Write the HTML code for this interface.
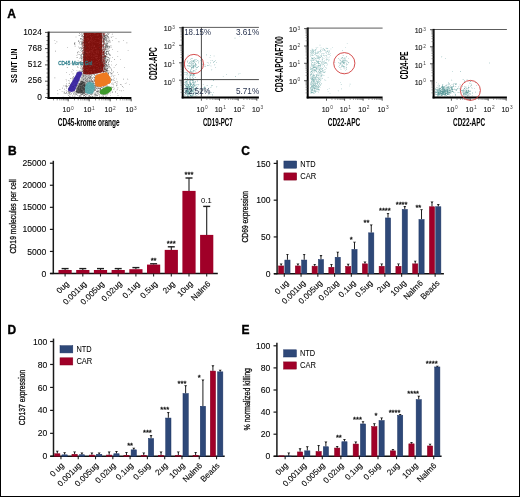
<!DOCTYPE html>
<html><head><meta charset="utf-8"><style>
html,body{margin:0;padding:0;background:#fff;}
#f{position:relative;width:520px;height:497px;box-sizing:border-box;border:1px solid #000;overflow:hidden;}
svg{position:absolute;left:-1px;top:-1px;filter:blur(0.33px);}
text{font-family:"Liberation Sans",sans-serif;}
</style></head><body><div id="f">
<svg width="520" height="497" viewBox="0 0 520 497">
<rect x="0" y="0" width="520" height="497" fill="#fff"/>
<text x="7.3" y="17.8" font-size="12.0" stroke="#000" stroke-width="0.35" font-weight="bold" fill="#000">A</text>
<text x="7.9" y="155.2" font-size="12.0" stroke="#000" stroke-width="0.35" font-weight="bold" fill="#000">B</text>
<text x="241.2" y="155.3" font-size="12.0" stroke="#000" stroke-width="0.35" font-weight="bold" fill="#000">C</text>
<text x="7.6" y="333.8" font-size="12.0" stroke="#000" stroke-width="0.35" font-weight="bold" fill="#000">D</text>
<text x="241.5" y="333.8" font-size="12.0" stroke="#000" stroke-width="0.35" font-weight="bold" fill="#000">E</text>
<path fill="#1e1e1e" fill-opacity="0.75" d="M75.7 36.7h0.6v0.6h-0.6zM82.1 67.5h0.6v0.6h-0.6zM83.2 37.0h0.6v0.6h-0.6zM83.2 53.6h0.6v0.6h-0.6zM73.3 64.6h0.6v0.6h-0.6zM82.8 49.8h0.6v0.6h-0.6zM81.8 51.5h0.6v0.6h-0.6zM82.6 64.7h0.6v0.6h-0.6zM83.1 45.2h0.6v0.6h-0.6zM83.3 62.9h0.6v0.6h-0.6zM79.0 33.1h0.6v0.6h-0.6zM82.3 45.8h0.6v0.6h-0.6zM82.2 71.3h0.6v0.6h-0.6zM83.0 53.3h0.6v0.6h-0.6zM80.7 34.3h0.6v0.6h-0.6zM80.9 49.1h0.6v0.6h-0.6zM81.1 61.4h0.6v0.6h-0.6zM83.6 41.9h0.6v0.6h-0.6zM74.8 45.8h0.6v0.6h-0.6zM80.8 64.1h0.6v0.6h-0.6zM83.0 68.7h0.6v0.6h-0.6zM82.5 62.4h0.6v0.6h-0.6zM83.8 51.4h0.6v0.6h-0.6zM79.4 70.8h0.6v0.6h-0.6zM83.3 69.5h0.6v0.6h-0.6zM83.2 53.6h0.6v0.6h-0.6zM82.0 63.0h0.6v0.6h-0.6zM83.2 70.5h0.6v0.6h-0.6zM83.2 57.2h0.6v0.6h-0.6zM81.7 59.4h0.6v0.6h-0.6zM78.7 40.8h0.6v0.6h-0.6zM80.8 65.3h0.6v0.6h-0.6zM77.4 72.6h0.6v0.6h-0.6zM81.6 69.6h0.6v0.6h-0.6zM77.0 74.5h0.6v0.6h-0.6zM82.9 66.8h0.6v0.6h-0.6zM78.8 35.3h0.6v0.6h-0.6zM82.8 36.7h0.6v0.6h-0.6zM79.4 42.2h0.6v0.6h-0.6zM82.7 38.5h0.6v0.6h-0.6zM78.5 54.2h0.6v0.6h-0.6zM81.5 74.5h0.6v0.6h-0.6zM82.8 42.2h0.6v0.6h-0.6zM81.3 63.4h0.6v0.6h-0.6zM79.5 62.2h0.6v0.6h-0.6zM82.0 58.4h0.6v0.6h-0.6zM83.2 61.8h0.6v0.6h-0.6zM79.9 56.9h0.6v0.6h-0.6zM83.9 54.3h0.6v0.6h-0.6zM81.5 53.7h0.6v0.6h-0.6zM82.9 66.3h0.6v0.6h-0.6zM83.1 33.8h0.6v0.6h-0.6zM81.4 41.8h0.6v0.6h-0.6zM83.5 49.7h0.6v0.6h-0.6zM83.2 72.1h0.6v0.6h-0.6zM79.1 48.0h0.6v0.6h-0.6zM77.4 53.7h0.6v0.6h-0.6zM82.0 56.5h0.6v0.6h-0.6zM76.6 57.2h0.6v0.6h-0.6zM80.5 73.7h0.6v0.6h-0.6zM80.8 65.0h0.6v0.6h-0.6zM83.8 68.3h0.6v0.6h-0.6zM77.3 53.7h0.6v0.6h-0.6zM81.4 44.3h0.6v0.6h-0.6zM78.3 46.7h0.6v0.6h-0.6zM79.5 58.0h0.6v0.6h-0.6zM83.3 52.0h0.6v0.6h-0.6zM79.1 63.4h0.6v0.6h-0.6zM82.9 40.3h0.6v0.6h-0.6zM82.3 50.4h0.6v0.6h-0.6zM80.9 47.3h0.6v0.6h-0.6zM76.0 73.1h0.6v0.6h-0.6zM82.1 39.3h0.6v0.6h-0.6zM79.6 47.6h0.6v0.6h-0.6zM81.2 56.1h0.6v0.6h-0.6zM82.8 38.4h0.6v0.6h-0.6zM83.5 61.7h0.6v0.6h-0.6zM83.0 76.0h0.6v0.6h-0.6zM83.5 56.1h0.6v0.6h-0.6zM82.4 35.3h0.6v0.6h-0.6zM82.8 40.5h0.6v0.6h-0.6zM82.6 73.3h0.6v0.6h-0.6zM81.3 33.4h0.6v0.6h-0.6zM78.5 50.9h0.6v0.6h-0.6zM81.2 43.2h0.6v0.6h-0.6zM83.5 50.4h0.6v0.6h-0.6zM80.4 63.3h0.6v0.6h-0.6zM83.4 49.0h0.6v0.6h-0.6zM83.0 54.3h0.6v0.6h-0.6zM81.3 55.2h0.6v0.6h-0.6zM77.0 52.1h0.6v0.6h-0.6zM76.9 57.3h0.6v0.6h-0.6zM82.7 33.0h0.6v0.6h-0.6zM81.5 66.1h0.6v0.6h-0.6zM82.7 57.1h0.6v0.6h-0.6zM78.7 70.7h0.6v0.6h-0.6zM80.6 56.5h0.6v0.6h-0.6zM80.8 61.7h0.6v0.6h-0.6zM80.1 61.8h0.6v0.6h-0.6zM80.6 66.8h0.6v0.6h-0.6zM81.9 34.2h0.6v0.6h-0.6zM83.0 69.9h0.6v0.6h-0.6zM83.0 60.7h0.6v0.6h-0.6zM81.5 48.3h0.6v0.6h-0.6zM81.8 36.3h0.6v0.6h-0.6zM80.3 70.7h0.6v0.6h-0.6zM81.3 38.8h0.6v0.6h-0.6zM82.1 71.4h0.6v0.6h-0.6zM83.8 44.6h0.6v0.6h-0.6zM83.3 61.4h0.6v0.6h-0.6zM83.3 53.9h0.6v0.6h-0.6zM83.4 64.0h0.6v0.6h-0.6zM80.3 67.9h0.6v0.6h-0.6zM77.7 51.7h0.6v0.6h-0.6zM83.5 45.0h0.6v0.6h-0.6zM82.2 42.1h0.6v0.6h-0.6zM78.2 40.2h0.6v0.6h-0.6zM83.4 71.8h0.6v0.6h-0.6zM80.0 38.8h0.6v0.6h-0.6zM81.5 50.8h0.6v0.6h-0.6zM81.8 64.7h0.6v0.6h-0.6zM82.1 60.5h0.6v0.6h-0.6zM83.2 48.2h0.6v0.6h-0.6zM81.4 57.8h0.6v0.6h-0.6zM76.6 55.0h0.6v0.6h-0.6zM83.5 51.7h0.6v0.6h-0.6zM83.8 41.1h0.6v0.6h-0.6zM82.2 69.6h0.6v0.6h-0.6zM83.4 43.2h0.6v0.6h-0.6zM80.1 41.5h0.6v0.6h-0.6zM83.5 53.9h0.6v0.6h-0.6zM80.9 70.8h0.6v0.6h-0.6zM82.1 67.7h0.6v0.6h-0.6zM81.5 72.2h0.6v0.6h-0.6zM81.6 57.1h0.6v0.6h-0.6zM81.2 54.6h0.6v0.6h-0.6zM83.6 72.1h0.6v0.6h-0.6zM79.8 61.5h0.6v0.6h-0.6zM82.8 38.8h0.6v0.6h-0.6zM77.8 67.2h0.6v0.6h-0.6zM83.6 55.4h0.6v0.6h-0.6zM80.0 54.9h0.6v0.6h-0.6zM82.7 65.1h0.6v0.6h-0.6zM81.3 42.1h0.6v0.6h-0.6zM82.2 54.2h0.6v0.6h-0.6zM83.2 66.4h0.6v0.6h-0.6zM82.1 64.6h0.6v0.6h-0.6zM81.0 42.9h0.6v0.6h-0.6zM83.6 75.7h0.6v0.6h-0.6zM83.8 62.7h0.6v0.6h-0.6zM82.1 43.0h0.6v0.6h-0.6zM80.2 50.2h0.6v0.6h-0.6zM82.7 52.8h0.6v0.6h-0.6zM78.5 73.5h0.6v0.6h-0.6zM81.1 73.6h0.6v0.6h-0.6zM80.9 73.3h0.6v0.6h-0.6zM83.8 64.3h0.6v0.6h-0.6zM79.7 52.2h0.6v0.6h-0.6zM81.1 60.0h0.6v0.6h-0.6zM82.1 39.6h0.6v0.6h-0.6zM82.9 59.4h0.6v0.6h-0.6zM82.9 68.9h0.6v0.6h-0.6zM78.9 43.6h0.6v0.6h-0.6zM80.4 61.0h0.6v0.6h-0.6zM81.8 43.5h0.6v0.6h-0.6zM74.6 44.1h0.6v0.6h-0.6zM81.9 58.5h0.6v0.6h-0.6zM82.8 63.1h0.6v0.6h-0.6zM80.4 46.9h0.6v0.6h-0.6zM74.1 43.4h0.6v0.6h-0.6zM81.9 64.4h0.6v0.6h-0.6zM81.8 47.8h0.6v0.6h-0.6zM78.9 74.2h0.6v0.6h-0.6zM83.2 36.1h0.6v0.6h-0.6zM83.5 54.3h0.6v0.6h-0.6zM83.6 60.2h0.6v0.6h-0.6zM81.3 36.0h0.6v0.6h-0.6zM82.1 74.2h0.6v0.6h-0.6zM82.8 53.2h0.6v0.6h-0.6zM81.5 58.3h0.6v0.6h-0.6zM83.0 56.0h0.6v0.6h-0.6zM80.2 54.8h0.6v0.6h-0.6zM83.6 40.7h0.6v0.6h-0.6zM81.1 38.3h0.6v0.6h-0.6zM81.7 64.0h0.6v0.6h-0.6zM80.0 38.1h0.6v0.6h-0.6zM83.3 67.1h0.6v0.6h-0.6zM81.8 35.4h0.6v0.6h-0.6zM81.5 66.6h0.6v0.6h-0.6zM78.3 41.3h0.6v0.6h-0.6zM83.5 66.9h0.6v0.6h-0.6zM83.1 55.8h0.6v0.6h-0.6zM83.0 75.1h0.6v0.6h-0.6zM82.0 36.6h0.6v0.6h-0.6zM81.3 58.6h0.6v0.6h-0.6zM77.8 60.0h0.6v0.6h-0.6zM81.4 45.7h0.6v0.6h-0.6zM82.1 44.4h0.6v0.6h-0.6zM82.7 68.9h0.6v0.6h-0.6zM79.5 41.9h0.6v0.6h-0.6zM82.3 50.1h0.6v0.6h-0.6zM83.4 74.9h0.6v0.6h-0.6zM82.4 42.4h0.6v0.6h-0.6zM79.3 54.2h0.6v0.6h-0.6zM80.8 47.9h0.6v0.6h-0.6zM80.2 62.2h0.6v0.6h-0.6zM83.4 43.4h0.6v0.6h-0.6zM81.4 35.5h0.6v0.6h-0.6zM79.1 35.4h0.6v0.6h-0.6zM77.4 66.6h0.6v0.6h-0.6zM81.6 54.2h0.6v0.6h-0.6zM82.8 41.9h0.6v0.6h-0.6zM81.5 40.8h0.6v0.6h-0.6zM82.2 47.6h0.6v0.6h-0.6zM80.6 44.4h0.6v0.6h-0.6zM83.6 63.2h0.6v0.6h-0.6zM83.3 54.8h0.6v0.6h-0.6zM80.5 57.7h0.6v0.6h-0.6zM83.5 57.8h0.6v0.6h-0.6zM82.0 73.9h0.6v0.6h-0.6zM104.3 49.3h0.6v0.6h-0.6zM104.9 49.1h0.6v0.6h-0.6zM105.6 62.2h0.6v0.6h-0.6zM104.6 36.7h0.6v0.6h-0.6zM107.5 59.3h0.6v0.6h-0.6zM104.0 66.8h0.6v0.6h-0.6zM104.2 41.1h0.6v0.6h-0.6zM102.6 35.0h0.6v0.6h-0.6zM106.6 54.6h0.6v0.6h-0.6zM104.3 58.3h0.6v0.6h-0.6zM107.1 44.8h0.6v0.6h-0.6zM107.5 48.0h0.6v0.6h-0.6zM103.0 33.1h0.6v0.6h-0.6zM104.0 73.0h0.6v0.6h-0.6zM105.3 56.8h0.6v0.6h-0.6zM102.7 63.1h0.6v0.6h-0.6zM109.3 60.9h0.6v0.6h-0.6zM102.8 54.5h0.6v0.6h-0.6zM111.5 70.7h0.6v0.6h-0.6zM102.4 65.8h0.6v0.6h-0.6zM105.5 67.3h0.6v0.6h-0.6zM103.3 48.9h0.6v0.6h-0.6zM107.4 40.0h0.6v0.6h-0.6zM106.6 64.0h0.6v0.6h-0.6zM108.0 58.9h0.6v0.6h-0.6zM102.5 61.8h0.6v0.6h-0.6zM103.6 73.5h0.6v0.6h-0.6zM103.0 49.7h0.6v0.6h-0.6zM103.9 63.3h0.6v0.6h-0.6zM107.9 38.0h0.6v0.6h-0.6zM106.7 35.4h0.6v0.6h-0.6zM105.2 64.6h0.6v0.6h-0.6zM105.8 75.2h0.6v0.6h-0.6zM108.9 50.3h0.6v0.6h-0.6zM104.5 54.7h0.6v0.6h-0.6zM109.1 66.6h0.6v0.6h-0.6zM103.5 39.3h0.6v0.6h-0.6zM104.2 39.3h0.6v0.6h-0.6zM102.4 55.8h0.6v0.6h-0.6zM110.1 67.6h0.6v0.6h-0.6zM102.5 40.8h0.6v0.6h-0.6zM105.1 44.3h0.6v0.6h-0.6zM105.2 76.0h0.6v0.6h-0.6zM104.6 38.6h0.6v0.6h-0.6zM104.4 33.2h0.6v0.6h-0.6zM104.4 36.2h0.6v0.6h-0.6zM103.7 74.5h0.6v0.6h-0.6zM104.2 72.9h0.6v0.6h-0.6zM103.6 64.6h0.6v0.6h-0.6zM103.6 60.7h0.6v0.6h-0.6zM107.3 33.5h0.6v0.6h-0.6zM109.2 46.2h0.6v0.6h-0.6zM104.0 55.8h0.6v0.6h-0.6zM105.5 60.5h0.6v0.6h-0.6zM108.9 53.4h0.6v0.6h-0.6zM107.5 68.3h0.6v0.6h-0.6zM104.0 54.8h0.6v0.6h-0.6zM106.0 60.8h0.6v0.6h-0.6zM103.9 51.9h0.6v0.6h-0.6zM109.3 46.2h0.6v0.6h-0.6zM104.7 37.6h0.6v0.6h-0.6zM107.1 70.7h0.6v0.6h-0.6zM107.7 63.4h0.6v0.6h-0.6zM102.7 35.5h0.6v0.6h-0.6zM106.3 53.4h0.6v0.6h-0.6zM115.7 38.2h0.6v0.6h-0.6zM106.6 74.2h0.6v0.6h-0.6zM103.3 55.8h0.6v0.6h-0.6zM105.9 42.9h0.6v0.6h-0.6zM105.6 45.0h0.6v0.6h-0.6zM104.0 40.1h0.6v0.6h-0.6zM104.5 35.7h0.6v0.6h-0.6zM107.6 47.3h0.6v0.6h-0.6zM105.4 64.3h0.6v0.6h-0.6zM104.1 41.6h0.6v0.6h-0.6zM106.6 61.1h0.6v0.6h-0.6zM105.5 52.9h0.6v0.6h-0.6zM107.5 67.9h0.6v0.6h-0.6zM106.8 47.3h0.6v0.6h-0.6zM105.5 39.9h0.6v0.6h-0.6zM105.5 34.8h0.6v0.6h-0.6zM106.4 40.0h0.6v0.6h-0.6zM102.5 40.8h0.6v0.6h-0.6zM107.3 51.1h0.6v0.6h-0.6zM105.2 56.3h0.6v0.6h-0.6zM103.6 36.5h0.6v0.6h-0.6zM105.7 61.7h0.6v0.6h-0.6zM103.6 63.7h0.6v0.6h-0.6zM107.7 33.6h0.6v0.6h-0.6zM105.2 45.2h0.6v0.6h-0.6zM107.2 53.9h0.6v0.6h-0.6zM103.8 36.2h0.6v0.6h-0.6zM112.1 39.9h0.6v0.6h-0.6zM106.0 62.4h0.6v0.6h-0.6zM103.0 70.7h0.6v0.6h-0.6zM111.9 33.8h0.6v0.6h-0.6zM104.9 61.7h0.6v0.6h-0.6zM102.9 54.9h0.6v0.6h-0.6zM103.6 58.7h0.6v0.6h-0.6zM104.5 68.2h0.6v0.6h-0.6zM103.7 37.4h0.6v0.6h-0.6zM103.4 68.6h0.6v0.6h-0.6zM108.5 40.9h0.6v0.6h-0.6zM106.5 70.0h0.6v0.6h-0.6zM104.2 35.2h0.6v0.6h-0.6zM105.8 51.8h0.6v0.6h-0.6zM103.2 40.8h0.6v0.6h-0.6zM104.2 70.7h0.6v0.6h-0.6zM108.0 72.7h0.6v0.6h-0.6zM103.0 64.7h0.6v0.6h-0.6zM105.2 73.7h0.6v0.6h-0.6zM103.0 44.0h0.6v0.6h-0.6zM109.1 54.8h0.6v0.6h-0.6zM107.3 46.1h0.6v0.6h-0.6zM104.4 54.6h0.6v0.6h-0.6zM103.8 70.3h0.6v0.6h-0.6zM104.7 75.1h0.6v0.6h-0.6zM108.9 46.7h0.6v0.6h-0.6zM105.8 68.9h0.6v0.6h-0.6zM105.6 60.9h0.6v0.6h-0.6zM102.8 53.5h0.6v0.6h-0.6zM112.7 36.2h0.6v0.6h-0.6zM111.7 72.8h0.6v0.6h-0.6zM103.7 38.9h0.6v0.6h-0.6zM109.3 54.3h0.6v0.6h-0.6zM102.7 55.9h0.6v0.6h-0.6zM103.2 62.3h0.6v0.6h-0.6zM102.7 58.9h0.6v0.6h-0.6zM108.0 36.2h0.6v0.6h-0.6zM105.6 60.7h0.6v0.6h-0.6zM103.4 50.9h0.6v0.6h-0.6zM109.4 58.8h0.6v0.6h-0.6zM103.0 44.5h0.6v0.6h-0.6zM111.1 61.5h0.6v0.6h-0.6zM102.9 38.7h0.6v0.6h-0.6zM107.8 39.4h0.6v0.6h-0.6zM109.7 45.7h0.6v0.6h-0.6zM103.2 44.4h0.6v0.6h-0.6zM107.5 60.3h0.6v0.6h-0.6zM104.6 64.1h0.6v0.6h-0.6zM102.5 58.1h0.6v0.6h-0.6zM109.5 47.0h0.6v0.6h-0.6zM103.9 47.7h0.6v0.6h-0.6zM103.0 38.1h0.6v0.6h-0.6zM107.1 49.6h0.6v0.6h-0.6zM107.6 36.1h0.6v0.6h-0.6zM102.9 66.0h0.6v0.6h-0.6zM105.9 52.9h0.6v0.6h-0.6zM105.1 37.2h0.6v0.6h-0.6zM104.0 70.7h0.6v0.6h-0.6zM106.1 46.3h0.6v0.6h-0.6zM104.6 67.1h0.6v0.6h-0.6zM103.9 35.4h0.6v0.6h-0.6zM103.3 74.1h0.6v0.6h-0.6zM102.8 66.5h0.6v0.6h-0.6zM105.9 70.5h0.6v0.6h-0.6zM102.4 73.2h0.6v0.6h-0.6zM106.8 43.3h0.6v0.6h-0.6zM108.7 33.3h0.6v0.6h-0.6zM108.4 50.8h0.6v0.6h-0.6zM104.6 67.2h0.6v0.6h-0.6zM108.7 70.9h0.6v0.6h-0.6zM105.0 39.7h0.6v0.6h-0.6zM103.4 43.9h0.6v0.6h-0.6zM109.6 41.2h0.6v0.6h-0.6zM108.9 65.8h0.6v0.6h-0.6zM104.5 50.2h0.6v0.6h-0.6zM104.1 57.8h0.6v0.6h-0.6zM107.3 72.7h0.6v0.6h-0.6zM103.4 51.9h0.6v0.6h-0.6zM103.2 64.2h0.6v0.6h-0.6zM104.8 36.1h0.6v0.6h-0.6zM109.2 40.2h0.6v0.6h-0.6zM105.2 49.4h0.6v0.6h-0.6zM104.8 55.8h0.6v0.6h-0.6zM109.2 47.7h0.6v0.6h-0.6zM106.8 37.4h0.6v0.6h-0.6zM103.2 63.4h0.6v0.6h-0.6zM104.6 65.3h0.6v0.6h-0.6zM104.4 55.0h0.6v0.6h-0.6zM103.0 60.9h0.6v0.6h-0.6zM109.8 54.6h0.6v0.6h-0.6zM105.6 47.9h0.6v0.6h-0.6zM103.4 53.4h0.6v0.6h-0.6zM103.5 35.6h0.6v0.6h-0.6zM102.7 34.6h0.6v0.6h-0.6zM105.3 52.0h0.6v0.6h-0.6zM105.2 57.6h0.6v0.6h-0.6zM108.2 34.1h0.6v0.6h-0.6zM106.2 64.7h0.6v0.6h-0.6zM105.5 68.5h0.6v0.6h-0.6zM104.2 57.5h0.6v0.6h-0.6zM102.6 75.3h0.6v0.6h-0.6zM106.7 38.1h0.6v0.6h-0.6zM103.3 41.9h0.6v0.6h-0.6zM104.6 75.5h0.6v0.6h-0.6zM102.8 53.4h0.6v0.6h-0.6zM108.4 53.4h0.6v0.6h-0.6zM106.5 45.6h0.6v0.6h-0.6zM108.9 46.2h0.6v0.6h-0.6zM106.7 50.8h0.6v0.6h-0.6zM105.1 70.6h0.6v0.6h-0.6zM108.4 57.2h0.6v0.6h-0.6zM110.1 72.1h0.6v0.6h-0.6zM102.6 49.4h0.6v0.6h-0.6zM104.6 72.9h0.6v0.6h-0.6zM108.1 45.9h0.6v0.6h-0.6zM102.5 51.2h0.6v0.6h-0.6zM105.4 61.9h0.6v0.6h-0.6zM106.2 34.8h0.6v0.6h-0.6zM107.4 69.5h0.6v0.6h-0.6zM102.4 75.1h0.6v0.6h-0.6zM108.2 64.1h0.6v0.6h-0.6zM102.9 52.2h0.6v0.6h-0.6zM105.8 56.8h0.6v0.6h-0.6zM103.5 65.8h0.6v0.6h-0.6zM104.6 42.5h0.6v0.6h-0.6zM111.2 37.5h0.6v0.6h-0.6zM107.1 33.7h0.6v0.6h-0.6zM105.9 38.9h0.6v0.6h-0.6zM107.9 45.9h0.6v0.6h-0.6zM102.8 47.6h0.6v0.6h-0.6zM107.9 41.0h0.6v0.6h-0.6zM104.9 49.9h0.6v0.6h-0.6zM104.7 47.4h0.6v0.6h-0.6zM104.7 68.8h0.6v0.6h-0.6zM102.5 64.9h0.6v0.6h-0.6zM106.5 42.4h0.6v0.6h-0.6zM108.3 57.3h0.6v0.6h-0.6zM105.8 69.8h0.6v0.6h-0.6zM107.1 57.4h0.6v0.6h-0.6zM105.5 39.7h0.6v0.6h-0.6zM106.3 70.1h0.6v0.6h-0.6zM109.0 60.0h0.6v0.6h-0.6zM108.6 60.9h0.6v0.6h-0.6zM106.2 35.7h0.6v0.6h-0.6zM108.3 37.5h0.6v0.6h-0.6zM105.6 64.7h0.6v0.6h-0.6zM106.6 72.0h0.6v0.6h-0.6zM102.6 52.3h0.6v0.6h-0.6zM103.3 74.0h0.6v0.6h-0.6zM105.3 75.2h0.6v0.6h-0.6zM110.8 36.7h0.6v0.6h-0.6zM102.6 54.0h0.6v0.6h-0.6zM104.9 34.9h0.6v0.6h-0.6zM114.3 59.3h0.6v0.6h-0.6zM106.5 62.5h0.6v0.6h-0.6zM103.2 47.5h0.6v0.6h-0.6zM106.8 46.2h0.6v0.6h-0.6zM105.5 62.4h0.6v0.6h-0.6zM102.5 50.7h0.6v0.6h-0.6zM103.0 61.4h0.6v0.6h-0.6zM107.9 66.5h0.6v0.6h-0.6zM108.7 53.7h0.6v0.6h-0.6zM103.2 59.8h0.6v0.6h-0.6zM105.1 53.5h0.6v0.6h-0.6zM103.6 46.6h0.6v0.6h-0.6zM106.1 49.6h0.6v0.6h-0.6zM106.1 62.0h0.6v0.6h-0.6zM105.6 65.5h0.6v0.6h-0.6zM103.4 51.6h0.6v0.6h-0.6zM102.7 39.9h0.6v0.6h-0.6zM107.2 46.4h0.6v0.6h-0.6zM103.7 74.9h0.6v0.6h-0.6zM105.1 71.0h0.6v0.6h-0.6zM109.7 42.3h0.6v0.6h-0.6zM104.8 66.0h0.6v0.6h-0.6zM109.8 40.7h0.6v0.6h-0.6zM105.5 64.6h0.6v0.6h-0.6zM104.1 59.1h0.6v0.6h-0.6zM104.1 55.8h0.6v0.6h-0.6zM104.3 68.5h0.6v0.6h-0.6zM102.5 62.6h0.6v0.6h-0.6zM110.8 46.8h0.6v0.6h-0.6zM104.4 50.1h0.6v0.6h-0.6zM105.4 52.7h0.6v0.6h-0.6zM103.7 53.0h0.6v0.6h-0.6zM108.1 73.9h0.6v0.6h-0.6zM104.0 71.3h0.6v0.6h-0.6zM104.6 38.8h0.6v0.6h-0.6zM115.2 64.9h0.6v0.6h-0.6zM104.0 50.9h0.6v0.6h-0.6zM106.1 69.2h0.6v0.6h-0.6zM113.8 66.9h0.6v0.6h-0.6zM105.7 62.8h0.6v0.6h-0.6zM106.4 51.5h0.6v0.6h-0.6zM107.5 43.3h0.6v0.6h-0.6zM105.8 37.1h0.6v0.6h-0.6zM102.6 60.7h0.6v0.6h-0.6zM103.4 74.1h0.6v0.6h-0.6zM104.7 66.4h0.6v0.6h-0.6zM102.6 46.5h0.6v0.6h-0.6zM104.1 35.3h0.6v0.6h-0.6zM107.3 35.9h0.6v0.6h-0.6zM103.8 64.3h0.6v0.6h-0.6zM105.1 49.5h0.6v0.6h-0.6zM105.0 69.4h0.6v0.6h-0.6zM107.3 43.6h0.6v0.6h-0.6zM104.1 54.8h0.6v0.6h-0.6zM111.1 68.8h0.6v0.6h-0.6zM106.0 40.7h0.6v0.6h-0.6zM103.5 35.1h0.6v0.6h-0.6zM102.7 56.0h0.6v0.6h-0.6zM107.0 59.7h0.6v0.6h-0.6zM104.2 67.0h0.6v0.6h-0.6zM102.9 66.0h0.6v0.6h-0.6zM102.8 57.5h0.6v0.6h-0.6zM106.8 33.7h0.6v0.6h-0.6zM109.1 58.4h0.6v0.6h-0.6zM107.8 45.2h0.6v0.6h-0.6zM106.3 62.4h0.6v0.6h-0.6zM105.6 59.7h0.6v0.6h-0.6zM107.8 40.0h0.6v0.6h-0.6zM103.2 52.1h0.6v0.6h-0.6zM103.8 73.8h0.6v0.6h-0.6zM103.7 48.4h0.6v0.6h-0.6zM103.3 73.5h0.6v0.6h-0.6zM105.8 71.9h0.6v0.6h-0.6zM108.5 53.8h0.6v0.6h-0.6zM107.0 35.5h0.6v0.6h-0.6zM106.8 42.3h0.6v0.6h-0.6zM105.1 59.3h0.6v0.6h-0.6zM102.4 62.6h0.6v0.6h-0.6zM102.4 49.1h0.6v0.6h-0.6zM106.2 56.1h0.6v0.6h-0.6zM107.2 60.2h0.6v0.6h-0.6zM106.7 44.8h0.6v0.6h-0.6zM104.1 36.7h0.6v0.6h-0.6zM103.8 71.5h0.6v0.6h-0.6zM104.2 57.1h0.6v0.6h-0.6zM105.3 47.3h0.6v0.6h-0.6zM104.1 52.7h0.6v0.6h-0.6zM102.8 74.0h0.6v0.6h-0.6zM106.1 38.9h0.6v0.6h-0.6zM108.5 62.7h0.6v0.6h-0.6zM107.8 58.7h0.6v0.6h-0.6zM110.7 45.0h0.6v0.6h-0.6zM102.6 75.3h0.6v0.6h-0.6zM104.3 52.3h0.6v0.6h-0.6zM104.4 60.6h0.6v0.6h-0.6zM105.0 58.3h0.6v0.6h-0.6zM105.5 73.5h0.6v0.6h-0.6zM106.4 64.7h0.6v0.6h-0.6zM102.6 34.8h0.6v0.6h-0.6zM105.8 48.4h0.6v0.6h-0.6zM106.4 52.6h0.6v0.6h-0.6zM106.3 41.2h0.6v0.6h-0.6zM104.0 36.3h0.6v0.6h-0.6zM103.3 58.6h0.6v0.6h-0.6zM102.8 73.5h0.6v0.6h-0.6zM104.4 36.7h0.6v0.6h-0.6zM103.1 38.3h0.6v0.6h-0.6zM103.0 42.2h0.6v0.6h-0.6zM103.0 55.9h0.6v0.6h-0.6zM106.7 36.6h0.6v0.6h-0.6zM106.3 53.9h0.6v0.6h-0.6zM108.2 48.6h0.6v0.6h-0.6zM104.7 56.3h0.6v0.6h-0.6zM107.5 65.8h0.6v0.6h-0.6zM104.5 55.7h0.6v0.6h-0.6zM110.1 55.5h0.6v0.6h-0.6zM104.0 36.1h0.6v0.6h-0.6zM104.7 57.6h0.6v0.6h-0.6zM107.7 56.9h0.6v0.6h-0.6zM108.6 46.7h0.6v0.6h-0.6zM104.6 42.1h0.6v0.6h-0.6zM105.9 47.4h0.6v0.6h-0.6zM106.0 34.5h0.6v0.6h-0.6zM103.3 72.7h0.6v0.6h-0.6zM102.5 53.9h0.6v0.6h-0.6zM110.6 73.6h0.6v0.6h-0.6zM107.2 41.2h0.6v0.6h-0.6zM104.3 61.8h0.6v0.6h-0.6zM103.6 38.6h0.6v0.6h-0.6zM104.6 66.0h0.6v0.6h-0.6zM105.7 55.4h0.6v0.6h-0.6zM105.5 35.4h0.6v0.6h-0.6zM104.1 38.7h0.6v0.6h-0.6zM102.4 63.2h0.6v0.6h-0.6zM103.4 66.8h0.6v0.6h-0.6zM108.5 37.1h0.6v0.6h-0.6zM105.5 75.1h0.6v0.6h-0.6zM102.9 40.9h0.6v0.6h-0.6zM104.8 36.6h0.6v0.6h-0.6zM107.7 75.8h0.6v0.6h-0.6zM109.2 38.7h0.6v0.6h-0.6zM104.0 53.8h0.6v0.6h-0.6zM107.0 67.9h0.6v0.6h-0.6zM106.6 51.3h0.6v0.6h-0.6zM105.4 46.1h0.6v0.6h-0.6zM104.1 56.2h0.6v0.6h-0.6zM105.3 66.2h0.6v0.6h-0.6zM103.9 58.9h0.6v0.6h-0.6zM104.9 47.6h0.6v0.6h-0.6zM104.7 33.1h0.6v0.6h-0.6zM105.5 68.0h0.6v0.6h-0.6zM102.8 34.0h0.6v0.6h-0.6zM105.8 73.8h0.6v0.6h-0.6zM108.5 51.5h0.6v0.6h-0.6zM102.4 74.7h0.6v0.6h-0.6zM104.7 64.0h0.6v0.6h-0.6zM104.3 69.6h0.6v0.6h-0.6zM106.5 65.3h0.6v0.6h-0.6zM105.0 46.1h0.6v0.6h-0.6zM105.2 60.4h0.6v0.6h-0.6zM111.7 74.8h0.6v0.6h-0.6zM103.7 38.4h0.6v0.6h-0.6zM103.0 41.6h0.6v0.6h-0.6zM107.0 59.4h0.6v0.6h-0.6zM103.8 57.8h0.6v0.6h-0.6zM103.6 47.3h0.6v0.6h-0.6zM104.8 63.2h0.6v0.6h-0.6zM102.6 36.5h0.6v0.6h-0.6zM106.4 39.2h0.6v0.6h-0.6zM106.0 64.6h0.6v0.6h-0.6zM102.6 47.2h0.6v0.6h-0.6zM104.2 43.9h0.6v0.6h-0.6zM102.9 45.6h0.6v0.6h-0.6zM109.7 57.7h0.6v0.6h-0.6zM106.0 69.4h0.6v0.6h-0.6zM108.2 75.1h0.6v0.6h-0.6zM104.3 75.3h0.6v0.6h-0.6zM102.6 39.4h0.6v0.6h-0.6zM104.8 43.3h0.6v0.6h-0.6zM103.1 60.4h0.6v0.6h-0.6zM105.4 69.1h0.6v0.6h-0.6zM108.6 70.5h0.6v0.6h-0.6zM106.1 75.3h0.6v0.6h-0.6zM108.0 52.3h0.6v0.6h-0.6zM105.1 45.4h0.6v0.6h-0.6zM106.8 45.2h0.6v0.6h-0.6zM105.8 40.4h0.6v0.6h-0.6zM107.4 71.6h0.6v0.6h-0.6zM108.5 42.4h0.6v0.6h-0.6zM102.9 72.3h0.6v0.6h-0.6zM106.1 37.9h0.6v0.6h-0.6zM107.4 35.4h0.6v0.6h-0.6zM104.5 69.1h0.6v0.6h-0.6zM106.2 68.0h0.6v0.6h-0.6zM104.8 49.2h0.6v0.6h-0.6zM105.8 51.2h0.6v0.6h-0.6zM106.7 53.0h0.6v0.6h-0.6zM103.0 74.9h0.6v0.6h-0.6zM105.7 47.1h0.6v0.6h-0.6zM103.5 72.8h0.6v0.6h-0.6zM102.6 52.1h0.6v0.6h-0.6zM112.8 72.2h0.6v0.6h-0.6zM102.7 38.4h0.6v0.6h-0.6zM104.9 74.1h0.6v0.6h-0.6zM102.8 64.3h0.6v0.6h-0.6zM106.0 54.1h0.6v0.6h-0.6zM105.6 38.7h0.6v0.6h-0.6zM105.4 56.1h0.6v0.6h-0.6zM103.9 51.5h0.6v0.6h-0.6zM104.9 36.6h0.6v0.6h-0.6zM103.0 40.6h0.6v0.6h-0.6zM107.5 67.0h0.6v0.6h-0.6zM104.5 71.7h0.6v0.6h-0.6zM102.5 41.5h0.6v0.6h-0.6zM103.0 66.0h0.6v0.6h-0.6zM103.2 51.4h0.6v0.6h-0.6zM103.5 55.9h0.6v0.6h-0.6zM103.7 37.0h0.6v0.6h-0.6zM105.6 74.4h0.6v0.6h-0.6zM103.3 72.6h0.6v0.6h-0.6zM102.8 58.9h0.6v0.6h-0.6zM106.3 51.1h0.6v0.6h-0.6zM105.7 67.9h0.6v0.6h-0.6zM105.5 44.4h0.6v0.6h-0.6zM103.6 50.4h0.6v0.6h-0.6zM105.3 71.7h0.6v0.6h-0.6zM102.5 71.5h0.6v0.6h-0.6zM106.3 44.3h0.6v0.6h-0.6zM103.9 58.6h0.6v0.6h-0.6zM102.6 37.3h0.6v0.6h-0.6zM102.5 37.1h0.6v0.6h-0.6zM104.8 37.4h0.6v0.6h-0.6zM103.9 51.7h0.6v0.6h-0.6zM103.7 67.6h0.6v0.6h-0.6zM112.2 49.5h0.6v0.6h-0.6zM103.4 33.8h0.6v0.6h-0.6zM102.9 38.1h0.6v0.6h-0.6zM103.8 71.1h0.6v0.6h-0.6zM108.0 53.0h0.6v0.6h-0.6zM106.8 74.1h0.6v0.6h-0.6zM102.4 52.6h0.6v0.6h-0.6zM103.2 73.8h0.6v0.6h-0.6zM105.3 37.5h0.6v0.6h-0.6zM105.8 43.6h0.6v0.6h-0.6zM102.8 46.0h0.6v0.6h-0.6zM106.0 71.6h0.6v0.6h-0.6zM105.1 38.6h0.6v0.6h-0.6zM108.9 40.0h0.6v0.6h-0.6zM103.6 43.8h0.6v0.6h-0.6zM103.3 71.3h0.6v0.6h-0.6zM102.5 34.6h0.6v0.6h-0.6zM105.6 61.5h0.6v0.6h-0.6zM104.0 38.1h0.6v0.6h-0.6zM106.0 45.1h0.6v0.6h-0.6zM105.8 49.3h0.6v0.6h-0.6zM98.1 86.2h0.6v0.6h-0.6zM76.8 87.5h0.6v0.6h-0.6zM97.6 93.5h0.6v0.6h-0.6zM80.6 72.9h0.6v0.6h-0.6zM99.7 69.3h0.6v0.6h-0.6zM84.5 74.3h0.6v0.6h-0.6zM81.7 68.6h0.6v0.6h-0.6zM89.5 88.7h0.6v0.6h-0.6zM96.3 85.0h0.6v0.6h-0.6zM88.3 92.0h0.6v0.6h-0.6zM97.1 89.2h0.6v0.6h-0.6zM76.4 84.3h0.6v0.6h-0.6zM80.5 84.4h0.6v0.6h-0.6zM93.9 74.1h0.6v0.6h-0.6zM93.7 90.0h0.6v0.6h-0.6zM96.9 86.1h0.6v0.6h-0.6zM83.4 77.2h0.6v0.6h-0.6zM80.9 82.9h0.6v0.6h-0.6zM103.8 85.0h0.6v0.6h-0.6zM92.0 74.2h0.6v0.6h-0.6zM96.4 80.3h0.6v0.6h-0.6zM73.0 69.9h0.6v0.6h-0.6zM88.6 75.8h0.6v0.6h-0.6zM108.5 82.3h0.6v0.6h-0.6zM81.7 78.6h0.6v0.6h-0.6zM107.9 75.4h0.6v0.6h-0.6zM99.7 85.1h0.6v0.6h-0.6zM106.7 85.7h0.6v0.6h-0.6zM88.0 85.7h0.6v0.6h-0.6zM92.7 88.8h0.6v0.6h-0.6zM91.4 95.8h0.6v0.6h-0.6zM91.1 85.1h0.6v0.6h-0.6zM85.5 82.9h0.6v0.6h-0.6zM92.4 83.3h0.6v0.6h-0.6zM101.1 78.3h0.6v0.6h-0.6zM83.7 89.8h0.6v0.6h-0.6zM89.3 77.4h0.6v0.6h-0.6zM103.6 87.5h0.6v0.6h-0.6zM65.8 79.5h0.6v0.6h-0.6zM100.0 87.9h0.6v0.6h-0.6zM87.1 93.0h0.6v0.6h-0.6zM84.3 80.5h0.6v0.6h-0.6zM93.5 82.1h0.6v0.6h-0.6zM100.2 89.3h0.6v0.6h-0.6zM91.8 91.9h0.6v0.6h-0.6zM85.4 80.7h0.6v0.6h-0.6zM109.3 82.8h0.6v0.6h-0.6zM102.9 79.2h0.6v0.6h-0.6zM89.6 81.5h0.6v0.6h-0.6zM94.0 79.8h0.6v0.6h-0.6zM92.5 86.9h0.6v0.6h-0.6zM104.3 83.0h0.6v0.6h-0.6zM98.8 88.6h0.6v0.6h-0.6zM81.6 71.3h0.6v0.6h-0.6zM108.4 91.4h0.6v0.6h-0.6zM92.9 84.7h0.6v0.6h-0.6zM83.0 72.6h0.6v0.6h-0.6zM95.5 71.9h0.6v0.6h-0.6zM101.4 77.5h0.6v0.6h-0.6zM95.2 95.7h0.6v0.6h-0.6zM111.1 80.3h0.6v0.6h-0.6zM102.9 75.0h0.6v0.6h-0.6zM86.5 84.8h0.6v0.6h-0.6zM106.1 78.2h0.6v0.6h-0.6zM97.7 82.9h0.6v0.6h-0.6zM79.7 81.3h0.6v0.6h-0.6zM107.2 81.6h0.6v0.6h-0.6zM97.3 88.0h0.6v0.6h-0.6zM84.9 90.8h0.6v0.6h-0.6zM107.2 93.3h0.6v0.6h-0.6zM105.3 78.9h0.6v0.6h-0.6zM86.4 76.7h0.6v0.6h-0.6zM83.2 76.6h0.6v0.6h-0.6zM102.1 92.4h0.6v0.6h-0.6zM85.8 87.8h0.6v0.6h-0.6zM79.6 79.9h0.6v0.6h-0.6zM82.3 70.8h0.6v0.6h-0.6zM92.7 82.7h0.6v0.6h-0.6zM88.1 78.5h0.6v0.6h-0.6zM82.3 81.2h0.6v0.6h-0.6zM86.2 83.8h0.6v0.6h-0.6zM80.1 83.7h0.6v0.6h-0.6zM97.2 90.8h0.6v0.6h-0.6zM102.6 83.4h0.6v0.6h-0.6zM85.3 69.3h0.6v0.6h-0.6zM92.0 91.9h0.6v0.6h-0.6zM108.7 64.3h0.6v0.6h-0.6zM84.5 79.6h0.6v0.6h-0.6zM81.7 83.4h0.6v0.6h-0.6zM92.5 78.4h0.6v0.6h-0.6zM91.7 70.9h0.6v0.6h-0.6zM82.4 75.8h0.6v0.6h-0.6zM101.0 70.7h0.6v0.6h-0.6zM89.9 87.5h0.6v0.6h-0.6zM91.5 87.7h0.6v0.6h-0.6zM85.5 85.1h0.6v0.6h-0.6zM99.3 92.0h0.6v0.6h-0.6zM92.2 82.7h0.6v0.6h-0.6zM107.8 86.2h0.6v0.6h-0.6zM106.3 87.0h0.6v0.6h-0.6zM83.8 95.1h0.6v0.6h-0.6zM96.5 85.5h0.6v0.6h-0.6zM91.0 87.2h0.6v0.6h-0.6zM81.1 77.1h0.6v0.6h-0.6zM84.6 84.2h0.6v0.6h-0.6zM101.4 87.3h0.6v0.6h-0.6zM95.9 78.0h0.6v0.6h-0.6zM74.7 85.0h0.6v0.6h-0.6zM93.7 84.7h0.6v0.6h-0.6zM106.6 80.9h0.6v0.6h-0.6zM90.3 66.0h0.6v0.6h-0.6zM97.9 81.9h0.6v0.6h-0.6zM84.9 84.9h0.6v0.6h-0.6zM81.9 78.4h0.6v0.6h-0.6zM111.9 87.5h0.6v0.6h-0.6zM101.5 87.4h0.6v0.6h-0.6zM98.7 83.6h0.6v0.6h-0.6zM115.1 81.7h0.6v0.6h-0.6zM99.6 80.7h0.6v0.6h-0.6zM88.7 65.1h0.6v0.6h-0.6zM73.0 93.0h0.6v0.6h-0.6zM107.1 79.1h0.6v0.6h-0.6zM91.9 86.4h0.6v0.6h-0.6zM82.3 94.5h0.6v0.6h-0.6zM81.8 77.1h0.6v0.6h-0.6zM64.5 92.7h0.6v0.6h-0.6zM92.7 93.5h0.6v0.6h-0.6zM82.1 84.5h0.6v0.6h-0.6zM92.9 83.5h0.6v0.6h-0.6zM105.9 79.3h0.6v0.6h-0.6zM101.1 91.5h0.6v0.6h-0.6zM97.7 86.1h0.6v0.6h-0.6zM96.9 75.8h0.6v0.6h-0.6zM94.6 93.3h0.6v0.6h-0.6zM82.2 82.7h0.6v0.6h-0.6zM100.5 72.5h0.6v0.6h-0.6zM90.7 70.2h0.6v0.6h-0.6zM86.0 72.2h0.6v0.6h-0.6zM83.1 78.6h0.6v0.6h-0.6zM89.3 80.6h0.6v0.6h-0.6zM68.0 93.2h0.6v0.6h-0.6zM89.3 74.3h0.6v0.6h-0.6zM85.7 84.2h0.6v0.6h-0.6zM82.0 79.1h0.6v0.6h-0.6zM87.3 85.8h0.6v0.6h-0.6zM84.5 85.2h0.6v0.6h-0.6zM95.5 81.0h0.6v0.6h-0.6zM104.4 82.1h0.6v0.6h-0.6zM80.2 84.1h0.6v0.6h-0.6zM93.2 81.7h0.6v0.6h-0.6zM94.3 85.2h0.6v0.6h-0.6zM89.5 91.2h0.6v0.6h-0.6zM91.4 76.4h0.6v0.6h-0.6zM79.8 85.7h0.6v0.6h-0.6zM99.4 70.9h0.6v0.6h-0.6zM84.8 86.5h0.6v0.6h-0.6zM102.3 72.8h0.6v0.6h-0.6zM87.9 87.8h0.6v0.6h-0.6zM86.7 78.8h0.6v0.6h-0.6zM86.6 72.8h0.6v0.6h-0.6zM92.5 84.1h0.6v0.6h-0.6zM78.0 82.7h0.6v0.6h-0.6zM103.1 83.4h0.6v0.6h-0.6zM101.5 78.1h0.6v0.6h-0.6zM105.7 76.5h0.6v0.6h-0.6zM110.8 78.8h0.6v0.6h-0.6zM84.8 75.7h0.6v0.6h-0.6zM87.8 78.5h0.6v0.6h-0.6zM85.1 79.7h0.6v0.6h-0.6zM98.6 88.2h0.6v0.6h-0.6zM88.6 90.6h0.6v0.6h-0.6zM82.0 74.8h0.6v0.6h-0.6zM80.7 86.2h0.6v0.6h-0.6zM76.5 72.2h0.6v0.6h-0.6zM104.8 94.0h0.6v0.6h-0.6zM105.4 71.5h0.6v0.6h-0.6zM92.1 87.8h0.6v0.6h-0.6zM92.9 70.6h0.6v0.6h-0.6zM88.5 70.1h0.6v0.6h-0.6zM98.7 71.7h0.6v0.6h-0.6zM76.9 85.1h0.6v0.6h-0.6zM85.8 86.0h0.6v0.6h-0.6zM85.4 80.5h0.6v0.6h-0.6zM94.3 74.7h0.6v0.6h-0.6zM72.7 73.6h0.6v0.6h-0.6zM84.9 80.5h0.6v0.6h-0.6zM91.3 81.4h0.6v0.6h-0.6zM97.0 75.7h0.6v0.6h-0.6zM105.8 95.9h0.6v0.6h-0.6zM95.5 83.2h0.6v0.6h-0.6zM104.3 86.4h0.6v0.6h-0.6zM93.7 80.7h0.6v0.6h-0.6zM84.5 73.7h0.6v0.6h-0.6zM98.5 90.2h0.6v0.6h-0.6zM81.3 81.4h0.6v0.6h-0.6zM94.0 78.9h0.6v0.6h-0.6zM84.2 79.1h0.6v0.6h-0.6zM72.1 81.5h0.6v0.6h-0.6zM88.9 96.7h0.6v0.6h-0.6zM101.2 79.5h0.6v0.6h-0.6zM91.8 93.9h0.6v0.6h-0.6zM107.9 83.2h0.6v0.6h-0.6zM90.5 71.8h0.6v0.6h-0.6zM88.6 80.7h0.6v0.6h-0.6zM84.5 94.0h0.6v0.6h-0.6zM73.1 80.9h0.6v0.6h-0.6zM95.9 84.9h0.6v0.6h-0.6zM108.7 72.1h0.6v0.6h-0.6zM84.3 82.6h0.6v0.6h-0.6zM93.1 79.2h0.6v0.6h-0.6zM84.2 89.4h0.6v0.6h-0.6zM81.3 77.8h0.6v0.6h-0.6zM106.2 94.0h0.6v0.6h-0.6zM100.5 75.9h0.6v0.6h-0.6zM83.3 75.6h0.6v0.6h-0.6zM80.5 79.0h0.6v0.6h-0.6zM104.5 83.4h0.6v0.6h-0.6zM84.3 76.4h0.6v0.6h-0.6zM80.0 90.3h0.6v0.6h-0.6zM71.6 83.8h0.6v0.6h-0.6zM77.4 74.4h0.6v0.6h-0.6zM76.9 88.6h0.6v0.6h-0.6zM81.4 74.1h0.6v0.6h-0.6zM97.6 85.7h0.6v0.6h-0.6zM88.9 67.6h0.6v0.6h-0.6zM106.1 85.7h0.6v0.6h-0.6zM95.6 77.6h0.6v0.6h-0.6zM98.0 77.8h0.6v0.6h-0.6zM92.0 80.4h0.6v0.6h-0.6zM104.2 78.4h0.6v0.6h-0.6zM88.1 89.4h0.6v0.6h-0.6zM93.8 81.5h0.6v0.6h-0.6zM89.1 88.3h0.6v0.6h-0.6zM85.0 84.9h0.6v0.6h-0.6zM111.8 84.4h0.6v0.6h-0.6zM83.6 73.2h0.6v0.6h-0.6zM92.9 73.0h0.6v0.6h-0.6zM75.5 76.3h0.6v0.6h-0.6zM80.5 87.7h0.6v0.6h-0.6zM76.9 92.6h0.6v0.6h-0.6zM83.8 82.4h0.6v0.6h-0.6zM98.1 83.1h0.6v0.6h-0.6zM98.6 74.6h0.6v0.6h-0.6zM68.6 80.1h0.6v0.6h-0.6zM74.5 77.4h0.6v0.6h-0.6zM100.7 80.1h0.6v0.6h-0.6zM85.3 73.6h0.6v0.6h-0.6zM88.3 80.2h0.6v0.6h-0.6zM75.4 83.5h0.6v0.6h-0.6zM80.4 83.0h0.6v0.6h-0.6zM86.7 88.4h0.6v0.6h-0.6zM99.8 81.5h0.6v0.6h-0.6zM90.1 84.5h0.6v0.6h-0.6zM105.1 88.9h0.6v0.6h-0.6zM92.9 83.7h0.6v0.6h-0.6zM107.2 70.1h0.6v0.6h-0.6zM96.8 75.3h0.6v0.6h-0.6zM105.0 78.2h0.6v0.6h-0.6zM90.4 74.1h0.6v0.6h-0.6zM91.8 87.3h0.6v0.6h-0.6zM108.4 72.9h0.6v0.6h-0.6zM101.2 81.8h0.6v0.6h-0.6zM97.1 63.2h0.6v0.6h-0.6zM108.0 83.0h0.6v0.6h-0.6zM77.5 90.1h0.6v0.6h-0.6zM85.6 74.8h0.6v0.6h-0.6zM97.2 84.8h0.6v0.6h-0.6zM87.4 81.5h0.6v0.6h-0.6zM78.5 71.9h0.6v0.6h-0.6zM101.0 91.2h0.6v0.6h-0.6zM96.3 84.6h0.6v0.6h-0.6zM88.0 81.1h0.6v0.6h-0.6zM82.6 94.3h0.6v0.6h-0.6zM86.3 84.9h0.6v0.6h-0.6zM92.0 72.2h0.6v0.6h-0.6zM111.4 79.4h0.6v0.6h-0.6zM84.3 82.8h0.6v0.6h-0.6zM83.0 82.2h0.6v0.6h-0.6zM82.4 86.0h0.6v0.6h-0.6zM92.6 72.4h0.6v0.6h-0.6zM102.4 83.4h0.6v0.6h-0.6zM81.0 84.5h0.6v0.6h-0.6zM96.3 95.1h0.6v0.6h-0.6zM83.4 88.0h0.6v0.6h-0.6zM91.1 86.4h0.6v0.6h-0.6zM89.4 81.6h0.6v0.6h-0.6zM97.1 73.7h0.6v0.6h-0.6zM71.0 82.0h0.6v0.6h-0.6zM87.6 82.7h0.6v0.6h-0.6zM98.6 80.6h0.6v0.6h-0.6zM104.1 81.8h0.6v0.6h-0.6zM93.3 88.0h0.6v0.6h-0.6zM98.1 81.5h0.6v0.6h-0.6zM93.5 76.9h0.6v0.6h-0.6zM86.1 82.9h0.6v0.6h-0.6zM100.5 79.2h0.6v0.6h-0.6zM100.7 95.9h0.6v0.6h-0.6zM113.9 82.4h0.6v0.6h-0.6zM103.0 86.6h0.6v0.6h-0.6zM100.3 88.2h0.6v0.6h-0.6zM97.7 88.1h0.6v0.6h-0.6zM94.4 80.5h0.6v0.6h-0.6zM95.1 85.8h0.6v0.6h-0.6zM104.8 85.0h0.6v0.6h-0.6zM100.0 92.4h0.6v0.6h-0.6zM83.2 80.5h0.6v0.6h-0.6zM98.0 82.6h0.6v0.6h-0.6zM82.4 89.3h0.6v0.6h-0.6zM91.8 75.4h0.6v0.6h-0.6zM111.5 73.4h0.6v0.6h-0.6zM92.4 77.7h0.6v0.6h-0.6zM93.6 86.3h0.6v0.6h-0.6zM84.3 81.6h0.6v0.6h-0.6zM91.2 75.3h0.6v0.6h-0.6zM104.2 83.5h0.6v0.6h-0.6zM89.6 77.7h0.6v0.6h-0.6zM89.1 83.3h0.6v0.6h-0.6zM87.8 91.1h0.6v0.6h-0.6zM66.9 67.3h0.6v0.6h-0.6zM89.9 69.4h0.6v0.6h-0.6zM91.8 77.7h0.6v0.6h-0.6zM98.3 85.2h0.6v0.6h-0.6zM105.6 88.8h0.6v0.6h-0.6zM105.0 86.0h0.6v0.6h-0.6zM103.1 85.8h0.6v0.6h-0.6zM86.5 73.5h0.6v0.6h-0.6zM80.3 85.7h0.6v0.6h-0.6zM68.6 83.5h0.6v0.6h-0.6zM84.9 87.5h0.6v0.6h-0.6zM94.5 77.1h0.6v0.6h-0.6zM92.6 66.4h0.6v0.6h-0.6zM95.2 85.6h0.6v0.6h-0.6zM74.0 88.3h0.6v0.6h-0.6zM91.3 83.5h0.6v0.6h-0.6zM78.2 86.6h0.6v0.6h-0.6zM98.3 82.2h0.6v0.6h-0.6zM82.6 87.7h0.6v0.6h-0.6zM105.0 85.2h0.6v0.6h-0.6zM102.6 78.3h0.6v0.6h-0.6zM94.1 85.1h0.6v0.6h-0.6zM96.9 78.6h0.6v0.6h-0.6zM101.0 74.9h0.6v0.6h-0.6zM96.4 87.9h0.6v0.6h-0.6zM87.9 80.3h0.6v0.6h-0.6zM83.4 83.5h0.6v0.6h-0.6zM86.1 94.8h0.6v0.6h-0.6zM99.4 81.1h0.6v0.6h-0.6zM78.8 96.9h0.6v0.6h-0.6zM106.0 86.0h0.6v0.6h-0.6zM95.0 83.9h0.6v0.6h-0.6zM88.3 95.9h0.6v0.6h-0.6zM95.1 72.6h0.6v0.6h-0.6zM86.5 64.6h0.6v0.6h-0.6zM99.6 88.1h0.6v0.6h-0.6zM85.2 85.9h0.6v0.6h-0.6zM103.0 88.3h0.6v0.6h-0.6zM87.9 88.3h0.6v0.6h-0.6zM98.0 92.2h0.6v0.6h-0.6zM92.7 81.0h0.6v0.6h-0.6zM87.9 80.0h0.6v0.6h-0.6zM85.3 80.3h0.6v0.6h-0.6zM97.9 85.8h0.6v0.6h-0.6zM106.1 90.3h0.6v0.6h-0.6zM99.1 74.5h0.6v0.6h-0.6zM98.5 90.7h0.6v0.6h-0.6zM79.7 74.7h0.6v0.6h-0.6zM83.2 75.2h0.6v0.6h-0.6zM89.8 75.9h0.6v0.6h-0.6zM96.5 74.0h0.6v0.6h-0.6zM91.4 78.9h0.6v0.6h-0.6zM82.9 89.7h0.6v0.6h-0.6zM92.9 86.2h0.6v0.6h-0.6zM89.2 87.3h0.6v0.6h-0.6zM98.7 81.3h0.6v0.6h-0.6zM74.8 88.1h0.6v0.6h-0.6zM99.5 83.7h0.6v0.6h-0.6zM95.0 83.3h0.6v0.6h-0.6zM94.5 75.4h0.6v0.6h-0.6zM92.0 84.6h0.6v0.6h-0.6zM86.5 75.6h0.6v0.6h-0.6zM111.2 86.7h0.6v0.6h-0.6zM89.5 79.0h0.6v0.6h-0.6zM66.1 72.4h0.6v0.6h-0.6zM90.1 91.4h0.6v0.6h-0.6zM72.0 77.5h0.6v0.6h-0.6zM111.7 87.1h0.6v0.6h-0.6zM96.7 90.8h0.6v0.6h-0.6zM91.4 81.2h0.6v0.6h-0.6zM99.7 88.4h0.6v0.6h-0.6zM81.9 93.1h0.6v0.6h-0.6zM75.2 77.6h0.6v0.6h-0.6zM123.4 78.8h0.6v0.6h-0.6zM99.2 75.4h0.6v0.6h-0.6zM89.4 77.4h0.6v0.6h-0.6zM88.6 87.0h0.6v0.6h-0.6zM110.1 88.6h0.6v0.6h-0.6zM108.2 78.9h0.6v0.6h-0.6zM107.3 86.4h0.6v0.6h-0.6zM106.4 79.5h0.6v0.6h-0.6zM90.3 92.0h0.6v0.6h-0.6zM98.7 83.2h0.6v0.6h-0.6zM85.7 81.7h0.6v0.6h-0.6zM97.4 87.4h0.6v0.6h-0.6zM87.0 80.0h0.6v0.6h-0.6zM96.8 74.6h0.6v0.6h-0.6zM101.8 82.2h0.6v0.6h-0.6zM91.0 65.3h0.6v0.6h-0.6zM76.3 74.8h0.6v0.6h-0.6zM86.3 74.4h0.6v0.6h-0.6zM95.8 83.0h0.6v0.6h-0.6zM89.3 67.8h0.6v0.6h-0.6zM106.0 80.0h0.6v0.6h-0.6zM97.9 77.3h0.6v0.6h-0.6zM92.0 86.9h0.6v0.6h-0.6zM94.3 88.7h0.6v0.6h-0.6zM90.2 95.9h0.6v0.6h-0.6zM73.0 78.1h0.6v0.6h-0.6zM101.7 80.2h0.6v0.6h-0.6zM87.5 69.5h0.6v0.6h-0.6zM103.9 68.7h0.6v0.6h-0.6zM97.0 83.3h0.6v0.6h-0.6zM100.6 92.1h0.6v0.6h-0.6zM84.8 76.2h0.6v0.6h-0.6zM88.7 69.9h0.6v0.6h-0.6zM100.0 79.1h0.6v0.6h-0.6zM93.4 73.9h0.6v0.6h-0.6zM91.9 77.5h0.6v0.6h-0.6zM91.0 74.1h0.6v0.6h-0.6zM101.9 77.2h0.6v0.6h-0.6zM66.1 86.3h0.6v0.6h-0.6zM88.6 75.6h0.6v0.6h-0.6zM116.7 81.4h0.6v0.6h-0.6zM78.2 77.4h0.6v0.6h-0.6zM95.4 80.1h0.6v0.6h-0.6zM104.0 89.2h0.6v0.6h-0.6zM83.7 82.0h0.6v0.6h-0.6zM98.0 78.8h0.6v0.6h-0.6zM86.9 87.9h0.6v0.6h-0.6zM96.1 71.9h0.6v0.6h-0.6zM86.1 78.8h0.6v0.6h-0.6zM90.4 76.7h0.6v0.6h-0.6zM105.0 74.9h0.6v0.6h-0.6zM80.7 83.2h0.6v0.6h-0.6zM69.0 74.5h0.6v0.6h-0.6zM97.8 72.4h0.6v0.6h-0.6zM83.1 89.3h0.6v0.6h-0.6zM96.2 82.1h0.6v0.6h-0.6zM94.1 77.0h0.6v0.6h-0.6zM94.7 80.3h0.6v0.6h-0.6zM116.7 85.5h0.6v0.6h-0.6zM88.3 81.4h0.6v0.6h-0.6zM92.2 72.1h0.6v0.6h-0.6zM83.5 92.5h0.6v0.6h-0.6zM77.7 77.8h0.6v0.6h-0.6zM102.0 92.4h0.6v0.6h-0.6zM81.5 92.1h0.6v0.6h-0.6zM88.2 93.5h0.6v0.6h-0.6zM96.8 79.9h0.6v0.6h-0.6zM99.1 85.8h0.6v0.6h-0.6zM84.1 96.9h0.6v0.6h-0.6zM88.4 90.0h0.6v0.6h-0.6zM87.0 69.1h0.6v0.6h-0.6zM80.6 81.2h0.6v0.6h-0.6zM98.7 94.2h0.6v0.6h-0.6zM92.7 79.9h0.6v0.6h-0.6zM79.6 81.6h0.6v0.6h-0.6zM94.9 66.4h0.6v0.6h-0.6zM104.9 89.9h0.6v0.6h-0.6zM114.6 75.5h0.6v0.6h-0.6zM92.2 82.0h0.6v0.6h-0.6zM78.6 75.9h0.6v0.6h-0.6zM82.0 85.5h0.6v0.6h-0.6zM96.1 91.3h0.6v0.6h-0.6zM87.8 72.1h0.6v0.6h-0.6zM96.2 84.5h0.6v0.6h-0.6zM98.5 90.6h0.6v0.6h-0.6zM85.9 87.4h0.6v0.6h-0.6zM81.7 82.9h0.6v0.6h-0.6zM98.7 81.0h0.6v0.6h-0.6zM94.0 72.1h0.6v0.6h-0.6zM85.3 82.9h0.6v0.6h-0.6zM79.7 75.9h0.6v0.6h-0.6zM116.1 83.6h0.6v0.6h-0.6zM83.5 74.6h0.6v0.6h-0.6zM105.5 62.1h0.6v0.6h-0.6zM87.9 85.8h0.6v0.6h-0.6zM85.4 85.0h0.6v0.6h-0.6zM80.5 81.1h0.6v0.6h-0.6zM91.3 81.3h0.6v0.6h-0.6zM92.3 81.4h0.6v0.6h-0.6zM102.0 79.3h0.6v0.6h-0.6zM84.9 79.2h0.6v0.6h-0.6zM87.7 70.4h0.6v0.6h-0.6zM71.6 71.6h0.6v0.6h-0.6zM93.5 76.4h0.6v0.6h-0.6zM101.9 79.6h0.6v0.6h-0.6zM84.3 90.7h0.6v0.6h-0.6zM82.8 89.7h0.6v0.6h-0.6zM96.5 90.8h0.6v0.6h-0.6zM83.4 87.4h0.6v0.6h-0.6zM72.5 79.8h0.6v0.6h-0.6zM101.5 85.9h0.6v0.6h-0.6zM72.3 85.8h0.6v0.6h-0.6zM95.2 80.6h0.6v0.6h-0.6zM83.4 79.1h0.6v0.6h-0.6zM84.9 87.7h0.6v0.6h-0.6zM95.3 88.5h0.6v0.6h-0.6zM97.5 72.0h0.6v0.6h-0.6zM92.0 96.0h0.6v0.6h-0.6zM79.5 83.0h0.6v0.6h-0.6zM82.8 74.8h0.6v0.6h-0.6zM92.7 87.5h0.6v0.6h-0.6zM98.3 84.3h0.6v0.6h-0.6zM100.1 69.6h0.6v0.6h-0.6zM98.8 83.8h0.6v0.6h-0.6zM88.7 80.9h0.6v0.6h-0.6zM82.0 89.2h0.6v0.6h-0.6zM83.0 70.7h0.6v0.6h-0.6zM90.5 76.9h0.6v0.6h-0.6zM89.9 91.6h0.6v0.6h-0.6zM89.2 81.9h0.6v0.6h-0.6zM113.3 71.2h0.6v0.6h-0.6zM94.3 89.2h0.6v0.6h-0.6zM105.8 96.8h0.6v0.6h-0.6zM84.0 85.3h0.6v0.6h-0.6zM89.7 77.9h0.6v0.6h-0.6zM83.4 70.8h0.6v0.6h-0.6zM94.0 86.4h0.6v0.6h-0.6zM80.0 86.4h0.6v0.6h-0.6zM85.1 74.0h0.6v0.6h-0.6zM64.3 88.8h0.6v0.6h-0.6zM97.9 78.9h0.6v0.6h-0.6zM86.8 71.9h0.6v0.6h-0.6zM95.9 80.7h0.6v0.6h-0.6zM96.2 82.4h0.6v0.6h-0.6zM76.6 70.2h0.6v0.6h-0.6zM95.0 69.3h0.6v0.6h-0.6zM93.6 87.6h0.6v0.6h-0.6zM77.9 86.0h0.6v0.6h-0.6zM91.4 85.1h0.6v0.6h-0.6zM84.6 81.2h0.6v0.6h-0.6zM95.4 94.3h0.6v0.6h-0.6zM98.6 85.0h0.6v0.6h-0.6zM78.2 83.8h0.6v0.6h-0.6zM84.4 81.0h0.6v0.6h-0.6zM94.1 88.4h0.6v0.6h-0.6zM97.4 82.9h0.6v0.6h-0.6zM90.9 91.2h0.6v0.6h-0.6zM82.6 81.9h0.6v0.6h-0.6zM105.4 80.3h0.6v0.6h-0.6zM99.9 88.0h0.6v0.6h-0.6zM111.5 89.7h0.6v0.6h-0.6zM74.9 81.7h0.6v0.6h-0.6zM94.5 87.5h0.6v0.6h-0.6zM95.4 94.9h0.6v0.6h-0.6zM102.5 73.3h0.6v0.6h-0.6zM85.0 67.0h0.6v0.6h-0.6zM108.7 80.6h0.6v0.6h-0.6zM89.7 70.2h0.6v0.6h-0.6zM86.6 84.3h0.6v0.6h-0.6zM86.8 78.4h0.6v0.6h-0.6zM84.5 95.1h0.6v0.6h-0.6zM85.0 70.7h0.6v0.6h-0.6zM85.2 78.4h0.6v0.6h-0.6zM89.4 79.1h0.6v0.6h-0.6zM78.9 79.3h0.6v0.6h-0.6zM94.1 70.8h0.6v0.6h-0.6zM110.1 92.7h0.6v0.6h-0.6zM71.7 78.0h0.6v0.6h-0.6zM100.3 90.2h0.6v0.6h-0.6zM108.2 67.5h0.6v0.6h-0.6zM78.8 77.0h0.6v0.6h-0.6zM95.7 73.0h0.6v0.6h-0.6zM94.5 83.9h0.6v0.6h-0.6zM97.5 71.6h0.6v0.6h-0.6zM92.2 81.3h0.6v0.6h-0.6zM86.1 90.1h0.6v0.6h-0.6zM87.4 91.2h0.6v0.6h-0.6zM84.4 93.1h0.6v0.6h-0.6zM107.3 75.2h0.6v0.6h-0.6zM94.1 83.3h0.6v0.6h-0.6zM80.8 86.7h0.6v0.6h-0.6zM96.9 75.0h0.6v0.6h-0.6zM91.9 87.6h0.6v0.6h-0.6zM89.3 76.2h0.6v0.6h-0.6zM107.7 74.4h0.6v0.6h-0.6zM94.6 89.4h0.6v0.6h-0.6zM99.2 68.4h0.6v0.6h-0.6zM87.9 80.6h0.6v0.6h-0.6zM89.2 86.0h0.6v0.6h-0.6zM96.9 82.6h0.6v0.6h-0.6zM94.2 88.9h0.6v0.6h-0.6zM104.2 68.2h0.6v0.6h-0.6zM113.8 77.8h0.6v0.6h-0.6zM99.6 70.2h0.6v0.6h-0.6zM86.5 72.9h0.6v0.6h-0.6zM102.8 88.2h0.6v0.6h-0.6zM91.9 80.7h0.6v0.6h-0.6zM95.7 75.2h0.6v0.6h-0.6zM85.7 76.4h0.6v0.6h-0.6zM100.2 82.1h0.6v0.6h-0.6zM78.9 84.3h0.6v0.6h-0.6zM97.2 91.8h0.6v0.6h-0.6zM86.2 84.8h0.6v0.6h-0.6zM113.0 79.6h0.6v0.6h-0.6zM88.2 85.5h0.6v0.6h-0.6zM86.8 81.9h0.6v0.6h-0.6zM86.7 76.3h0.6v0.6h-0.6zM100.7 79.2h0.6v0.6h-0.6zM81.6 79.8h0.6v0.6h-0.6zM90.4 84.0h0.6v0.6h-0.6zM101.3 94.4h0.6v0.6h-0.6zM79.3 80.1h0.6v0.6h-0.6zM73.3 83.4h0.6v0.6h-0.6zM97.0 77.1h0.6v0.6h-0.6zM82.4 74.7h0.6v0.6h-0.6zM76.4 86.2h0.6v0.6h-0.6zM110.9 73.6h0.6v0.6h-0.6zM108.0 80.8h0.6v0.6h-0.6zM77.3 85.6h0.6v0.6h-0.6zM99.1 84.4h0.6v0.6h-0.6zM88.7 93.4h0.6v0.6h-0.6zM88.4 86.0h0.6v0.6h-0.6zM97.9 75.1h0.6v0.6h-0.6zM72.5 69.2h0.6v0.6h-0.6zM87.2 84.0h0.6v0.6h-0.6zM73.1 76.3h0.6v0.6h-0.6zM106.7 68.7h0.6v0.6h-0.6zM95.8 83.9h0.6v0.6h-0.6zM99.1 70.9h0.6v0.6h-0.6zM94.5 71.5h0.6v0.6h-0.6zM104.6 75.2h0.6v0.6h-0.6zM94.9 75.6h0.6v0.6h-0.6zM92.4 70.4h0.6v0.6h-0.6zM93.9 85.6h0.6v0.6h-0.6zM90.9 92.8h0.6v0.6h-0.6zM94.7 86.9h0.6v0.6h-0.6zM96.1 94.6h0.6v0.6h-0.6zM84.3 79.4h0.6v0.6h-0.6zM88.8 85.7h0.6v0.6h-0.6zM93.7 87.3h0.6v0.6h-0.6zM94.1 77.7h0.6v0.6h-0.6zM90.5 84.5h0.6v0.6h-0.6zM67.9 91.3h0.6v0.6h-0.6zM85.4 78.9h0.6v0.6h-0.6zM93.9 79.7h0.6v0.6h-0.6zM76.5 79.9h0.6v0.6h-0.6zM105.4 89.0h0.6v0.6h-0.6zM103.9 77.6h0.6v0.6h-0.6zM89.2 89.1h0.6v0.6h-0.6zM106.6 81.9h0.6v0.6h-0.6zM81.7 67.9h0.6v0.6h-0.6zM106.0 70.8h0.6v0.6h-0.6zM96.0 88.1h0.6v0.6h-0.6zM124.9 83.2h0.6v0.6h-0.6zM90.6 85.1h0.6v0.6h-0.6zM97.0 91.5h0.6v0.6h-0.6zM98.9 76.4h0.6v0.6h-0.6zM70.2 84.1h0.6v0.6h-0.6zM85.0 92.1h0.6v0.6h-0.6zM78.4 83.4h0.6v0.6h-0.6zM84.4 75.7h0.6v0.6h-0.6zM109.1 83.2h0.6v0.6h-0.6zM90.1 87.3h0.6v0.6h-0.6zM83.9 79.3h0.6v0.6h-0.6zM85.4 96.3h0.6v0.6h-0.6zM95.4 86.5h0.6v0.6h-0.6zM103.5 80.7h0.6v0.6h-0.6zM90.4 70.2h0.6v0.6h-0.6zM96.9 83.9h0.6v0.6h-0.6zM87.7 90.7h0.6v0.6h-0.6zM73.5 85.0h0.6v0.6h-0.6zM77.7 73.7h0.6v0.6h-0.6zM89.8 91.6h0.6v0.6h-0.6zM79.7 74.7h0.6v0.6h-0.6zM79.4 96.6h0.6v0.6h-0.6zM97.4 84.9h0.6v0.6h-0.6zM113.3 83.8h0.6v0.6h-0.6zM70.2 78.3h0.6v0.6h-0.6zM79.6 96.7h0.6v0.6h-0.6zM77.3 84.2h0.6v0.6h-0.6zM86.6 78.8h0.6v0.6h-0.6zM92.2 81.0h0.6v0.6h-0.6zM84.8 73.0h0.6v0.6h-0.6zM85.2 74.4h0.6v0.6h-0.6zM82.5 82.8h0.6v0.6h-0.6zM90.3 85.4h0.6v0.6h-0.6zM89.4 95.9h0.6v0.6h-0.6zM84.3 74.7h0.6v0.6h-0.6zM102.5 76.8h0.6v0.6h-0.6zM90.9 94.0h0.6v0.6h-0.6zM89.1 88.5h0.6v0.6h-0.6zM97.9 91.3h0.6v0.6h-0.6zM85.5 85.0h0.6v0.6h-0.6zM86.7 83.0h0.6v0.6h-0.6zM82.6 85.4h0.6v0.6h-0.6zM92.3 93.1h0.6v0.6h-0.6zM84.4 88.1h0.6v0.6h-0.6zM80.7 84.2h0.6v0.6h-0.6zM86.2 92.3h0.6v0.6h-0.6zM93.7 92.4h0.6v0.6h-0.6zM87.6 78.6h0.6v0.6h-0.6zM97.5 95.4h0.6v0.6h-0.6zM97.4 93.7h0.6v0.6h-0.6zM92.6 96.4h0.6v0.6h-0.6zM96.7 92.8h0.6v0.6h-0.6zM88.9 88.5h0.6v0.6h-0.6zM80.6 92.4h0.6v0.6h-0.6zM87.4 85.0h0.6v0.6h-0.6zM83.7 85.1h0.6v0.6h-0.6zM103.3 89.0h0.6v0.6h-0.6zM90.9 84.9h0.6v0.6h-0.6zM81.4 94.3h0.6v0.6h-0.6zM88.0 90.9h0.6v0.6h-0.6zM95.7 92.0h0.6v0.6h-0.6zM91.9 88.8h0.6v0.6h-0.6zM106.8 84.9h0.6v0.6h-0.6zM89.2 82.0h0.6v0.6h-0.6zM79.5 91.7h0.6v0.6h-0.6zM93.8 91.4h0.6v0.6h-0.6zM87.3 87.1h0.6v0.6h-0.6zM85.5 88.4h0.6v0.6h-0.6zM99.1 96.1h0.6v0.6h-0.6zM93.7 87.8h0.6v0.6h-0.6zM82.2 91.3h0.6v0.6h-0.6zM88.1 82.4h0.6v0.6h-0.6zM101.4 90.0h0.6v0.6h-0.6zM87.3 86.4h0.6v0.6h-0.6zM82.7 93.7h0.6v0.6h-0.6zM82.2 90.4h0.6v0.6h-0.6zM95.0 89.9h0.6v0.6h-0.6zM86.3 93.6h0.6v0.6h-0.6zM98.4 88.2h0.6v0.6h-0.6zM94.9 89.4h0.6v0.6h-0.6zM76.5 85.8h0.6v0.6h-0.6zM96.7 96.0h0.6v0.6h-0.6zM95.6 89.2h0.6v0.6h-0.6zM84.0 92.2h0.6v0.6h-0.6zM92.8 83.3h0.6v0.6h-0.6zM95.4 87.1h0.6v0.6h-0.6zM95.6 92.2h0.6v0.6h-0.6zM96.0 94.5h0.6v0.6h-0.6zM95.9 85.6h0.6v0.6h-0.6zM81.5 94.3h0.6v0.6h-0.6zM94.0 83.5h0.6v0.6h-0.6zM73.3 93.7h0.6v0.6h-0.6zM108.5 93.4h0.6v0.6h-0.6zM88.0 91.1h0.6v0.6h-0.6zM67.4 85.9h0.6v0.6h-0.6zM98.5 93.6h0.6v0.6h-0.6zM72.3 94.9h0.6v0.6h-0.6zM94.5 93.9h0.6v0.6h-0.6zM88.3 90.0h0.6v0.6h-0.6zM81.1 91.3h0.6v0.6h-0.6zM97.5 86.1h0.6v0.6h-0.6zM93.1 87.8h0.6v0.6h-0.6zM98.7 94.1h0.6v0.6h-0.6zM70.4 91.9h0.6v0.6h-0.6zM98.5 87.7h0.6v0.6h-0.6zM88.2 89.4h0.6v0.6h-0.6zM80.5 89.5h0.6v0.6h-0.6zM103.0 92.0h0.6v0.6h-0.6zM102.7 94.1h0.6v0.6h-0.6zM100.0 90.5h0.6v0.6h-0.6zM102.3 91.4h0.6v0.6h-0.6zM84.2 86.2h0.6v0.6h-0.6zM92.0 91.8h0.6v0.6h-0.6zM74.8 90.9h0.6v0.6h-0.6zM92.9 91.3h0.6v0.6h-0.6zM97.3 84.3h0.6v0.6h-0.6zM84.1 93.3h0.6v0.6h-0.6zM94.3 90.5h0.6v0.6h-0.6zM89.7 89.1h0.6v0.6h-0.6zM86.2 85.7h0.6v0.6h-0.6zM94.7 78.4h0.6v0.6h-0.6zM83.8 95.1h0.6v0.6h-0.6zM83.3 84.9h0.6v0.6h-0.6zM105.5 94.2h0.6v0.6h-0.6zM88.5 87.4h0.6v0.6h-0.6zM87.8 88.4h0.6v0.6h-0.6zM87.7 86.8h0.6v0.6h-0.6zM94.2 87.5h0.6v0.6h-0.6zM74.6 84.5h0.6v0.6h-0.6zM89.6 85.6h0.6v0.6h-0.6zM69.1 96.0h0.6v0.6h-0.6zM93.7 87.8h0.6v0.6h-0.6zM85.2 91.9h0.6v0.6h-0.6zM100.9 87.2h0.6v0.6h-0.6zM92.9 87.1h0.6v0.6h-0.6zM92.1 85.0h0.6v0.6h-0.6zM74.3 90.1h0.6v0.6h-0.6zM88.9 92.7h0.6v0.6h-0.6zM83.9 95.4h0.6v0.6h-0.6zM90.2 96.1h0.6v0.6h-0.6zM86.6 96.0h0.6v0.6h-0.6zM88.9 90.3h0.6v0.6h-0.6zM97.4 82.4h0.6v0.6h-0.6zM76.9 87.6h0.6v0.6h-0.6zM93.9 95.8h0.6v0.6h-0.6zM85.2 90.3h0.6v0.6h-0.6zM80.1 88.1h0.6v0.6h-0.6zM97.9 91.1h0.6v0.6h-0.6zM89.2 91.5h0.6v0.6h-0.6zM90.6 90.4h0.6v0.6h-0.6zM86.6 85.7h0.6v0.6h-0.6zM95.1 85.0h0.6v0.6h-0.6zM80.9 90.8h0.6v0.6h-0.6zM82.7 86.7h0.6v0.6h-0.6zM75.4 84.8h0.6v0.6h-0.6zM96.7 92.7h0.6v0.6h-0.6zM99.6 94.5h0.6v0.6h-0.6zM96.2 86.5h0.6v0.6h-0.6zM88.8 92.9h0.6v0.6h-0.6zM100.1 88.4h0.6v0.6h-0.6zM85.7 88.1h0.6v0.6h-0.6zM103.0 92.3h0.6v0.6h-0.6zM87.3 86.8h0.6v0.6h-0.6zM93.5 83.0h0.6v0.6h-0.6zM88.0 87.6h0.6v0.6h-0.6zM85.1 90.8h0.6v0.6h-0.6zM90.8 92.9h0.6v0.6h-0.6zM83.4 83.2h0.6v0.6h-0.6zM81.8 89.7h0.6v0.6h-0.6zM99.2 90.4h0.6v0.6h-0.6zM70.4 94.2h0.6v0.6h-0.6zM88.9 93.0h0.6v0.6h-0.6zM82.2 93.7h0.6v0.6h-0.6zM98.7 87.1h0.6v0.6h-0.6zM94.2 87.4h0.6v0.6h-0.6zM86.0 86.3h0.6v0.6h-0.6zM86.6 87.3h0.6v0.6h-0.6zM99.8 89.1h0.6v0.6h-0.6zM80.9 95.7h0.6v0.6h-0.6zM94.6 94.1h0.6v0.6h-0.6zM89.6 92.9h0.6v0.6h-0.6zM89.4 86.2h0.6v0.6h-0.6zM91.1 90.7h0.6v0.6h-0.6zM91.3 93.6h0.6v0.6h-0.6zM76.0 91.3h0.6v0.6h-0.6zM83.7 89.0h0.6v0.6h-0.6zM93.9 90.4h0.6v0.6h-0.6zM84.8 93.3h0.6v0.6h-0.6zM89.8 94.0h0.6v0.6h-0.6zM100.5 88.7h0.6v0.6h-0.6zM81.4 90.5h0.6v0.6h-0.6zM97.1 91.5h0.6v0.6h-0.6zM80.8 83.3h0.6v0.6h-0.6zM82.7 86.3h0.6v0.6h-0.6zM95.5 90.5h0.6v0.6h-0.6zM97.6 89.9h0.6v0.6h-0.6zM104.2 90.3h0.6v0.6h-0.6zM95.0 88.6h0.6v0.6h-0.6zM94.2 94.7h0.6v0.6h-0.6zM96.9 95.5h0.6v0.6h-0.6zM85.6 92.1h0.6v0.6h-0.6zM104.5 91.3h0.6v0.6h-0.6zM89.2 89.3h0.6v0.6h-0.6zM86.3 90.9h0.6v0.6h-0.6zM101.9 92.1h0.6v0.6h-0.6zM90.4 87.0h0.6v0.6h-0.6zM86.7 90.7h0.6v0.6h-0.6zM86.6 91.0h0.6v0.6h-0.6zM87.0 90.7h0.6v0.6h-0.6zM102.3 87.2h0.6v0.6h-0.6zM94.8 90.0h0.6v0.6h-0.6zM96.3 87.4h0.6v0.6h-0.6zM93.7 86.2h0.6v0.6h-0.6zM75.5 84.8h0.6v0.6h-0.6zM82.6 85.6h0.6v0.6h-0.6zM87.6 94.6h0.6v0.6h-0.6zM80.9 91.9h0.6v0.6h-0.6zM91.3 87.2h0.6v0.6h-0.6zM82.5 91.8h0.6v0.6h-0.6zM93.9 88.6h0.6v0.6h-0.6zM88.8 90.0h0.6v0.6h-0.6zM79.4 90.4h0.6v0.6h-0.6zM79.7 86.5h0.6v0.6h-0.6zM90.7 87.6h0.6v0.6h-0.6zM86.7 90.0h0.6v0.6h-0.6zM87.6 89.9h0.6v0.6h-0.6zM93.6 83.5h0.6v0.6h-0.6zM94.5 80.9h0.6v0.6h-0.6zM103.7 93.7h0.6v0.6h-0.6zM85.1 94.1h0.6v0.6h-0.6zM88.9 91.8h0.6v0.6h-0.6zM96.1 91.4h0.6v0.6h-0.6zM90.1 92.5h0.6v0.6h-0.6zM88.6 88.5h0.6v0.6h-0.6zM82.5 82.8h0.6v0.6h-0.6zM102.8 93.2h0.6v0.6h-0.6zM78.9 91.7h0.6v0.6h-0.6zM91.8 81.2h0.6v0.6h-0.6zM83.4 89.6h0.6v0.6h-0.6zM103.9 94.5h0.6v0.6h-0.6zM100.3 91.4h0.6v0.6h-0.6zM98.2 85.4h0.6v0.6h-0.6zM95.1 93.0h0.6v0.6h-0.6zM80.0 91.1h0.6v0.6h-0.6zM101.6 87.3h0.6v0.6h-0.6zM89.5 88.1h0.6v0.6h-0.6zM100.2 86.8h0.6v0.6h-0.6zM81.9 83.7h0.6v0.6h-0.6zM91.9 91.9h0.6v0.6h-0.6zM85.5 87.1h0.6v0.6h-0.6zM88.8 95.6h0.6v0.6h-0.6zM79.6 90.0h0.6v0.6h-0.6zM92.0 91.7h0.6v0.6h-0.6zM100.4 93.5h0.6v0.6h-0.6zM92.6 96.1h0.6v0.6h-0.6zM99.6 91.4h0.6v0.6h-0.6zM92.3 85.5h0.6v0.6h-0.6zM91.4 87.1h0.6v0.6h-0.6zM81.3 89.1h0.6v0.6h-0.6zM76.6 86.6h0.6v0.6h-0.6zM86.2 91.5h0.6v0.6h-0.6zM87.8 91.7h0.6v0.6h-0.6zM103.0 93.4h0.6v0.6h-0.6zM81.0 83.0h0.6v0.6h-0.6zM82.9 86.5h0.6v0.6h-0.6zM74.3 83.2h0.6v0.6h-0.6zM76.3 87.6h0.6v0.6h-0.6zM101.4 96.8h0.6v0.6h-0.6zM81.7 88.1h0.6v0.6h-0.6zM78.8 83.3h0.6v0.6h-0.6zM89.1 90.0h0.6v0.6h-0.6zM84.5 92.3h0.6v0.6h-0.6zM86.8 94.1h0.6v0.6h-0.6zM107.6 36.4h0.6v0.6h-0.6zM65.9 80.7h0.6v0.6h-0.6zM54.5 40.5h0.6v0.6h-0.6zM105.8 57.8h0.6v0.6h-0.6zM54.9 42.9h0.6v0.6h-0.6zM107.3 56.2h0.6v0.6h-0.6zM100.6 89.8h0.6v0.6h-0.6zM127.5 78.8h0.6v0.6h-0.6zM79.3 74.8h0.6v0.6h-0.6zM122.3 86.3h0.6v0.6h-0.6zM88.9 91.3h0.6v0.6h-0.6zM120.4 59.4h0.6v0.6h-0.6zM92.6 59.5h0.6v0.6h-0.6zM66.7 90.9h0.6v0.6h-0.6zM118.6 41.2h0.6v0.6h-0.6zM66.4 83.6h0.6v0.6h-0.6zM55.2 50.8h0.6v0.6h-0.6zM92.7 73.3h0.6v0.6h-0.6zM117.5 50.9h0.6v0.6h-0.6zM74.1 42.8h0.6v0.6h-0.6zM73.4 77.5h0.6v0.6h-0.6zM80.5 71.8h0.6v0.6h-0.6zM102.7 71.1h0.6v0.6h-0.6zM83.3 64.9h0.6v0.6h-0.6zM117.5 56.0h0.6v0.6h-0.6zM67.0 47.5h0.6v0.6h-0.6zM74.0 43.7h0.6v0.6h-0.6zM126.6 42.6h0.6v0.6h-0.6zM111.5 69.8h0.6v0.6h-0.6zM127.8 50.5h0.6v0.6h-0.6zM118.7 41.7h0.6v0.6h-0.6zM71.5 62.8h0.6v0.6h-0.6zM117.2 72.4h0.6v0.6h-0.6zM111.1 64.7h0.6v0.6h-0.6zM56.6 41.6h0.6v0.6h-0.6zM74.7 42.6h0.6v0.6h-0.6zM124.3 66.9h0.6v0.6h-0.6zM117.7 95.1h0.6v0.6h-0.6zM123.3 40.4h0.6v0.6h-0.6zM54.6 77.6h0.6v0.6h-0.6zM78.1 63.5h0.6v0.6h-0.6zM118.2 73.9h0.6v0.6h-0.6zM112.8 79.8h0.6v0.6h-0.6zM87.6 55.5h0.6v0.6h-0.6zM102.0 90.6h0.6v0.6h-0.6zM83.2 95.6h0.6v0.6h-0.6zM71.8 86.5h0.6v0.6h-0.6zM80.8 78.8h0.6v0.6h-0.6zM63.9 92.4h0.6v0.6h-0.6zM89.3 86.7h0.6v0.6h-0.6zM74.4 85.4h0.6v0.6h-0.6zM73.2 89.5h0.6v0.6h-0.6zM68.4 91.4h0.6v0.6h-0.6zM72.6 91.9h0.6v0.6h-0.6zM72.4 85.1h0.6v0.6h-0.6zM74.8 93.3h0.6v0.6h-0.6zM68.3 95.3h0.6v0.6h-0.6zM77.0 88.5h0.6v0.6h-0.6zM74.1 88.3h0.6v0.6h-0.6zM67.6 93.6h0.6v0.6h-0.6zM80.2 88.1h0.6v0.6h-0.6zM72.6 89.1h0.6v0.6h-0.6zM78.8 95.8h0.6v0.6h-0.6zM69.3 91.2h0.6v0.6h-0.6zM73.8 92.2h0.6v0.6h-0.6zM84.1 86.5h0.6v0.6h-0.6zM59.6 89.3h0.6v0.6h-0.6zM62.8 96.7h0.6v0.6h-0.6zM69.1 88.9h0.6v0.6h-0.6zM75.7 90.9h0.6v0.6h-0.6zM71.1 90.0h0.6v0.6h-0.6zM80.7 88.8h0.6v0.6h-0.6zM87.1 91.5h0.6v0.6h-0.6zM57.6 93.6h0.6v0.6h-0.6zM61.8 91.4h0.6v0.6h-0.6zM90.0 94.4h0.6v0.6h-0.6zM66.2 86.8h0.6v0.6h-0.6zM74.3 95.9h0.6v0.6h-0.6zM69.0 94.5h0.6v0.6h-0.6zM76.3 89.7h0.6v0.6h-0.6zM73.0 96.8h0.6v0.6h-0.6zM63.6 85.6h0.6v0.6h-0.6zM80.5 94.1h0.6v0.6h-0.6zM65.1 86.4h0.6v0.6h-0.6zM66.1 92.3h0.6v0.6h-0.6zM69.6 95.8h0.6v0.6h-0.6zM79.6 91.2h0.6v0.6h-0.6zM75.6 92.3h0.6v0.6h-0.6zM80.1 90.1h0.6v0.6h-0.6zM76.0 93.2h0.6v0.6h-0.6zM73.7 94.1h0.6v0.6h-0.6zM73.2 87.0h0.6v0.6h-0.6zM75.5 96.7h0.6v0.6h-0.6zM84.6 83.7h0.6v0.6h-0.6zM76.3 88.1h0.6v0.6h-0.6zM71.8 88.7h0.6v0.6h-0.6zM72.5 87.9h0.6v0.6h-0.6zM72.1 90.9h0.6v0.6h-0.6zM65.6 85.1h0.6v0.6h-0.6zM66.2 85.5h0.6v0.6h-0.6zM78.2 85.6h0.6v0.6h-0.6zM73.4 90.3h0.6v0.6h-0.6zM79.0 90.1h0.6v0.6h-0.6zM81.4 89.8h0.6v0.6h-0.6zM75.7 93.0h0.6v0.6h-0.6zM63.8 91.6h0.6v0.6h-0.6zM84.6 90.4h0.6v0.6h-0.6zM74.7 94.9h0.6v0.6h-0.6zM57.4 90.4h0.6v0.6h-0.6zM70.5 91.5h0.6v0.6h-0.6zM82.3 89.4h0.6v0.6h-0.6zM72.4 78.7h0.6v0.6h-0.6zM79.5 95.3h0.6v0.6h-0.6zM75.1 88.1h0.6v0.6h-0.6zM76.6 94.1h0.6v0.6h-0.6zM70.1 84.6h0.6v0.6h-0.6zM77.5 95.1h0.6v0.6h-0.6zM70.8 90.0h0.6v0.6h-0.6zM69.5 85.0h0.6v0.6h-0.6zM68.9 81.7h0.6v0.6h-0.6zM75.9 91.8h0.6v0.6h-0.6zM80.2 86.7h0.6v0.6h-0.6zM69.5 83.3h0.6v0.6h-0.6zM63.8 93.5h0.6v0.6h-0.6zM93.7 85.7h0.6v0.6h-0.6zM71.2 93.7h0.6v0.6h-0.6zM69.1 92.3h0.6v0.6h-0.6zM71.8 88.8h0.6v0.6h-0.6zM80.3 89.0h0.6v0.6h-0.6zM65.1 93.3h0.6v0.6h-0.6zM74.1 87.8h0.6v0.6h-0.6zM68.3 92.3h0.6v0.6h-0.6zM68.9 90.5h0.6v0.6h-0.6zM81.0 89.5h0.6v0.6h-0.6zM81.6 84.5h0.6v0.6h-0.6zM78.2 92.1h0.6v0.6h-0.6zM87.1 90.1h0.6v0.6h-0.6zM80.2 89.3h0.6v0.6h-0.6zM66.5 86.5h0.6v0.6h-0.6zM69.0 93.1h0.6v0.6h-0.6zM68.5 90.2h0.6v0.6h-0.6zM80.3 95.0h0.6v0.6h-0.6zM80.6 96.0h0.6v0.6h-0.6zM66.1 88.0h0.6v0.6h-0.6zM76.2 94.5h0.6v0.6h-0.6zM77.5 86.9h0.6v0.6h-0.6zM72.7 83.4h0.6v0.6h-0.6zM79.7 82.9h0.6v0.6h-0.6zM75.5 94.3h0.6v0.6h-0.6zM80.3 83.6h0.6v0.6h-0.6zM75.5 88.6h0.6v0.6h-0.6zM71.9 96.6h0.6v0.6h-0.6zM76.0 84.3h0.6v0.6h-0.6zM66.4 92.8h0.6v0.6h-0.6zM75.6 85.5h0.6v0.6h-0.6zM62.2 87.8h0.6v0.6h-0.6zM70.9 93.2h0.6v0.6h-0.6zM69.7 92.6h0.6v0.6h-0.6zM82.4 83.5h0.6v0.6h-0.6zM69.8 96.2h0.6v0.6h-0.6zM70.8 89.9h0.6v0.6h-0.6zM80.6 86.9h0.6v0.6h-0.6zM70.9 83.3h0.6v0.6h-0.6zM106.6 64.8h0.6v0.6h-0.6zM102.0 43.9h0.6v0.6h-0.6zM108.7 76.6h0.6v0.6h-0.6zM99.8 81.9h0.6v0.6h-0.6zM91.5 68.9h0.6v0.6h-0.6zM95.3 96.8h0.6v0.6h-0.6zM90.7 57.3h0.6v0.6h-0.6zM99.9 77.5h0.6v0.6h-0.6zM107.9 73.3h0.6v0.6h-0.6zM102.4 90.8h0.6v0.6h-0.6zM100.1 72.5h0.6v0.6h-0.6zM112.4 56.9h0.6v0.6h-0.6zM99.6 80.4h0.6v0.6h-0.6zM105.9 56.1h0.6v0.6h-0.6zM103.8 88.6h0.6v0.6h-0.6zM102.3 77.3h0.6v0.6h-0.6zM104.3 62.3h0.6v0.6h-0.6zM111.7 79.0h0.6v0.6h-0.6zM109.6 67.7h0.6v0.6h-0.6zM104.1 71.5h0.6v0.6h-0.6zM105.8 65.7h0.6v0.6h-0.6zM101.1 82.3h0.6v0.6h-0.6zM98.1 64.7h0.6v0.6h-0.6zM101.7 64.0h0.6v0.6h-0.6zM97.5 61.4h0.6v0.6h-0.6zM107.6 65.5h0.6v0.6h-0.6zM99.8 85.9h0.6v0.6h-0.6zM96.9 79.5h0.6v0.6h-0.6zM105.3 55.5h0.6v0.6h-0.6zM101.5 65.2h0.6v0.6h-0.6zM110.0 78.3h0.6v0.6h-0.6zM102.2 57.3h0.6v0.6h-0.6zM95.0 67.4h0.6v0.6h-0.6zM96.5 67.3h0.6v0.6h-0.6zM102.5 72.9h0.6v0.6h-0.6zM108.6 70.2h0.6v0.6h-0.6zM105.9 67.4h0.6v0.6h-0.6zM108.8 77.3h0.6v0.6h-0.6zM111.5 82.9h0.6v0.6h-0.6zM99.9 54.4h0.6v0.6h-0.6zM106.8 80.6h0.6v0.6h-0.6zM100.2 84.2h0.6v0.6h-0.6zM104.0 68.2h0.6v0.6h-0.6zM105.3 55.0h0.6v0.6h-0.6zM95.3 65.5h0.6v0.6h-0.6zM97.6 68.8h0.6v0.6h-0.6zM103.4 43.1h0.6v0.6h-0.6zM99.4 74.1h0.6v0.6h-0.6zM91.7 65.4h0.6v0.6h-0.6zM96.6 49.1h0.6v0.6h-0.6zM109.0 79.5h0.6v0.6h-0.6zM101.2 63.7h0.6v0.6h-0.6zM110.3 80.7h0.6v0.6h-0.6zM103.3 77.4h0.6v0.6h-0.6zM103.9 65.5h0.6v0.6h-0.6zM106.4 64.4h0.6v0.6h-0.6zM106.3 66.2h0.6v0.6h-0.6zM101.0 62.9h0.6v0.6h-0.6zM105.6 78.0h0.6v0.6h-0.6zM105.4 59.9h0.6v0.6h-0.6zM106.4 59.6h0.6v0.6h-0.6zM97.7 66.6h0.6v0.6h-0.6zM107.4 75.5h0.6v0.6h-0.6zM106.1 82.5h0.6v0.6h-0.6zM107.7 65.1h0.6v0.6h-0.6zM107.3 66.1h0.6v0.6h-0.6zM105.4 74.7h0.6v0.6h-0.6zM103.1 54.0h0.6v0.6h-0.6zM102.7 65.9h0.6v0.6h-0.6zM103.0 64.8h0.6v0.6h-0.6zM97.9 53.1h0.6v0.6h-0.6zM106.9 77.0h0.6v0.6h-0.6zM105.4 68.7h0.6v0.6h-0.6zM113.3 75.8h0.6v0.6h-0.6zM103.7 77.5h0.6v0.6h-0.6zM103.3 76.3h0.6v0.6h-0.6zM105.0 74.7h0.6v0.6h-0.6zM104.0 64.9h0.6v0.6h-0.6zM106.2 80.6h0.6v0.6h-0.6zM99.2 64.2h0.6v0.6h-0.6zM98.3 78.2h0.6v0.6h-0.6zM102.6 78.3h0.6v0.6h-0.6zM99.8 77.7h0.6v0.6h-0.6zM100.9 64.9h0.6v0.6h-0.6zM106.4 65.7h0.6v0.6h-0.6zM100.8 78.4h0.6v0.6h-0.6zM103.5 81.9h0.6v0.6h-0.6zM116.3 64.0h0.6v0.6h-0.6zM102.1 54.5h0.6v0.6h-0.6zM97.9 75.5h0.6v0.6h-0.6zM105.3 72.4h0.6v0.6h-0.6zM106.1 61.3h0.6v0.6h-0.6zM95.5 80.4h0.6v0.6h-0.6zM105.0 80.9h0.6v0.6h-0.6zM103.7 77.2h0.6v0.6h-0.6zM101.2 69.6h0.6v0.6h-0.6zM103.0 73.3h0.6v0.6h-0.6zM110.8 76.1h0.6v0.6h-0.6zM89.5 68.6h0.6v0.6h-0.6zM103.9 77.6h0.6v0.6h-0.6zM104.5 62.8h0.6v0.6h-0.6zM100.0 66.4h0.6v0.6h-0.6zM100.3 83.8h0.6v0.6h-0.6zM106.8 70.3h0.6v0.6h-0.6zM108.7 91.0h0.6v0.6h-0.6zM102.8 69.4h0.6v0.6h-0.6zM102.4 57.6h0.6v0.6h-0.6zM100.8 60.5h0.6v0.6h-0.6zM106.3 74.2h0.6v0.6h-0.6zM108.2 62.1h0.6v0.6h-0.6zM108.8 60.1h0.6v0.6h-0.6zM103.0 82.5h0.6v0.6h-0.6zM110.0 80.6h0.6v0.6h-0.6zM114.3 80.2h0.6v0.6h-0.6zM102.7 67.7h0.6v0.6h-0.6zM100.1 72.2h0.6v0.6h-0.6zM100.2 63.8h0.6v0.6h-0.6zM99.1 53.2h0.6v0.6h-0.6zM116.2 78.7h0.6v0.6h-0.6zM93.7 74.3h0.6v0.6h-0.6z"/>
<polygon points="84.0,32.8 101.9,32.8 102.3,55.0 103.4,70.0 102.0,72.2 97.0,73.6 91.0,74.2 86.5,74.8 83.5,74.6 83.6,55.0" fill="#7e100c"/>
<path fill="#b54848" fill-opacity="0.6" d="M99.3 48.4h0.55v0.55h-0.55zM83.9 54.2h0.55v0.55h-0.55zM85.6 61.8h0.55v0.55h-0.55zM95.4 33.1h0.55v0.55h-0.55zM88.3 60.3h0.55v0.55h-0.55zM97.4 59.5h0.55v0.55h-0.55zM85.5 64.1h0.55v0.55h-0.55zM86.8 67.5h0.55v0.55h-0.55zM94.1 33.8h0.55v0.55h-0.55zM86.7 38.8h0.55v0.55h-0.55zM99.2 64.5h0.55v0.55h-0.55zM101.0 39.8h0.55v0.55h-0.55zM93.3 58.2h0.55v0.55h-0.55zM97.9 69.6h0.55v0.55h-0.55zM90.3 33.9h0.55v0.55h-0.55zM92.9 60.5h0.55v0.55h-0.55zM86.0 55.3h0.55v0.55h-0.55zM89.0 66.2h0.55v0.55h-0.55zM95.5 56.8h0.55v0.55h-0.55zM92.8 55.4h0.55v0.55h-0.55zM90.9 41.4h0.55v0.55h-0.55zM85.7 38.3h0.55v0.55h-0.55zM94.9 55.4h0.55v0.55h-0.55zM91.1 61.6h0.55v0.55h-0.55zM98.9 69.3h0.55v0.55h-0.55zM94.8 63.6h0.55v0.55h-0.55zM101.1 53.7h0.55v0.55h-0.55zM98.8 46.0h0.55v0.55h-0.55zM87.6 69.8h0.55v0.55h-0.55zM98.6 53.2h0.55v0.55h-0.55zM98.3 67.2h0.55v0.55h-0.55zM94.7 65.8h0.55v0.55h-0.55zM84.1 72.2h0.55v0.55h-0.55zM100.9 61.2h0.55v0.55h-0.55zM101.0 52.9h0.55v0.55h-0.55zM93.7 33.1h0.55v0.55h-0.55zM83.7 49.1h0.55v0.55h-0.55zM91.0 72.7h0.55v0.55h-0.55zM101.2 43.3h0.55v0.55h-0.55zM92.6 45.9h0.55v0.55h-0.55zM95.8 61.3h0.55v0.55h-0.55zM85.1 43.5h0.55v0.55h-0.55zM87.6 54.0h0.55v0.55h-0.55zM90.7 52.1h0.55v0.55h-0.55zM89.3 40.9h0.55v0.55h-0.55zM89.9 34.4h0.55v0.55h-0.55zM93.8 41.8h0.55v0.55h-0.55zM96.2 66.1h0.55v0.55h-0.55zM85.9 46.8h0.55v0.55h-0.55zM97.2 42.4h0.55v0.55h-0.55zM101.9 44.2h0.55v0.55h-0.55zM96.4 55.4h0.55v0.55h-0.55zM101.7 66.0h0.55v0.55h-0.55zM98.5 34.6h0.55v0.55h-0.55zM87.8 73.7h0.55v0.55h-0.55zM86.1 65.6h0.55v0.55h-0.55zM103.1 67.3h0.55v0.55h-0.55zM84.9 41.8h0.55v0.55h-0.55zM84.1 39.6h0.55v0.55h-0.55zM100.2 69.8h0.55v0.55h-0.55zM96.6 51.6h0.55v0.55h-0.55zM97.0 63.5h0.55v0.55h-0.55zM93.8 35.5h0.55v0.55h-0.55zM88.5 72.1h0.55v0.55h-0.55zM97.3 59.4h0.55v0.55h-0.55zM94.2 65.8h0.55v0.55h-0.55zM101.6 42.9h0.55v0.55h-0.55zM96.3 58.8h0.55v0.55h-0.55zM97.5 34.7h0.55v0.55h-0.55zM91.1 47.7h0.55v0.55h-0.55zM101.7 48.4h0.55v0.55h-0.55zM98.9 38.7h0.55v0.55h-0.55zM92.7 50.9h0.55v0.55h-0.55zM88.2 46.3h0.55v0.55h-0.55zM83.7 58.9h0.55v0.55h-0.55zM89.8 40.1h0.55v0.55h-0.55zM87.6 70.6h0.55v0.55h-0.55zM96.3 52.2h0.55v0.55h-0.55zM99.2 62.6h0.55v0.55h-0.55zM98.5 42.5h0.55v0.55h-0.55zM86.8 69.1h0.55v0.55h-0.55zM86.3 63.7h0.55v0.55h-0.55zM92.2 61.0h0.55v0.55h-0.55zM93.7 72.9h0.55v0.55h-0.55zM99.2 70.3h0.55v0.55h-0.55zM83.7 59.7h0.55v0.55h-0.55zM85.2 44.5h0.55v0.55h-0.55zM102.1 63.4h0.55v0.55h-0.55zM98.6 50.3h0.55v0.55h-0.55zM101.3 59.0h0.55v0.55h-0.55zM98.1 37.9h0.55v0.55h-0.55zM83.8 67.8h0.55v0.55h-0.55zM93.0 63.4h0.55v0.55h-0.55zM94.0 46.0h0.55v0.55h-0.55zM86.7 69.5h0.55v0.55h-0.55zM87.7 32.9h0.55v0.55h-0.55zM91.2 55.6h0.55v0.55h-0.55zM98.8 39.3h0.55v0.55h-0.55zM93.8 45.6h0.55v0.55h-0.55zM85.1 65.4h0.55v0.55h-0.55zM92.2 64.6h0.55v0.55h-0.55zM88.6 41.7h0.55v0.55h-0.55zM99.1 56.9h0.55v0.55h-0.55zM87.5 51.7h0.55v0.55h-0.55zM95.4 57.1h0.55v0.55h-0.55zM83.7 72.6h0.55v0.55h-0.55zM95.8 42.8h0.55v0.55h-0.55zM90.9 69.1h0.55v0.55h-0.55zM97.6 46.8h0.55v0.55h-0.55zM99.5 58.9h0.55v0.55h-0.55zM92.3 41.7h0.55v0.55h-0.55zM88.9 51.9h0.55v0.55h-0.55zM97.3 57.4h0.55v0.55h-0.55zM88.9 74.3h0.55v0.55h-0.55zM87.0 49.8h0.55v0.55h-0.55zM85.0 51.6h0.55v0.55h-0.55zM94.4 56.4h0.55v0.55h-0.55zM95.6 38.1h0.55v0.55h-0.55zM98.2 52.1h0.55v0.55h-0.55zM100.2 71.3h0.55v0.55h-0.55zM101.7 70.3h0.55v0.55h-0.55zM95.1 55.3h0.55v0.55h-0.55zM89.1 52.0h0.55v0.55h-0.55zM89.2 55.4h0.55v0.55h-0.55zM102.3 59.0h0.55v0.55h-0.55zM83.7 50.1h0.55v0.55h-0.55zM99.9 43.5h0.55v0.55h-0.55zM98.4 38.2h0.55v0.55h-0.55zM85.6 44.5h0.55v0.55h-0.55zM90.6 66.2h0.55v0.55h-0.55zM85.9 65.4h0.55v0.55h-0.55zM96.8 34.4h0.55v0.55h-0.55zM88.7 55.8h0.55v0.55h-0.55zM87.3 52.7h0.55v0.55h-0.55zM97.7 61.2h0.55v0.55h-0.55zM91.1 64.1h0.55v0.55h-0.55zM89.9 42.5h0.55v0.55h-0.55zM90.5 35.9h0.55v0.55h-0.55zM101.0 38.7h0.55v0.55h-0.55zM93.1 46.7h0.55v0.55h-0.55zM92.6 34.2h0.55v0.55h-0.55zM100.5 51.6h0.55v0.55h-0.55zM91.2 37.8h0.55v0.55h-0.55zM99.1 37.5h0.55v0.55h-0.55zM96.5 50.0h0.55v0.55h-0.55zM91.2 40.5h0.55v0.55h-0.55zM93.1 48.3h0.55v0.55h-0.55zM84.2 64.3h0.55v0.55h-0.55zM96.6 41.8h0.55v0.55h-0.55zM91.2 58.1h0.55v0.55h-0.55zM93.7 67.8h0.55v0.55h-0.55zM101.1 49.3h0.55v0.55h-0.55zM91.0 48.1h0.55v0.55h-0.55zM89.7 54.4h0.55v0.55h-0.55zM89.2 34.3h0.55v0.55h-0.55zM88.1 53.5h0.55v0.55h-0.55zM90.7 60.2h0.55v0.55h-0.55zM101.4 60.9h0.55v0.55h-0.55zM94.4 54.8h0.55v0.55h-0.55zM95.8 51.5h0.55v0.55h-0.55zM86.3 73.2h0.55v0.55h-0.55zM91.8 62.4h0.55v0.55h-0.55zM89.1 41.0h0.55v0.55h-0.55zM97.1 42.2h0.55v0.55h-0.55zM88.2 38.4h0.55v0.55h-0.55zM95.4 40.0h0.55v0.55h-0.55zM88.3 60.1h0.55v0.55h-0.55zM83.9 49.9h0.55v0.55h-0.55zM83.8 48.6h0.55v0.55h-0.55zM94.7 65.3h0.55v0.55h-0.55zM86.1 72.8h0.55v0.55h-0.55zM89.6 47.3h0.55v0.55h-0.55zM95.6 69.0h0.55v0.55h-0.55zM94.0 62.7h0.55v0.55h-0.55zM100.1 42.4h0.55v0.55h-0.55zM87.3 40.0h0.55v0.55h-0.55zM84.5 39.3h0.55v0.55h-0.55zM90.2 40.3h0.55v0.55h-0.55zM96.3 57.5h0.55v0.55h-0.55zM99.8 56.5h0.55v0.55h-0.55zM86.8 52.1h0.55v0.55h-0.55zM102.6 61.5h0.55v0.55h-0.55zM101.0 68.1h0.55v0.55h-0.55zM89.4 44.8h0.55v0.55h-0.55zM95.6 54.0h0.55v0.55h-0.55zM96.6 68.5h0.55v0.55h-0.55zM90.1 71.0h0.55v0.55h-0.55zM96.7 70.4h0.55v0.55h-0.55zM87.0 60.8h0.55v0.55h-0.55zM97.3 63.2h0.55v0.55h-0.55zM85.4 36.4h0.55v0.55h-0.55zM101.5 34.2h0.55v0.55h-0.55zM90.5 50.6h0.55v0.55h-0.55zM101.3 34.5h0.55v0.55h-0.55zM100.6 68.0h0.55v0.55h-0.55zM91.5 72.1h0.55v0.55h-0.55zM88.0 39.1h0.55v0.55h-0.55zM98.0 34.8h0.55v0.55h-0.55zM96.9 66.1h0.55v0.55h-0.55zM91.0 50.1h0.55v0.55h-0.55zM101.3 62.8h0.55v0.55h-0.55zM89.0 50.7h0.55v0.55h-0.55zM91.1 73.8h0.55v0.55h-0.55zM95.9 57.8h0.55v0.55h-0.55zM89.2 42.2h0.55v0.55h-0.55zM93.5 41.2h0.55v0.55h-0.55zM97.2 50.7h0.55v0.55h-0.55zM93.0 38.7h0.55v0.55h-0.55zM100.2 69.2h0.55v0.55h-0.55zM95.5 62.2h0.55v0.55h-0.55zM87.7 37.9h0.55v0.55h-0.55zM100.3 47.6h0.55v0.55h-0.55zM91.6 51.4h0.55v0.55h-0.55zM102.8 70.9h0.55v0.55h-0.55zM94.8 48.1h0.55v0.55h-0.55zM83.9 55.4h0.55v0.55h-0.55zM100.1 71.3h0.55v0.55h-0.55zM88.0 58.5h0.55v0.55h-0.55zM89.3 51.7h0.55v0.55h-0.55zM84.3 47.8h0.55v0.55h-0.55zM99.5 64.4h0.55v0.55h-0.55zM100.4 66.3h0.55v0.55h-0.55zM92.0 51.6h0.55v0.55h-0.55zM92.9 52.6h0.55v0.55h-0.55zM100.1 42.4h0.55v0.55h-0.55zM86.8 67.2h0.55v0.55h-0.55zM88.2 63.6h0.55v0.55h-0.55zM89.5 62.8h0.55v0.55h-0.55zM101.1 62.7h0.55v0.55h-0.55zM99.1 59.4h0.55v0.55h-0.55zM100.0 63.7h0.55v0.55h-0.55zM87.9 49.0h0.55v0.55h-0.55zM93.4 64.3h0.55v0.55h-0.55zM93.1 69.1h0.55v0.55h-0.55zM91.3 53.2h0.55v0.55h-0.55zM84.7 68.3h0.55v0.55h-0.55zM102.0 57.3h0.55v0.55h-0.55zM88.7 50.8h0.55v0.55h-0.55zM100.8 45.2h0.55v0.55h-0.55zM100.0 55.9h0.55v0.55h-0.55zM100.2 39.6h0.55v0.55h-0.55zM101.1 47.9h0.55v0.55h-0.55zM84.1 50.6h0.55v0.55h-0.55zM90.3 36.1h0.55v0.55h-0.55zM90.1 66.1h0.55v0.55h-0.55zM96.2 54.8h0.55v0.55h-0.55zM88.4 42.6h0.55v0.55h-0.55zM100.7 33.2h0.55v0.55h-0.55zM86.3 59.4h0.55v0.55h-0.55zM85.7 67.4h0.55v0.55h-0.55zM92.6 65.6h0.55v0.55h-0.55zM96.7 52.6h0.55v0.55h-0.55zM102.1 51.1h0.55v0.55h-0.55zM94.8 51.2h0.55v0.55h-0.55zM86.9 60.6h0.55v0.55h-0.55zM90.5 33.0h0.55v0.55h-0.55zM92.5 50.1h0.55v0.55h-0.55zM85.9 52.4h0.55v0.55h-0.55zM83.9 49.7h0.55v0.55h-0.55zM88.0 35.3h0.55v0.55h-0.55zM85.9 51.5h0.55v0.55h-0.55zM98.4 67.6h0.55v0.55h-0.55zM84.3 56.3h0.55v0.55h-0.55zM84.6 39.1h0.55v0.55h-0.55zM100.3 40.1h0.55v0.55h-0.55zM90.4 69.4h0.55v0.55h-0.55zM84.1 57.7h0.55v0.55h-0.55zM86.1 52.1h0.55v0.55h-0.55zM87.5 53.6h0.55v0.55h-0.55zM96.1 48.3h0.55v0.55h-0.55zM98.7 71.9h0.55v0.55h-0.55zM92.6 36.1h0.55v0.55h-0.55zM91.2 39.4h0.55v0.55h-0.55zM84.7 70.0h0.55v0.55h-0.55zM91.7 43.6h0.55v0.55h-0.55zM91.0 37.1h0.55v0.55h-0.55zM86.3 59.7h0.55v0.55h-0.55zM95.7 35.1h0.55v0.55h-0.55zM84.1 64.9h0.55v0.55h-0.55zM92.4 49.0h0.55v0.55h-0.55zM84.7 67.3h0.55v0.55h-0.55zM92.6 44.4h0.55v0.55h-0.55zM89.3 48.3h0.55v0.55h-0.55zM84.1 50.9h0.55v0.55h-0.55zM85.7 57.9h0.55v0.55h-0.55zM92.4 40.5h0.55v0.55h-0.55zM89.9 39.4h0.55v0.55h-0.55zM94.5 33.2h0.55v0.55h-0.55zM86.4 35.2h0.55v0.55h-0.55zM101.8 71.3h0.55v0.55h-0.55zM94.8 42.3h0.55v0.55h-0.55zM94.4 45.6h0.55v0.55h-0.55zM89.3 52.1h0.55v0.55h-0.55zM101.2 54.2h0.55v0.55h-0.55zM102.2 56.1h0.55v0.55h-0.55zM84.2 72.4h0.55v0.55h-0.55zM93.9 68.6h0.55v0.55h-0.55zM96.6 56.9h0.55v0.55h-0.55zM84.0 60.5h0.55v0.55h-0.55zM97.9 43.9h0.55v0.55h-0.55zM91.2 54.7h0.55v0.55h-0.55zM84.7 70.2h0.55v0.55h-0.55zM85.0 46.7h0.55v0.55h-0.55zM95.7 58.5h0.55v0.55h-0.55zM100.7 41.1h0.55v0.55h-0.55zM96.8 38.2h0.55v0.55h-0.55zM97.5 56.7h0.55v0.55h-0.55zM100.9 68.9h0.55v0.55h-0.55zM95.7 47.2h0.55v0.55h-0.55zM84.0 68.2h0.55v0.55h-0.55zM87.5 64.1h0.55v0.55h-0.55zM91.9 73.5h0.55v0.55h-0.55zM90.7 55.9h0.55v0.55h-0.55zM98.4 51.5h0.55v0.55h-0.55zM101.3 48.6h0.55v0.55h-0.55zM91.6 71.1h0.55v0.55h-0.55zM89.8 74.3h0.55v0.55h-0.55zM100.1 34.2h0.55v0.55h-0.55zM102.0 38.8h0.55v0.55h-0.55zM84.2 62.8h0.55v0.55h-0.55zM94.8 73.8h0.55v0.55h-0.55zM96.7 49.8h0.55v0.55h-0.55zM92.0 57.7h0.55v0.55h-0.55zM93.0 53.4h0.55v0.55h-0.55zM102.5 58.9h0.55v0.55h-0.55zM94.1 69.1h0.55v0.55h-0.55zM94.0 52.9h0.55v0.55h-0.55zM84.4 72.6h0.55v0.55h-0.55zM86.2 50.3h0.55v0.55h-0.55zM84.5 55.2h0.55v0.55h-0.55zM86.9 57.6h0.55v0.55h-0.55zM101.4 37.1h0.55v0.55h-0.55zM91.4 71.5h0.55v0.55h-0.55zM84.5 43.9h0.55v0.55h-0.55zM88.7 69.2h0.55v0.55h-0.55zM93.8 70.7h0.55v0.55h-0.55zM101.4 62.8h0.55v0.55h-0.55zM89.0 66.8h0.55v0.55h-0.55zM86.8 55.6h0.55v0.55h-0.55zM101.9 72.2h0.55v0.55h-0.55zM97.8 32.8h0.55v0.55h-0.55zM94.3 72.6h0.55v0.55h-0.55zM100.7 34.1h0.55v0.55h-0.55zM87.0 44.8h0.55v0.55h-0.55zM93.3 67.8h0.55v0.55h-0.55zM98.5 62.3h0.55v0.55h-0.55zM94.9 71.8h0.55v0.55h-0.55zM94.2 46.4h0.55v0.55h-0.55zM94.3 40.6h0.55v0.55h-0.55zM94.2 72.7h0.55v0.55h-0.55zM85.5 34.6h0.55v0.55h-0.55zM88.4 52.5h0.55v0.55h-0.55zM87.7 33.1h0.55v0.55h-0.55zM86.1 56.2h0.55v0.55h-0.55zM89.3 71.3h0.55v0.55h-0.55zM91.7 41.7h0.55v0.55h-0.55zM98.0 60.1h0.55v0.55h-0.55zM97.3 55.1h0.55v0.55h-0.55zM99.3 40.9h0.55v0.55h-0.55zM101.7 52.8h0.55v0.55h-0.55zM99.6 65.3h0.55v0.55h-0.55zM98.2 72.7h0.55v0.55h-0.55zM98.6 60.3h0.55v0.55h-0.55zM95.4 48.0h0.55v0.55h-0.55zM97.6 71.0h0.55v0.55h-0.55zM84.1 55.9h0.55v0.55h-0.55zM92.7 65.1h0.55v0.55h-0.55zM89.6 42.7h0.55v0.55h-0.55zM100.5 67.1h0.55v0.55h-0.55zM88.0 73.7h0.55v0.55h-0.55zM86.6 62.9h0.55v0.55h-0.55zM85.9 35.7h0.55v0.55h-0.55zM86.3 36.4h0.55v0.55h-0.55zM89.2 45.7h0.55v0.55h-0.55zM88.7 46.8h0.55v0.55h-0.55zM101.6 68.9h0.55v0.55h-0.55zM88.7 33.9h0.55v0.55h-0.55zM100.1 38.7h0.55v0.55h-0.55zM102.9 69.3h0.55v0.55h-0.55zM89.6 50.9h0.55v0.55h-0.55zM93.5 69.3h0.55v0.55h-0.55zM84.1 50.3h0.55v0.55h-0.55zM85.7 65.3h0.55v0.55h-0.55zM84.6 63.1h0.55v0.55h-0.55zM99.2 43.1h0.55v0.55h-0.55zM99.8 45.6h0.55v0.55h-0.55zM90.9 46.3h0.55v0.55h-0.55zM98.4 67.8h0.55v0.55h-0.55zM94.9 55.2h0.55v0.55h-0.55zM99.4 42.6h0.55v0.55h-0.55zM92.9 49.1h0.55v0.55h-0.55zM87.0 38.6h0.55v0.55h-0.55zM96.5 63.4h0.55v0.55h-0.55zM83.8 53.1h0.55v0.55h-0.55zM95.7 53.8h0.55v0.55h-0.55zM91.0 37.9h0.55v0.55h-0.55zM87.2 35.0h0.55v0.55h-0.55zM85.9 69.4h0.55v0.55h-0.55zM85.9 42.9h0.55v0.55h-0.55zM90.8 45.7h0.55v0.55h-0.55zM87.2 34.4h0.55v0.55h-0.55zM88.1 54.8h0.55v0.55h-0.55zM83.9 46.2h0.55v0.55h-0.55zM92.9 56.1h0.55v0.55h-0.55zM88.0 42.1h0.55v0.55h-0.55zM85.7 54.7h0.55v0.55h-0.55zM92.9 70.3h0.55v0.55h-0.55zM97.6 68.3h0.55v0.55h-0.55zM85.1 47.8h0.55v0.55h-0.55zM87.1 52.3h0.55v0.55h-0.55zM86.4 61.0h0.55v0.55h-0.55zM102.4 59.0h0.55v0.55h-0.55zM85.0 54.7h0.55v0.55h-0.55zM97.1 35.1h0.55v0.55h-0.55zM88.2 68.2h0.55v0.55h-0.55zM102.1 56.3h0.55v0.55h-0.55zM94.0 70.9h0.55v0.55h-0.55zM96.5 61.3h0.55v0.55h-0.55zM92.0 45.5h0.55v0.55h-0.55zM101.0 34.5h0.55v0.55h-0.55z"/>
<path fill="#7e100c" fill-opacity="0.9" d="M84.0 66.4h0.7v0.7h-0.7zM84.0 44.1h0.7v0.7h-0.7zM83.6 55.0h0.7v0.7h-0.7zM83.2 51.8h0.7v0.7h-0.7zM83.4 33.5h0.7v0.7h-0.7zM83.9 35.3h0.7v0.7h-0.7zM83.7 57.3h0.7v0.7h-0.7zM82.3 43.0h0.7v0.7h-0.7zM83.5 36.1h0.7v0.7h-0.7zM83.5 68.4h0.7v0.7h-0.7zM82.6 68.3h0.7v0.7h-0.7zM82.7 72.9h0.7v0.7h-0.7zM82.5 44.5h0.7v0.7h-0.7zM83.1 59.5h0.7v0.7h-0.7zM83.0 58.7h0.7v0.7h-0.7zM83.5 56.8h0.7v0.7h-0.7zM84.0 65.4h0.7v0.7h-0.7zM83.2 49.7h0.7v0.7h-0.7zM82.9 41.3h0.7v0.7h-0.7zM82.0 53.1h0.7v0.7h-0.7zM82.7 70.4h0.7v0.7h-0.7zM83.0 44.5h0.7v0.7h-0.7zM83.5 56.5h0.7v0.7h-0.7zM83.7 40.2h0.7v0.7h-0.7zM83.9 59.2h0.7v0.7h-0.7zM83.8 71.9h0.7v0.7h-0.7zM83.1 70.0h0.7v0.7h-0.7zM83.9 60.7h0.7v0.7h-0.7zM82.5 46.3h0.7v0.7h-0.7zM83.1 65.7h0.7v0.7h-0.7zM83.6 52.9h0.7v0.7h-0.7zM83.8 52.5h0.7v0.7h-0.7zM83.3 62.4h0.7v0.7h-0.7zM83.4 56.8h0.7v0.7h-0.7zM83.0 57.6h0.7v0.7h-0.7zM83.2 38.8h0.7v0.7h-0.7zM83.6 38.2h0.7v0.7h-0.7zM83.9 63.3h0.7v0.7h-0.7zM82.6 67.5h0.7v0.7h-0.7zM83.7 67.8h0.7v0.7h-0.7zM82.8 41.7h0.7v0.7h-0.7zM83.7 73.6h0.7v0.7h-0.7zM83.8 39.8h0.7v0.7h-0.7zM83.9 54.6h0.7v0.7h-0.7zM83.2 61.7h0.7v0.7h-0.7zM83.8 52.2h0.7v0.7h-0.7zM83.6 53.9h0.7v0.7h-0.7zM84.0 54.9h0.7v0.7h-0.7zM83.4 72.0h0.7v0.7h-0.7zM83.9 58.8h0.7v0.7h-0.7zM83.6 54.9h0.7v0.7h-0.7zM83.6 60.6h0.7v0.7h-0.7zM83.1 60.4h0.7v0.7h-0.7zM82.1 51.7h0.7v0.7h-0.7zM83.8 33.1h0.7v0.7h-0.7zM83.6 62.3h0.7v0.7h-0.7zM83.9 38.3h0.7v0.7h-0.7zM83.4 47.0h0.7v0.7h-0.7zM83.9 50.4h0.7v0.7h-0.7zM83.7 73.2h0.7v0.7h-0.7zM84.0 71.5h0.7v0.7h-0.7zM82.9 70.3h0.7v0.7h-0.7zM83.2 67.6h0.7v0.7h-0.7zM83.5 36.8h0.7v0.7h-0.7zM83.9 56.3h0.7v0.7h-0.7zM83.4 72.1h0.7v0.7h-0.7zM83.4 42.6h0.7v0.7h-0.7zM82.8 71.6h0.7v0.7h-0.7zM83.5 33.4h0.7v0.7h-0.7zM82.5 48.2h0.7v0.7h-0.7zM83.4 40.4h0.7v0.7h-0.7zM83.4 56.1h0.7v0.7h-0.7zM82.9 44.7h0.7v0.7h-0.7zM83.1 66.2h0.7v0.7h-0.7zM83.4 41.9h0.7v0.7h-0.7zM82.4 41.3h0.7v0.7h-0.7zM82.3 51.6h0.7v0.7h-0.7zM81.9 44.8h0.7v0.7h-0.7zM83.2 47.6h0.7v0.7h-0.7zM83.4 65.7h0.7v0.7h-0.7zM83.7 73.0h0.7v0.7h-0.7zM82.7 46.6h0.7v0.7h-0.7zM83.8 36.8h0.7v0.7h-0.7zM82.7 51.7h0.7v0.7h-0.7zM83.7 70.9h0.7v0.7h-0.7zM83.7 33.8h0.7v0.7h-0.7zM83.5 70.9h0.7v0.7h-0.7zM83.5 36.8h0.7v0.7h-0.7zM83.6 43.6h0.7v0.7h-0.7zM83.4 57.9h0.7v0.7h-0.7zM103.5 57.3h0.7v0.7h-0.7zM104.6 71.2h0.7v0.7h-0.7zM103.2 57.5h0.7v0.7h-0.7zM103.8 53.5h0.7v0.7h-0.7zM102.9 34.3h0.7v0.7h-0.7zM104.9 47.7h0.7v0.7h-0.7zM103.2 61.5h0.7v0.7h-0.7zM103.8 59.8h0.7v0.7h-0.7zM102.5 50.6h0.7v0.7h-0.7zM103.6 42.6h0.7v0.7h-0.7zM103.6 44.5h0.7v0.7h-0.7zM103.0 35.8h0.7v0.7h-0.7zM102.5 35.9h0.7v0.7h-0.7zM103.8 61.7h0.7v0.7h-0.7zM103.7 56.9h0.7v0.7h-0.7zM103.1 63.1h0.7v0.7h-0.7zM103.4 61.1h0.7v0.7h-0.7zM103.3 65.0h0.7v0.7h-0.7zM102.9 52.0h0.7v0.7h-0.7zM103.1 41.5h0.7v0.7h-0.7zM102.6 40.1h0.7v0.7h-0.7zM103.1 45.2h0.7v0.7h-0.7zM104.4 63.5h0.7v0.7h-0.7zM104.2 65.6h0.7v0.7h-0.7zM103.0 46.6h0.7v0.7h-0.7zM103.9 55.7h0.7v0.7h-0.7zM102.5 38.3h0.7v0.7h-0.7zM103.4 71.5h0.7v0.7h-0.7zM103.5 33.3h0.7v0.7h-0.7zM103.3 58.0h0.7v0.7h-0.7zM102.6 54.3h0.7v0.7h-0.7zM102.3 44.9h0.7v0.7h-0.7zM103.4 65.5h0.7v0.7h-0.7zM102.4 33.5h0.7v0.7h-0.7zM103.2 53.9h0.7v0.7h-0.7zM102.7 59.1h0.7v0.7h-0.7zM103.2 61.9h0.7v0.7h-0.7zM103.0 56.7h0.7v0.7h-0.7zM103.0 60.4h0.7v0.7h-0.7zM103.6 64.7h0.7v0.7h-0.7zM102.7 56.1h0.7v0.7h-0.7zM102.5 52.7h0.7v0.7h-0.7zM102.4 38.5h0.7v0.7h-0.7zM103.7 48.0h0.7v0.7h-0.7zM103.2 65.0h0.7v0.7h-0.7zM103.0 51.3h0.7v0.7h-0.7zM103.0 48.8h0.7v0.7h-0.7zM102.6 45.1h0.7v0.7h-0.7zM104.2 49.8h0.7v0.7h-0.7zM103.4 58.0h0.7v0.7h-0.7zM104.0 59.2h0.7v0.7h-0.7zM104.3 43.1h0.7v0.7h-0.7zM103.1 64.1h0.7v0.7h-0.7zM104.1 33.5h0.7v0.7h-0.7zM102.3 45.5h0.7v0.7h-0.7zM102.5 37.0h0.7v0.7h-0.7zM103.2 59.2h0.7v0.7h-0.7zM104.3 52.9h0.7v0.7h-0.7zM103.3 66.3h0.7v0.7h-0.7zM103.8 68.0h0.7v0.7h-0.7zM103.9 66.4h0.7v0.7h-0.7zM104.5 60.9h0.7v0.7h-0.7zM103.2 71.2h0.7v0.7h-0.7zM102.7 45.4h0.7v0.7h-0.7zM104.6 56.0h0.7v0.7h-0.7zM102.6 35.8h0.7v0.7h-0.7zM102.9 65.2h0.7v0.7h-0.7zM103.4 41.0h0.7v0.7h-0.7zM104.5 61.6h0.7v0.7h-0.7zM104.3 62.9h0.7v0.7h-0.7zM102.8 54.9h0.7v0.7h-0.7zM102.6 56.4h0.7v0.7h-0.7zM103.1 70.2h0.7v0.7h-0.7zM102.3 52.1h0.7v0.7h-0.7zM102.3 45.2h0.7v0.7h-0.7zM103.6 55.4h0.7v0.7h-0.7zM103.0 64.0h0.7v0.7h-0.7zM104.3 60.3h0.7v0.7h-0.7zM103.4 33.3h0.7v0.7h-0.7zM105.3 55.8h0.7v0.7h-0.7zM103.5 40.2h0.7v0.7h-0.7zM102.7 51.1h0.7v0.7h-0.7zM103.3 70.5h0.7v0.7h-0.7zM103.6 67.6h0.7v0.7h-0.7zM102.5 44.5h0.7v0.7h-0.7zM102.5 44.6h0.7v0.7h-0.7zM104.2 51.0h0.7v0.7h-0.7zM103.6 48.9h0.7v0.7h-0.7zM102.5 53.5h0.7v0.7h-0.7zM103.3 60.0h0.7v0.7h-0.7zM103.4 71.2h0.7v0.7h-0.7zM103.8 46.0h0.7v0.7h-0.7zM102.3 33.3h0.7v0.7h-0.7zM102.5 46.5h0.7v0.7h-0.7zM102.3 50.3h0.7v0.7h-0.7zM103.3 52.8h0.7v0.7h-0.7zM102.8 38.5h0.7v0.7h-0.7zM104.2 34.7h0.7v0.7h-0.7zM103.3 51.7h0.7v0.7h-0.7zM103.5 62.0h0.7v0.7h-0.7zM103.4 63.0h0.7v0.7h-0.7zM103.8 34.0h0.7v0.7h-0.7zM103.6 56.4h0.7v0.7h-0.7zM103.2 52.3h0.7v0.7h-0.7zM102.5 46.4h0.7v0.7h-0.7zM103.2 57.1h0.7v0.7h-0.7zM103.1 39.5h0.7v0.7h-0.7zM105.6 69.8h0.7v0.7h-0.7zM102.7 54.3h0.7v0.7h-0.7zM102.4 36.2h0.7v0.7h-0.7zM102.5 35.8h0.7v0.7h-0.7zM102.6 44.5h0.7v0.7h-0.7zM102.3 41.8h0.7v0.7h-0.7zM102.6 56.8h0.7v0.7h-0.7zM104.3 55.6h0.7v0.7h-0.7zM103.2 54.3h0.7v0.7h-0.7zM105.2 63.6h0.7v0.7h-0.7zM102.4 37.2h0.7v0.7h-0.7zM103.9 69.1h0.7v0.7h-0.7zM102.5 49.7h0.7v0.7h-0.7z"/>
<path fill="#333" fill-opacity="0.6" d="M85.2 72.2h0.55v0.55h-0.55zM84.4 55.1h0.55v0.55h-0.55zM85.3 46.1h0.55v0.55h-0.55zM84.3 61.7h0.55v0.55h-0.55zM84.5 62.9h0.55v0.55h-0.55zM84.1 46.9h0.55v0.55h-0.55zM84.4 49.0h0.55v0.55h-0.55zM84.7 56.2h0.55v0.55h-0.55zM84.1 40.4h0.55v0.55h-0.55zM84.7 36.0h0.55v0.55h-0.55zM84.1 52.8h0.55v0.55h-0.55zM84.7 46.4h0.55v0.55h-0.55zM85.5 72.8h0.55v0.55h-0.55zM84.4 66.8h0.55v0.55h-0.55zM84.0 33.1h0.55v0.55h-0.55zM85.8 60.2h0.55v0.55h-0.55zM85.4 47.9h0.55v0.55h-0.55zM84.3 47.3h0.55v0.55h-0.55zM84.3 47.6h0.55v0.55h-0.55zM84.1 46.3h0.55v0.55h-0.55zM85.8 55.3h0.55v0.55h-0.55zM84.4 64.9h0.55v0.55h-0.55zM85.5 67.2h0.55v0.55h-0.55zM85.1 57.9h0.55v0.55h-0.55zM85.4 36.2h0.55v0.55h-0.55zM84.1 45.7h0.55v0.55h-0.55zM86.9 41.9h0.55v0.55h-0.55zM85.2 36.2h0.55v0.55h-0.55zM85.3 42.9h0.55v0.55h-0.55zM85.7 65.6h0.55v0.55h-0.55zM84.4 62.8h0.55v0.55h-0.55zM84.8 70.7h0.55v0.55h-0.55zM84.7 62.7h0.55v0.55h-0.55zM84.3 53.4h0.55v0.55h-0.55zM84.3 44.6h0.55v0.55h-0.55zM84.6 36.9h0.55v0.55h-0.55zM85.2 59.6h0.55v0.55h-0.55zM84.2 49.9h0.55v0.55h-0.55zM84.0 51.9h0.55v0.55h-0.55zM84.4 53.8h0.55v0.55h-0.55zM85.3 41.6h0.55v0.55h-0.55zM84.0 51.3h0.55v0.55h-0.55zM84.6 44.5h0.55v0.55h-0.55zM84.9 57.2h0.55v0.55h-0.55zM84.5 56.8h0.55v0.55h-0.55zM85.3 38.8h0.55v0.55h-0.55zM86.4 53.5h0.55v0.55h-0.55zM84.2 65.4h0.55v0.55h-0.55zM85.0 51.1h0.55v0.55h-0.55zM85.4 52.7h0.55v0.55h-0.55zM84.8 58.0h0.55v0.55h-0.55zM85.1 42.1h0.55v0.55h-0.55zM84.2 37.2h0.55v0.55h-0.55zM84.4 58.7h0.55v0.55h-0.55zM84.3 53.6h0.55v0.55h-0.55zM84.6 53.0h0.55v0.55h-0.55zM84.4 35.3h0.55v0.55h-0.55zM84.2 70.8h0.55v0.55h-0.55zM84.7 46.5h0.55v0.55h-0.55zM84.1 51.3h0.55v0.55h-0.55zM84.2 66.2h0.55v0.55h-0.55zM84.2 54.8h0.55v0.55h-0.55zM86.0 72.3h0.55v0.55h-0.55zM84.6 56.4h0.55v0.55h-0.55zM84.1 40.4h0.55v0.55h-0.55zM84.3 44.1h0.55v0.55h-0.55zM84.9 51.9h0.55v0.55h-0.55zM85.4 47.2h0.55v0.55h-0.55zM85.3 72.9h0.55v0.55h-0.55zM84.1 41.7h0.55v0.55h-0.55zM84.6 58.4h0.55v0.55h-0.55zM84.3 55.0h0.55v0.55h-0.55zM84.6 71.8h0.55v0.55h-0.55zM84.7 68.4h0.55v0.55h-0.55zM84.3 51.1h0.55v0.55h-0.55zM84.4 54.3h0.55v0.55h-0.55zM84.2 36.0h0.55v0.55h-0.55zM85.1 34.0h0.55v0.55h-0.55zM86.6 72.6h0.55v0.55h-0.55zM86.3 60.0h0.55v0.55h-0.55zM101.8 35.5h0.55v0.55h-0.55zM101.0 45.8h0.55v0.55h-0.55zM101.6 61.1h0.55v0.55h-0.55zM100.7 58.9h0.55v0.55h-0.55zM101.1 49.2h0.55v0.55h-0.55zM100.5 71.0h0.55v0.55h-0.55zM100.4 40.4h0.55v0.55h-0.55zM101.4 34.0h0.55v0.55h-0.55zM100.6 68.2h0.55v0.55h-0.55zM100.1 59.3h0.55v0.55h-0.55zM101.5 57.8h0.55v0.55h-0.55zM101.1 33.4h0.55v0.55h-0.55zM100.0 50.0h0.55v0.55h-0.55zM100.1 55.6h0.55v0.55h-0.55zM100.0 44.2h0.55v0.55h-0.55zM101.5 41.3h0.55v0.55h-0.55zM100.2 56.0h0.55v0.55h-0.55zM101.0 43.8h0.55v0.55h-0.55zM101.5 61.8h0.55v0.55h-0.55zM101.2 57.2h0.55v0.55h-0.55zM100.1 61.7h0.55v0.55h-0.55zM100.4 68.7h0.55v0.55h-0.55zM101.2 70.3h0.55v0.55h-0.55zM99.9 60.3h0.55v0.55h-0.55zM101.0 33.6h0.55v0.55h-0.55zM100.8 35.6h0.55v0.55h-0.55zM101.5 55.0h0.55v0.55h-0.55zM100.9 59.7h0.55v0.55h-0.55zM99.8 44.3h0.55v0.55h-0.55zM99.5 47.1h0.55v0.55h-0.55zM101.0 37.6h0.55v0.55h-0.55zM101.5 61.0h0.55v0.55h-0.55zM101.8 48.2h0.55v0.55h-0.55zM100.3 43.8h0.55v0.55h-0.55zM100.4 56.4h0.55v0.55h-0.55zM101.2 70.5h0.55v0.55h-0.55zM101.5 70.3h0.55v0.55h-0.55zM101.7 64.3h0.55v0.55h-0.55zM101.2 57.6h0.55v0.55h-0.55zM100.1 48.6h0.55v0.55h-0.55zM101.1 71.0h0.55v0.55h-0.55zM100.7 48.0h0.55v0.55h-0.55zM100.8 34.5h0.55v0.55h-0.55zM99.8 50.3h0.55v0.55h-0.55zM100.8 57.1h0.55v0.55h-0.55zM101.4 48.8h0.55v0.55h-0.55zM101.1 42.2h0.55v0.55h-0.55zM101.0 64.9h0.55v0.55h-0.55zM100.7 68.1h0.55v0.55h-0.55zM100.4 66.6h0.55v0.55h-0.55zM99.8 52.7h0.55v0.55h-0.55zM101.6 48.8h0.55v0.55h-0.55zM101.5 64.1h0.55v0.55h-0.55zM101.4 68.1h0.55v0.55h-0.55zM101.5 66.3h0.55v0.55h-0.55zM100.3 35.1h0.55v0.55h-0.55zM101.9 35.3h0.55v0.55h-0.55zM101.6 59.2h0.55v0.55h-0.55zM100.9 38.2h0.55v0.55h-0.55zM101.0 59.7h0.55v0.55h-0.55zM100.6 40.7h0.55v0.55h-0.55zM100.9 33.7h0.55v0.55h-0.55zM100.7 46.4h0.55v0.55h-0.55zM101.0 59.8h0.55v0.55h-0.55zM101.7 41.4h0.55v0.55h-0.55zM101.9 38.8h0.55v0.55h-0.55zM99.6 50.2h0.55v0.55h-0.55zM101.8 55.6h0.55v0.55h-0.55zM101.5 41.4h0.55v0.55h-0.55zM101.3 59.7h0.55v0.55h-0.55zM101.7 71.4h0.55v0.55h-0.55zM100.7 33.5h0.55v0.55h-0.55zM100.3 38.1h0.55v0.55h-0.55zM99.5 68.3h0.55v0.55h-0.55zM101.5 58.3h0.55v0.55h-0.55zM101.7 33.2h0.55v0.55h-0.55zM101.8 45.6h0.55v0.55h-0.55zM101.5 51.8h0.55v0.55h-0.55zM100.7 69.9h0.55v0.55h-0.55zM101.8 61.7h0.55v0.55h-0.55z"/>
<polygon points="81.5,73.8 87.0,74.8 91.0,75.5 91.5,81.0 89.5,83.0 85.0,82.5 81.2,80.5" fill="#c4c4c4"/>
<path fill="#333" fill-opacity="0.8" d="M91.4 80.9h0.6v0.6h-0.6zM83.8 81.5h0.6v0.6h-0.6zM85.4 76.9h0.6v0.6h-0.6zM89.6 82.7h0.6v0.6h-0.6zM89.4 82.1h0.6v0.6h-0.6zM83.7 81.4h0.6v0.6h-0.6zM88.1 76.9h0.6v0.6h-0.6zM88.6 77.2h0.6v0.6h-0.6zM82.9 74.8h0.6v0.6h-0.6zM85.0 82.3h0.6v0.6h-0.6zM90.9 77.4h0.6v0.6h-0.6zM86.0 81.1h0.6v0.6h-0.6zM85.0 78.3h0.6v0.6h-0.6zM85.7 80.3h0.6v0.6h-0.6zM86.1 79.3h0.6v0.6h-0.6zM91.3 80.0h0.6v0.6h-0.6zM90.5 77.2h0.6v0.6h-0.6zM91.0 78.8h0.6v0.6h-0.6zM87.4 81.8h0.6v0.6h-0.6zM89.0 78.0h0.6v0.6h-0.6zM88.6 76.8h0.6v0.6h-0.6zM82.8 80.6h0.6v0.6h-0.6zM89.9 77.0h0.6v0.6h-0.6zM88.6 81.4h0.6v0.6h-0.6zM90.4 78.0h0.6v0.6h-0.6zM89.2 76.7h0.6v0.6h-0.6zM87.3 78.1h0.6v0.6h-0.6zM84.6 75.5h0.6v0.6h-0.6zM82.6 74.2h0.6v0.6h-0.6zM91.0 79.2h0.6v0.6h-0.6zM83.2 79.3h0.6v0.6h-0.6zM89.9 81.6h0.6v0.6h-0.6zM86.5 76.3h0.6v0.6h-0.6zM91.1 80.4h0.6v0.6h-0.6zM89.5 81.3h0.6v0.6h-0.6zM87.0 80.8h0.6v0.6h-0.6zM88.7 75.1h0.6v0.6h-0.6zM82.9 76.3h0.6v0.6h-0.6zM89.2 80.3h0.6v0.6h-0.6zM83.1 76.2h0.6v0.6h-0.6zM82.8 75.6h0.6v0.6h-0.6zM90.3 80.7h0.6v0.6h-0.6zM87.8 80.7h0.6v0.6h-0.6zM87.0 79.6h0.6v0.6h-0.6zM85.9 81.6h0.6v0.6h-0.6zM90.1 76.0h0.6v0.6h-0.6zM90.0 76.6h0.6v0.6h-0.6zM85.1 80.7h0.6v0.6h-0.6zM82.1 77.4h0.6v0.6h-0.6zM89.2 82.4h0.6v0.6h-0.6zM84.9 76.7h0.6v0.6h-0.6zM88.9 81.5h0.6v0.6h-0.6zM88.8 81.6h0.6v0.6h-0.6zM82.8 78.6h0.6v0.6h-0.6zM83.7 79.0h0.6v0.6h-0.6zM85.1 75.2h0.6v0.6h-0.6zM83.2 74.8h0.6v0.6h-0.6zM89.5 78.5h0.6v0.6h-0.6zM84.5 78.4h0.6v0.6h-0.6zM85.1 79.8h0.6v0.6h-0.6z"/>
<polygon points="81.5,80.5 85.5,83.0 86.0,90.0 84.0,93.5 78.0,93.5 75.5,91.2 79.0,84.0" fill="#2a2a2a" fill-opacity="0.8"/>
<path fill="#ccc" fill-opacity="0.6" d="M83.8 83.2h0.5v0.5h-0.5zM85.1 83.1h0.5v0.5h-0.5zM81.5 82.6h0.5v0.5h-0.5zM81.3 88.8h0.5v0.5h-0.5zM82.6 84.7h0.5v0.5h-0.5zM82.3 83.4h0.5v0.5h-0.5zM78.1 93.3h0.5v0.5h-0.5zM77.3 89.8h0.5v0.5h-0.5zM78.1 93.2h0.5v0.5h-0.5zM79.4 92.5h0.5v0.5h-0.5zM80.7 85.6h0.5v0.5h-0.5zM84.8 83.1h0.5v0.5h-0.5zM84.7 91.8h0.5v0.5h-0.5zM83.4 90.7h0.5v0.5h-0.5zM78.4 93.3h0.5v0.5h-0.5zM82.8 89.6h0.5v0.5h-0.5zM81.3 85.1h0.5v0.5h-0.5zM85.1 89.8h0.5v0.5h-0.5zM79.5 93.4h0.5v0.5h-0.5zM83.6 82.9h0.5v0.5h-0.5zM78.3 86.8h0.5v0.5h-0.5zM77.3 87.8h0.5v0.5h-0.5zM82.1 89.6h0.5v0.5h-0.5zM83.3 85.9h0.5v0.5h-0.5zM83.5 86.0h0.5v0.5h-0.5zM78.3 93.2h0.5v0.5h-0.5zM84.9 83.2h0.5v0.5h-0.5zM82.5 84.2h0.5v0.5h-0.5zM80.0 83.0h0.5v0.5h-0.5zM79.6 86.9h0.5v0.5h-0.5zM75.9 90.5h0.5v0.5h-0.5zM85.0 91.0h0.5v0.5h-0.5zM79.6 90.1h0.5v0.5h-0.5zM82.9 90.9h0.5v0.5h-0.5zM83.9 90.3h0.5v0.5h-0.5zM83.1 83.6h0.5v0.5h-0.5zM84.8 83.1h0.5v0.5h-0.5zM80.9 89.3h0.5v0.5h-0.5zM84.3 87.5h0.5v0.5h-0.5zM79.7 85.8h0.5v0.5h-0.5z"/>
<polygon points="77.6,71.8 80.2,71.6 82.3,72.6 81.8,74.6 74.6,91.0 71.5,92.0 68.4,91.0 67.9,89.0" fill="#3f2aa2"/>
<path fill="#6a5ac8" fill-opacity="0.7" d="M74.0 86.3h0.5v0.5h-0.5zM80.3 76.0h0.5v0.5h-0.5zM74.9 87.1h0.5v0.5h-0.5zM74.5 83.0h0.5v0.5h-0.5zM74.7 83.0h0.5v0.5h-0.5zM73.2 83.7h0.5v0.5h-0.5zM81.2 75.3h0.5v0.5h-0.5zM78.9 77.7h0.5v0.5h-0.5zM71.3 90.8h0.5v0.5h-0.5zM75.0 86.3h0.5v0.5h-0.5zM72.0 81.8h0.5v0.5h-0.5zM75.9 81.7h0.5v0.5h-0.5zM72.5 85.4h0.5v0.5h-0.5zM75.0 89.4h0.5v0.5h-0.5zM73.8 88.4h0.5v0.5h-0.5zM75.5 85.7h0.5v0.5h-0.5zM76.7 75.3h0.5v0.5h-0.5zM80.7 76.4h0.5v0.5h-0.5zM71.4 91.8h0.5v0.5h-0.5zM75.2 76.4h0.5v0.5h-0.5zM68.2 90.2h0.5v0.5h-0.5zM74.1 84.6h0.5v0.5h-0.5zM74.5 77.5h0.5v0.5h-0.5zM73.7 79.6h0.5v0.5h-0.5zM72.1 82.7h0.5v0.5h-0.5zM74.9 88.9h0.5v0.5h-0.5zM68.3 89.5h0.5v0.5h-0.5zM75.0 87.7h0.5v0.5h-0.5zM73.0 84.7h0.5v0.5h-0.5zM79.4 78.0h0.5v0.5h-0.5z"/>
<polygon points="87.0,82.5 90.5,81.8 93.8,83.5 94.8,88.5 93.0,93.3 88.5,94.2 85.2,92.5 84.8,87.0" fill="#58a5a8"/>
<path fill="#8cc8c8" fill-opacity="0.8" d="M89.6 91.7h0.5v0.5h-0.5zM92.3 89.3h0.5v0.5h-0.5zM87.0 91.5h0.5v0.5h-0.5zM88.9 84.5h0.5v0.5h-0.5zM90.9 89.6h0.5v0.5h-0.5zM90.3 88.2h0.5v0.5h-0.5zM90.8 90.7h0.5v0.5h-0.5zM88.2 86.9h0.5v0.5h-0.5zM88.4 93.2h0.5v0.5h-0.5zM93.5 88.0h0.5v0.5h-0.5zM91.9 93.1h0.5v0.5h-0.5zM94.4 87.6h0.5v0.5h-0.5zM93.6 84.1h0.5v0.5h-0.5zM87.8 86.8h0.5v0.5h-0.5zM87.0 83.4h0.5v0.5h-0.5zM86.5 86.5h0.5v0.5h-0.5zM89.7 85.9h0.5v0.5h-0.5zM87.2 89.6h0.5v0.5h-0.5zM90.7 84.8h0.5v0.5h-0.5zM89.0 83.7h0.5v0.5h-0.5zM93.4 90.2h0.5v0.5h-0.5zM89.7 91.1h0.5v0.5h-0.5zM89.1 88.4h0.5v0.5h-0.5zM85.1 88.8h0.5v0.5h-0.5zM88.2 85.6h0.5v0.5h-0.5zM88.1 92.9h0.5v0.5h-0.5zM92.0 89.9h0.5v0.5h-0.5zM88.0 89.4h0.5v0.5h-0.5zM85.6 89.5h0.5v0.5h-0.5zM88.5 84.3h0.5v0.5h-0.5z"/>
<polygon points="95.2,75.8 100.0,73.6 106.8,72.2 110.6,77.8 110.9,82.5 106.0,85.6 100.5,86.9 95.6,86.3 94.6,81.0" fill="#ee7a22"/>
<ellipse cx="105.8" cy="90.6" rx="6.6" ry="3.4" transform="rotate(-22 105.8 90.6)" fill="#3e9a2c"/>
<path fill="#222" fill-opacity="0.7" d="M116.7 89.7h0.55v0.55h-0.55zM81.8 82.8h0.55v0.55h-0.55zM82.9 93.1h0.55v0.55h-0.55zM103.1 94.4h0.55v0.55h-0.55zM111.8 91.7h0.55v0.55h-0.55zM89.3 94.9h0.55v0.55h-0.55zM75.7 85.1h0.55v0.55h-0.55zM117.6 87.6h0.55v0.55h-0.55zM80.5 92.9h0.55v0.55h-0.55zM77.6 91.6h0.55v0.55h-0.55zM85.6 94.5h0.55v0.55h-0.55zM116.2 85.2h0.55v0.55h-0.55zM76.5 92.5h0.55v0.55h-0.55zM115.4 91.1h0.55v0.55h-0.55zM83.8 88.6h0.55v0.55h-0.55zM107.5 94.1h0.55v0.55h-0.55zM68.4 85.0h0.55v0.55h-0.55zM65.9 90.1h0.55v0.55h-0.55zM78.5 87.5h0.55v0.55h-0.55zM117.2 92.9h0.55v0.55h-0.55zM106.7 95.4h0.55v0.55h-0.55zM74.2 91.6h0.55v0.55h-0.55zM90.6 96.9h0.55v0.55h-0.55zM117.5 83.8h0.55v0.55h-0.55zM113.3 85.7h0.55v0.55h-0.55zM79.5 92.5h0.55v0.55h-0.55zM85.3 96.2h0.55v0.55h-0.55zM74.4 92.8h0.55v0.55h-0.55zM77.0 81.5h0.55v0.55h-0.55zM81.9 83.3h0.55v0.55h-0.55zM97.3 95.5h0.55v0.55h-0.55zM76.0 91.6h0.55v0.55h-0.55zM123.5 87.0h0.55v0.55h-0.55zM80.7 95.6h0.55v0.55h-0.55zM103.3 95.5h0.55v0.55h-0.55zM129.0 84.4h0.55v0.55h-0.55zM102.1 96.6h0.55v0.55h-0.55zM117.1 81.8h0.55v0.55h-0.55zM82.8 88.2h0.55v0.55h-0.55zM99.3 95.0h0.55v0.55h-0.55zM85.0 94.2h0.55v0.55h-0.55zM77.9 86.4h0.55v0.55h-0.55zM82.6 81.1h0.55v0.55h-0.55zM88.7 95.6h0.55v0.55h-0.55zM115.5 82.2h0.55v0.55h-0.55zM79.8 95.9h0.55v0.55h-0.55zM103.3 96.0h0.55v0.55h-0.55zM83.6 96.2h0.55v0.55h-0.55zM76.7 81.5h0.55v0.55h-0.55zM78.1 89.2h0.55v0.55h-0.55zM112.2 91.6h0.55v0.55h-0.55zM68.6 88.6h0.55v0.55h-0.55zM104.8 95.4h0.55v0.55h-0.55zM73.3 91.0h0.55v0.55h-0.55zM103.0 96.4h0.55v0.55h-0.55zM121.1 90.6h0.55v0.55h-0.55zM123.2 90.0h0.55v0.55h-0.55zM117.3 89.5h0.55v0.55h-0.55zM119.6 90.0h0.55v0.55h-0.55zM113.9 88.6h0.55v0.55h-0.55zM83.8 84.6h0.55v0.55h-0.55zM83.3 94.8h0.55v0.55h-0.55zM89.5 94.9h0.55v0.55h-0.55zM90.3 96.0h0.55v0.55h-0.55zM120.9 84.6h0.55v0.55h-0.55zM80.2 80.0h0.55v0.55h-0.55zM112.5 92.3h0.55v0.55h-0.55zM115.4 92.4h0.55v0.55h-0.55zM73.0 86.0h0.55v0.55h-0.55zM95.7 94.7h0.55v0.55h-0.55zM77.7 93.4h0.55v0.55h-0.55zM126.4 82.8h0.55v0.55h-0.55zM83.7 85.1h0.55v0.55h-0.55zM78.1 88.8h0.55v0.55h-0.55zM113.4 89.4h0.55v0.55h-0.55zM78.8 92.5h0.55v0.55h-0.55zM83.4 93.3h0.55v0.55h-0.55zM94.1 97.0h0.55v0.55h-0.55zM79.4 89.4h0.55v0.55h-0.55zM116.4 85.8h0.55v0.55h-0.55zM81.2 94.1h0.55v0.55h-0.55zM121.2 96.4h0.55v0.55h-0.55zM81.9 87.2h0.55v0.55h-0.55zM81.2 90.5h0.55v0.55h-0.55zM72.7 86.0h0.55v0.55h-0.55zM102.0 95.5h0.55v0.55h-0.55zM91.1 94.3h0.55v0.55h-0.55zM110.3 95.5h0.55v0.55h-0.55zM83.0 82.8h0.55v0.55h-0.55zM78.0 87.8h0.55v0.55h-0.55zM113.6 87.2h0.55v0.55h-0.55zM68.9 91.7h0.55v0.55h-0.55zM81.2 84.7h0.55v0.55h-0.55zM92.8 94.7h0.55v0.55h-0.55zM120.3 84.1h0.55v0.55h-0.55zM112.1 82.8h0.55v0.55h-0.55zM105.5 96.5h0.55v0.55h-0.55z"/>
<text x="58.2" y="65" font-size="6.2" stroke="#2a7d8a" stroke-width="0.3" textLength="34" lengthAdjust="spacingAndGlyphs" fill="#2a7d8a">CD45 Mono Gnl</text>
<path fill="#2f8080" fill-opacity="0.8" d="M193.2 82.1h0.6v0.6h-0.6zM186.0 94.2h0.6v0.6h-0.6zM188.0 91.5h0.6v0.6h-0.6zM187.1 86.3h0.6v0.6h-0.6zM186.9 87.6h0.6v0.6h-0.6zM185.5 84.6h0.6v0.6h-0.6zM190.2 82.6h0.6v0.6h-0.6zM187.8 85.7h0.6v0.6h-0.6zM188.2 94.4h0.6v0.6h-0.6zM192.0 77.0h0.6v0.6h-0.6zM188.4 90.9h0.6v0.6h-0.6zM196.5 89.2h0.6v0.6h-0.6zM189.5 92.9h0.6v0.6h-0.6zM193.2 86.8h0.6v0.6h-0.6zM190.4 88.2h0.6v0.6h-0.6zM186.2 74.7h0.6v0.6h-0.6zM188.9 89.3h0.6v0.6h-0.6zM189.2 88.0h0.6v0.6h-0.6zM192.6 90.4h0.6v0.6h-0.6zM190.2 88.1h0.6v0.6h-0.6zM188.2 89.5h0.6v0.6h-0.6zM186.8 94.5h0.6v0.6h-0.6zM190.5 89.0h0.6v0.6h-0.6zM197.3 92.9h0.6v0.6h-0.6zM185.1 84.9h0.6v0.6h-0.6zM189.2 86.6h0.6v0.6h-0.6zM194.5 92.7h0.6v0.6h-0.6zM193.0 94.2h0.6v0.6h-0.6zM193.0 80.3h0.6v0.6h-0.6zM184.2 84.1h0.6v0.6h-0.6zM191.5 90.1h0.6v0.6h-0.6zM196.6 95.3h0.6v0.6h-0.6zM194.7 85.8h0.6v0.6h-0.6zM189.3 93.9h0.6v0.6h-0.6zM185.3 85.8h0.6v0.6h-0.6zM184.9 79.3h0.6v0.6h-0.6zM186.2 91.6h0.6v0.6h-0.6zM191.9 90.2h0.6v0.6h-0.6zM194.4 84.8h0.6v0.6h-0.6zM188.4 96.2h0.6v0.6h-0.6zM192.3 85.0h0.6v0.6h-0.6zM184.6 89.0h0.6v0.6h-0.6zM190.1 90.4h0.6v0.6h-0.6zM188.7 89.3h0.6v0.6h-0.6zM186.9 88.5h0.6v0.6h-0.6zM186.8 82.6h0.6v0.6h-0.6zM189.8 84.9h0.6v0.6h-0.6zM186.2 91.5h0.6v0.6h-0.6zM195.9 87.0h0.6v0.6h-0.6zM188.3 85.6h0.6v0.6h-0.6zM191.9 86.0h0.6v0.6h-0.6zM196.2 92.2h0.6v0.6h-0.6zM192.3 86.7h0.6v0.6h-0.6zM186.5 81.6h0.6v0.6h-0.6zM191.5 91.7h0.6v0.6h-0.6zM185.7 88.6h0.6v0.6h-0.6zM191.2 89.0h0.6v0.6h-0.6zM187.1 96.1h0.6v0.6h-0.6zM188.3 94.5h0.6v0.6h-0.6zM189.1 87.4h0.6v0.6h-0.6zM194.3 85.8h0.6v0.6h-0.6zM190.8 91.5h0.6v0.6h-0.6zM193.8 88.6h0.6v0.6h-0.6zM188.9 87.2h0.6v0.6h-0.6zM187.4 88.2h0.6v0.6h-0.6zM186.4 88.5h0.6v0.6h-0.6zM188.3 87.6h0.6v0.6h-0.6zM188.2 84.7h0.6v0.6h-0.6zM192.5 82.4h0.6v0.6h-0.6zM197.2 81.0h0.6v0.6h-0.6zM189.1 93.7h0.6v0.6h-0.6zM191.4 92.5h0.6v0.6h-0.6zM189.4 89.4h0.6v0.6h-0.6zM185.3 90.8h0.6v0.6h-0.6zM196.4 84.6h0.6v0.6h-0.6zM190.4 86.4h0.6v0.6h-0.6zM187.2 79.6h0.6v0.6h-0.6zM187.8 90.6h0.6v0.6h-0.6zM188.9 93.5h0.6v0.6h-0.6zM189.1 84.5h0.6v0.6h-0.6zM187.6 93.2h0.6v0.6h-0.6zM192.1 80.5h0.6v0.6h-0.6zM191.5 87.4h0.6v0.6h-0.6zM191.9 89.8h0.6v0.6h-0.6zM184.6 82.3h0.6v0.6h-0.6zM189.1 89.0h0.6v0.6h-0.6zM189.9 83.2h0.6v0.6h-0.6zM194.9 77.3h0.6v0.6h-0.6zM194.6 88.0h0.6v0.6h-0.6zM189.0 89.2h0.6v0.6h-0.6zM187.4 91.6h0.6v0.6h-0.6zM191.6 96.2h0.6v0.6h-0.6zM194.0 89.0h0.6v0.6h-0.6zM187.0 86.9h0.6v0.6h-0.6zM186.6 86.8h0.6v0.6h-0.6zM187.2 90.5h0.6v0.6h-0.6zM190.0 85.4h0.6v0.6h-0.6zM190.5 78.1h0.6v0.6h-0.6zM189.0 77.5h0.6v0.6h-0.6zM187.9 91.9h0.6v0.6h-0.6zM190.1 83.4h0.6v0.6h-0.6zM188.5 88.0h0.6v0.6h-0.6zM187.0 89.4h0.6v0.6h-0.6zM186.7 84.5h0.6v0.6h-0.6zM185.4 90.8h0.6v0.6h-0.6zM185.6 81.3h0.6v0.6h-0.6zM192.3 84.9h0.6v0.6h-0.6zM186.7 85.7h0.6v0.6h-0.6zM185.8 91.6h0.6v0.6h-0.6zM191.7 93.3h0.6v0.6h-0.6zM186.7 83.0h0.6v0.6h-0.6zM187.8 79.8h0.6v0.6h-0.6zM186.1 86.4h0.6v0.6h-0.6zM189.8 95.1h0.6v0.6h-0.6zM190.9 87.4h0.6v0.6h-0.6zM189.5 83.0h0.6v0.6h-0.6zM195.0 89.8h0.6v0.6h-0.6zM191.1 86.2h0.6v0.6h-0.6zM186.2 84.0h0.6v0.6h-0.6zM186.0 86.0h0.6v0.6h-0.6zM192.5 85.3h0.6v0.6h-0.6zM191.6 92.9h0.6v0.6h-0.6zM190.8 93.0h0.6v0.6h-0.6zM187.7 95.4h0.6v0.6h-0.6zM190.8 87.3h0.6v0.6h-0.6zM189.6 90.0h0.6v0.6h-0.6zM196.2 87.1h0.6v0.6h-0.6zM190.6 86.3h0.6v0.6h-0.6zM190.6 90.8h0.6v0.6h-0.6zM190.3 88.3h0.6v0.6h-0.6zM195.4 94.3h0.6v0.6h-0.6zM191.5 86.3h0.6v0.6h-0.6zM191.3 89.9h0.6v0.6h-0.6zM193.2 91.9h0.6v0.6h-0.6zM187.2 92.1h0.6v0.6h-0.6zM196.8 92.0h0.6v0.6h-0.6zM185.6 87.2h0.6v0.6h-0.6zM193.5 95.4h0.6v0.6h-0.6zM184.1 94.6h0.6v0.6h-0.6zM185.0 89.7h0.6v0.6h-0.6zM195.1 93.4h0.6v0.6h-0.6zM188.6 85.0h0.6v0.6h-0.6zM189.8 92.2h0.6v0.6h-0.6zM186.2 88.8h0.6v0.6h-0.6zM194.8 96.0h0.6v0.6h-0.6zM190.7 96.2h0.6v0.6h-0.6zM189.5 86.5h0.6v0.6h-0.6zM187.4 84.4h0.6v0.6h-0.6zM188.1 87.8h0.6v0.6h-0.6zM198.0 94.3h0.6v0.6h-0.6zM198.5 84.6h0.6v0.6h-0.6zM192.6 87.3h0.6v0.6h-0.6zM184.4 92.3h0.6v0.6h-0.6zM187.3 93.1h0.6v0.6h-0.6zM199.8 89.9h0.6v0.6h-0.6zM189.4 86.1h0.6v0.6h-0.6zM184.0 88.2h0.6v0.6h-0.6zM186.6 90.1h0.6v0.6h-0.6zM188.4 90.9h0.6v0.6h-0.6zM191.6 95.1h0.6v0.6h-0.6zM185.4 85.4h0.6v0.6h-0.6zM195.2 93.7h0.6v0.6h-0.6zM188.4 91.5h0.6v0.6h-0.6zM184.5 89.2h0.6v0.6h-0.6zM190.4 94.8h0.6v0.6h-0.6zM187.2 93.8h0.6v0.6h-0.6zM186.8 90.1h0.6v0.6h-0.6zM188.8 88.8h0.6v0.6h-0.6zM186.7 89.8h0.6v0.6h-0.6zM189.1 91.7h0.6v0.6h-0.6zM187.3 89.8h0.6v0.6h-0.6zM193.0 88.8h0.6v0.6h-0.6zM201.1 90.9h0.6v0.6h-0.6zM195.1 88.8h0.6v0.6h-0.6zM186.4 81.8h0.6v0.6h-0.6zM186.8 90.1h0.6v0.6h-0.6zM195.0 87.8h0.6v0.6h-0.6zM188.6 90.4h0.6v0.6h-0.6zM192.6 85.2h0.6v0.6h-0.6zM190.8 86.4h0.6v0.6h-0.6zM191.3 91.6h0.6v0.6h-0.6zM187.7 84.9h0.6v0.6h-0.6zM190.3 89.6h0.6v0.6h-0.6zM189.9 93.4h0.6v0.6h-0.6zM190.4 93.7h0.6v0.6h-0.6zM190.1 89.0h0.6v0.6h-0.6zM186.7 92.8h0.6v0.6h-0.6zM190.1 95.4h0.6v0.6h-0.6zM192.3 86.9h0.6v0.6h-0.6zM190.7 89.0h0.6v0.6h-0.6zM189.3 82.8h0.6v0.6h-0.6zM190.6 89.8h0.6v0.6h-0.6zM185.2 90.7h0.6v0.6h-0.6zM191.2 83.9h0.6v0.6h-0.6zM185.5 90.5h0.6v0.6h-0.6zM192.6 90.7h0.6v0.6h-0.6zM191.7 84.4h0.6v0.6h-0.6zM193.6 94.5h0.6v0.6h-0.6zM186.5 90.3h0.6v0.6h-0.6zM192.3 91.4h0.6v0.6h-0.6zM187.9 88.2h0.6v0.6h-0.6zM192.1 94.7h0.6v0.6h-0.6zM190.6 91.8h0.6v0.6h-0.6zM192.9 88.3h0.6v0.6h-0.6zM186.9 91.0h0.6v0.6h-0.6zM188.1 86.5h0.6v0.6h-0.6zM186.7 82.5h0.6v0.6h-0.6zM190.1 84.7h0.6v0.6h-0.6zM186.6 87.6h0.6v0.6h-0.6zM185.0 91.6h0.6v0.6h-0.6zM192.8 83.8h0.6v0.6h-0.6zM188.2 88.0h0.6v0.6h-0.6zM188.6 89.4h0.6v0.6h-0.6zM190.8 86.0h0.6v0.6h-0.6zM192.3 80.0h0.6v0.6h-0.6zM185.7 93.4h0.6v0.6h-0.6zM188.0 90.7h0.6v0.6h-0.6zM185.4 85.5h0.6v0.6h-0.6zM186.8 85.7h0.6v0.6h-0.6zM190.6 79.9h0.6v0.6h-0.6zM191.1 88.8h0.6v0.6h-0.6zM195.0 81.8h0.6v0.6h-0.6zM191.9 87.2h0.6v0.6h-0.6zM186.9 93.1h0.6v0.6h-0.6zM192.8 82.6h0.6v0.6h-0.6zM192.6 87.7h0.6v0.6h-0.6zM188.0 86.7h0.6v0.6h-0.6zM189.2 86.2h0.6v0.6h-0.6zM189.9 77.5h0.6v0.6h-0.6zM192.9 90.3h0.6v0.6h-0.6zM187.4 90.8h0.6v0.6h-0.6zM188.7 91.8h0.6v0.6h-0.6zM193.4 91.1h0.6v0.6h-0.6zM189.7 92.1h0.6v0.6h-0.6zM186.5 88.2h0.6v0.6h-0.6zM188.6 91.5h0.6v0.6h-0.6zM192.1 90.6h0.6v0.6h-0.6zM190.4 93.0h0.6v0.6h-0.6zM193.6 92.1h0.6v0.6h-0.6zM188.1 92.8h0.6v0.6h-0.6zM187.2 90.0h0.6v0.6h-0.6zM194.8 82.0h0.6v0.6h-0.6zM185.1 78.3h0.6v0.6h-0.6zM196.3 89.4h0.6v0.6h-0.6zM191.0 89.9h0.6v0.6h-0.6zM188.7 84.5h0.6v0.6h-0.6zM190.0 84.1h0.6v0.6h-0.6zM191.5 96.0h0.6v0.6h-0.6zM197.6 84.3h0.6v0.6h-0.6zM187.7 84.3h0.6v0.6h-0.6zM188.5 93.1h0.6v0.6h-0.6zM193.6 84.2h0.6v0.6h-0.6zM191.5 87.5h0.6v0.6h-0.6zM190.0 93.3h0.6v0.6h-0.6zM192.8 93.0h0.6v0.6h-0.6zM190.3 89.9h0.6v0.6h-0.6zM190.2 91.5h0.6v0.6h-0.6zM188.9 90.8h0.6v0.6h-0.6zM189.8 95.1h0.6v0.6h-0.6zM185.7 86.9h0.6v0.6h-0.6zM189.6 88.3h0.6v0.6h-0.6zM194.8 80.9h0.6v0.6h-0.6zM184.3 94.9h0.6v0.6h-0.6zM188.9 86.8h0.6v0.6h-0.6zM190.6 83.6h0.6v0.6h-0.6zM188.5 89.6h0.6v0.6h-0.6zM192.2 95.6h0.6v0.6h-0.6zM191.2 88.4h0.6v0.6h-0.6zM191.0 83.0h0.6v0.6h-0.6zM186.5 85.0h0.6v0.6h-0.6zM185.3 81.9h0.6v0.6h-0.6zM185.5 95.5h0.6v0.6h-0.6zM193.8 89.8h0.6v0.6h-0.6zM191.6 79.9h0.6v0.6h-0.6zM185.8 89.9h0.6v0.6h-0.6zM185.2 81.8h0.6v0.6h-0.6zM186.3 92.1h0.6v0.6h-0.6zM194.5 83.6h0.6v0.6h-0.6zM194.1 82.5h0.6v0.6h-0.6zM189.5 88.2h0.6v0.6h-0.6zM192.0 88.7h0.6v0.6h-0.6zM193.0 85.4h0.6v0.6h-0.6zM190.7 95.3h0.6v0.6h-0.6zM185.2 82.9h0.6v0.6h-0.6zM188.2 87.6h0.6v0.6h-0.6zM187.3 95.3h0.6v0.6h-0.6zM190.6 84.0h0.6v0.6h-0.6zM186.7 90.7h0.6v0.6h-0.6zM184.7 90.4h0.6v0.6h-0.6zM185.4 88.4h0.6v0.6h-0.6zM190.1 81.8h0.6v0.6h-0.6zM187.5 86.8h0.6v0.6h-0.6zM189.6 92.1h0.6v0.6h-0.6zM188.9 82.2h0.6v0.6h-0.6zM187.6 84.3h0.6v0.6h-0.6zM188.4 93.1h0.6v0.6h-0.6zM192.5 94.0h0.6v0.6h-0.6zM186.1 80.7h0.6v0.6h-0.6zM185.6 88.5h0.6v0.6h-0.6zM187.0 83.0h0.6v0.6h-0.6zM188.9 94.4h0.6v0.6h-0.6zM188.0 90.5h0.6v0.6h-0.6zM196.9 86.0h0.6v0.6h-0.6zM192.2 81.8h0.6v0.6h-0.6zM186.1 87.9h0.6v0.6h-0.6zM193.3 89.4h0.6v0.6h-0.6zM187.5 91.8h0.6v0.6h-0.6zM195.0 95.7h0.6v0.6h-0.6zM186.2 91.8h0.6v0.6h-0.6zM187.3 92.2h0.6v0.6h-0.6zM193.5 83.6h0.6v0.6h-0.6zM197.4 79.9h0.6v0.6h-0.6zM190.0 80.6h0.6v0.6h-0.6zM187.5 96.2h0.6v0.6h-0.6zM188.2 84.3h0.6v0.6h-0.6zM193.2 84.4h0.6v0.6h-0.6zM189.5 88.5h0.6v0.6h-0.6zM193.0 86.1h0.6v0.6h-0.6zM191.5 89.3h0.6v0.6h-0.6zM187.3 82.8h0.6v0.6h-0.6zM194.0 91.8h0.6v0.6h-0.6zM186.2 86.3h0.6v0.6h-0.6zM196.3 87.5h0.6v0.6h-0.6zM194.5 88.2h0.6v0.6h-0.6zM188.9 86.7h0.6v0.6h-0.6zM191.7 91.3h0.6v0.6h-0.6zM188.0 86.4h0.6v0.6h-0.6zM193.9 85.4h0.6v0.6h-0.6zM188.8 90.2h0.6v0.6h-0.6zM192.9 81.3h0.6v0.6h-0.6zM185.9 77.5h0.6v0.6h-0.6zM191.5 90.2h0.6v0.6h-0.6zM191.6 90.3h0.6v0.6h-0.6zM187.0 91.6h0.6v0.6h-0.6zM185.4 84.4h0.6v0.6h-0.6zM188.1 93.6h0.6v0.6h-0.6zM186.6 81.3h0.6v0.6h-0.6zM189.9 84.6h0.6v0.6h-0.6zM191.8 92.8h0.6v0.6h-0.6zM185.5 91.1h0.6v0.6h-0.6zM187.2 89.9h0.6v0.6h-0.6zM187.4 88.0h0.6v0.6h-0.6zM190.5 95.5h0.6v0.6h-0.6zM187.7 92.3h0.6v0.6h-0.6zM195.1 84.8h0.6v0.6h-0.6zM193.4 87.2h0.6v0.6h-0.6zM190.6 90.9h0.6v0.6h-0.6zM188.3 95.8h0.6v0.6h-0.6zM194.0 89.4h0.6v0.6h-0.6zM189.1 89.0h0.6v0.6h-0.6zM191.4 91.3h0.6v0.6h-0.6zM184.1 92.0h0.6v0.6h-0.6zM191.2 87.1h0.6v0.6h-0.6zM186.4 80.7h0.6v0.6h-0.6zM190.5 85.5h0.6v0.6h-0.6zM192.0 80.2h0.6v0.6h-0.6zM187.1 88.6h0.6v0.6h-0.6zM185.5 94.0h0.6v0.6h-0.6zM189.2 89.2h0.6v0.6h-0.6zM186.4 83.5h0.6v0.6h-0.6zM188.7 91.0h0.6v0.6h-0.6zM190.8 84.1h0.6v0.6h-0.6zM191.9 85.9h0.6v0.6h-0.6zM191.5 93.7h0.6v0.6h-0.6zM184.7 74.5h0.6v0.6h-0.6zM195.7 93.1h0.6v0.6h-0.6zM192.8 63.4h0.6v0.6h-0.6zM189.4 65.2h0.6v0.6h-0.6zM195.2 59.4h0.6v0.6h-0.6zM194.2 59.0h0.6v0.6h-0.6zM195.2 63.1h0.6v0.6h-0.6zM195.9 65.4h0.6v0.6h-0.6zM187.6 60.4h0.6v0.6h-0.6zM193.2 65.8h0.6v0.6h-0.6zM197.0 60.0h0.6v0.6h-0.6zM192.5 71.7h0.6v0.6h-0.6zM193.3 60.9h0.6v0.6h-0.6zM187.2 65.3h0.6v0.6h-0.6zM196.0 61.4h0.6v0.6h-0.6zM195.8 67.6h0.6v0.6h-0.6zM197.8 66.2h0.6v0.6h-0.6zM192.2 61.6h0.6v0.6h-0.6zM196.1 59.5h0.6v0.6h-0.6zM198.1 66.1h0.6v0.6h-0.6zM192.2 58.0h0.6v0.6h-0.6zM190.3 59.0h0.6v0.6h-0.6zM189.6 65.5h0.6v0.6h-0.6zM200.5 60.5h0.6v0.6h-0.6zM190.3 70.8h0.6v0.6h-0.6zM193.4 65.1h0.6v0.6h-0.6zM190.8 69.2h0.6v0.6h-0.6zM193.4 66.5h0.6v0.6h-0.6zM195.8 69.1h0.6v0.6h-0.6zM194.4 62.1h0.6v0.6h-0.6zM194.9 63.8h0.6v0.6h-0.6zM187.3 62.0h0.6v0.6h-0.6zM188.1 63.4h0.6v0.6h-0.6zM191.5 62.8h0.6v0.6h-0.6zM187.6 65.7h0.6v0.6h-0.6zM193.6 67.4h0.6v0.6h-0.6zM189.1 62.3h0.6v0.6h-0.6zM190.8 65.4h0.6v0.6h-0.6zM190.7 65.7h0.6v0.6h-0.6zM189.4 65.4h0.6v0.6h-0.6zM193.5 63.7h0.6v0.6h-0.6zM192.4 63.6h0.6v0.6h-0.6zM196.1 67.3h0.6v0.6h-0.6zM196.0 64.4h0.6v0.6h-0.6zM191.3 61.9h0.6v0.6h-0.6zM192.2 63.7h0.6v0.6h-0.6zM191.1 59.9h0.6v0.6h-0.6zM189.5 66.4h0.6v0.6h-0.6zM190.7 63.7h0.6v0.6h-0.6zM191.5 64.8h0.6v0.6h-0.6zM192.1 67.5h0.6v0.6h-0.6zM193.6 60.1h0.6v0.6h-0.6zM192.9 60.2h0.6v0.6h-0.6zM191.7 66.7h0.6v0.6h-0.6zM188.4 65.6h0.6v0.6h-0.6zM192.7 67.2h0.6v0.6h-0.6zM192.9 66.9h0.6v0.6h-0.6zM193.3 67.6h0.6v0.6h-0.6zM193.7 61.4h0.6v0.6h-0.6zM193.5 63.9h0.6v0.6h-0.6zM198.6 61.2h0.6v0.6h-0.6zM187.9 67.9h0.6v0.6h-0.6zM190.9 58.3h0.6v0.6h-0.6zM189.9 61.3h0.6v0.6h-0.6zM191.5 71.0h0.6v0.6h-0.6zM192.1 65.8h0.6v0.6h-0.6zM194.5 61.9h0.6v0.6h-0.6zM187.2 69.9h0.6v0.6h-0.6zM191.3 61.0h0.6v0.6h-0.6zM194.7 61.0h0.6v0.6h-0.6zM191.1 66.9h0.6v0.6h-0.6zM191.3 64.4h0.6v0.6h-0.6zM191.6 68.6h0.6v0.6h-0.6zM187.7 54.7h0.6v0.6h-0.6zM193.2 62.7h0.6v0.6h-0.6zM202.1 64.1h0.6v0.6h-0.6zM193.2 66.3h0.6v0.6h-0.6zM193.9 65.8h0.6v0.6h-0.6zM189.9 62.8h0.6v0.6h-0.6zM197.7 59.9h0.6v0.6h-0.6zM191.7 65.0h0.6v0.6h-0.6zM195.4 64.0h0.6v0.6h-0.6zM195.1 66.5h0.6v0.6h-0.6zM193.3 61.5h0.6v0.6h-0.6zM194.5 62.0h0.6v0.6h-0.6zM191.2 68.0h0.6v0.6h-0.6zM194.6 60.3h0.6v0.6h-0.6zM187.3 61.3h0.6v0.6h-0.6zM193.8 65.8h0.6v0.6h-0.6zM192.9 70.5h0.6v0.6h-0.6zM192.6 60.6h0.6v0.6h-0.6zM192.7 66.9h0.6v0.6h-0.6zM194.4 65.0h0.6v0.6h-0.6zM197.3 67.3h0.6v0.6h-0.6zM198.1 62.6h0.6v0.6h-0.6zM194.4 64.9h0.6v0.6h-0.6zM193.7 70.2h0.6v0.6h-0.6zM194.9 65.8h0.6v0.6h-0.6zM189.5 63.3h0.6v0.6h-0.6zM195.1 64.8h0.6v0.6h-0.6zM190.2 66.4h0.6v0.6h-0.6zM193.3 67.8h0.6v0.6h-0.6zM192.3 77.7h0.6v0.6h-0.6zM187.5 72.0h0.6v0.6h-0.6zM193.1 84.5h0.6v0.6h-0.6zM192.6 76.5h0.6v0.6h-0.6zM189.3 81.7h0.6v0.6h-0.6zM191.6 74.6h0.6v0.6h-0.6zM191.9 73.0h0.6v0.6h-0.6zM192.7 75.2h0.6v0.6h-0.6zM190.1 69.8h0.6v0.6h-0.6zM187.1 73.3h0.6v0.6h-0.6zM190.3 74.3h0.6v0.6h-0.6zM197.1 67.4h0.6v0.6h-0.6zM189.6 72.9h0.6v0.6h-0.6zM191.1 73.2h0.6v0.6h-0.6zM187.7 74.8h0.6v0.6h-0.6zM189.3 81.5h0.6v0.6h-0.6zM189.0 75.8h0.6v0.6h-0.6zM193.1 75.7h0.6v0.6h-0.6zM189.6 73.9h0.6v0.6h-0.6zM189.5 71.2h0.6v0.6h-0.6zM190.4 79.8h0.6v0.6h-0.6zM194.8 71.2h0.6v0.6h-0.6zM192.9 74.2h0.6v0.6h-0.6zM189.7 73.3h0.6v0.6h-0.6zM192.9 71.1h0.6v0.6h-0.6zM187.4 78.4h0.6v0.6h-0.6zM184.6 72.4h0.6v0.6h-0.6zM191.5 74.0h0.6v0.6h-0.6zM189.2 80.6h0.6v0.6h-0.6zM194.4 75.4h0.6v0.6h-0.6zM193.4 74.1h0.6v0.6h-0.6zM189.2 78.5h0.6v0.6h-0.6zM194.6 70.2h0.6v0.6h-0.6zM195.1 81.5h0.6v0.6h-0.6zM193.4 70.5h0.6v0.6h-0.6zM192.7 72.2h0.6v0.6h-0.6zM194.3 74.4h0.6v0.6h-0.6zM190.1 71.4h0.6v0.6h-0.6zM190.1 75.0h0.6v0.6h-0.6zM186.0 72.3h0.6v0.6h-0.6zM187.2 77.9h0.6v0.6h-0.6zM190.8 72.6h0.6v0.6h-0.6zM193.6 74.7h0.6v0.6h-0.6zM189.5 72.9h0.6v0.6h-0.6zM193.9 74.7h0.6v0.6h-0.6zM184.8 72.1h0.6v0.6h-0.6zM189.4 66.2h0.6v0.6h-0.6zM193.2 78.7h0.6v0.6h-0.6zM187.3 77.9h0.6v0.6h-0.6zM191.8 75.0h0.6v0.6h-0.6zM187.5 80.6h0.6v0.6h-0.6zM191.3 71.7h0.6v0.6h-0.6zM192.8 74.7h0.6v0.6h-0.6zM187.5 76.7h0.6v0.6h-0.6zM191.4 67.5h0.6v0.6h-0.6zM190.1 75.6h0.6v0.6h-0.6zM193.0 78.2h0.6v0.6h-0.6zM190.7 75.2h0.6v0.6h-0.6zM186.7 73.8h0.6v0.6h-0.6zM207.4 65.1h0.6v0.6h-0.6zM215.0 60.2h0.6v0.6h-0.6zM201.6 63.3h0.6v0.6h-0.6zM214.3 61.3h0.6v0.6h-0.6zM204.6 64.5h0.6v0.6h-0.6zM206.9 62.4h0.6v0.6h-0.6zM209.5 64.7h0.6v0.6h-0.6zM204.8 66.4h0.6v0.6h-0.6zM211.5 69.6h0.6v0.6h-0.6zM206.1 54.6h0.6v0.6h-0.6zM209.7 57.2h0.6v0.6h-0.6zM210.2 55.2h0.6v0.6h-0.6zM213.3 62.4h0.6v0.6h-0.6zM212.9 61.7h0.6v0.6h-0.6zM204.7 65.8h0.6v0.6h-0.6zM215.1 67.4h0.6v0.6h-0.6zM208.1 62.7h0.6v0.6h-0.6zM212.4 60.2h0.6v0.6h-0.6zM210.3 62.6h0.6v0.6h-0.6zM213.8 55.7h0.6v0.6h-0.6zM216.2 62.4h0.6v0.6h-0.6zM210.6 60.4h0.6v0.6h-0.6zM214.5 64.6h0.6v0.6h-0.6zM210.7 65.7h0.6v0.6h-0.6zM208.1 65.2h0.6v0.6h-0.6zM203.2 87.8h0.6v0.6h-0.6zM216.5 86.6h0.6v0.6h-0.6zM203.7 88.6h0.6v0.6h-0.6zM208.5 91.9h0.6v0.6h-0.6zM208.1 89.6h0.6v0.6h-0.6zM199.7 91.1h0.6v0.6h-0.6zM212.0 85.5h0.6v0.6h-0.6zM210.8 92.3h0.6v0.6h-0.6zM213.0 92.0h0.6v0.6h-0.6zM203.9 89.0h0.6v0.6h-0.6zM204.5 86.6h0.6v0.6h-0.6zM213.2 80.1h0.6v0.6h-0.6zM196.6 87.0h0.6v0.6h-0.6zM211.5 85.1h0.6v0.6h-0.6zM211.5 86.7h0.6v0.6h-0.6zM207.2 89.4h0.6v0.6h-0.6zM209.5 92.3h0.6v0.6h-0.6zM206.8 85.3h0.6v0.6h-0.6zM200.6 95.2h0.6v0.6h-0.6zM209.6 94.5h0.6v0.6h-0.6zM204.4 92.5h0.6v0.6h-0.6zM212.4 95.4h0.6v0.6h-0.6zM207.6 95.7h0.6v0.6h-0.6zM201.4 88.7h0.6v0.6h-0.6zM202.9 83.9h0.6v0.6h-0.6zM208.3 94.0h0.6v0.6h-0.6zM204.1 87.4h0.6v0.6h-0.6zM204.9 87.2h0.6v0.6h-0.6zM211.9 94.3h0.6v0.6h-0.6zM200.3 91.9h0.6v0.6h-0.6zM209.9 87.5h0.6v0.6h-0.6zM199.1 88.7h0.6v0.6h-0.6zM201.4 91.4h0.6v0.6h-0.6zM209.6 96.0h0.6v0.6h-0.6zM204.9 90.5h0.6v0.6h-0.6zM206.0 91.6h0.6v0.6h-0.6zM204.6 87.3h0.6v0.6h-0.6zM202.1 89.7h0.6v0.6h-0.6zM200.7 79.5h0.6v0.6h-0.6zM239.7 73.4h0.6v0.6h-0.6zM235.4 76.3h0.6v0.6h-0.6zM226.1 74.0h0.6v0.6h-0.6zM238.1 73.7h0.6v0.6h-0.6zM239.6 36.0h0.6v0.6h-0.6zM234.7 37.8h0.6v0.6h-0.6zM222.9 76.4h0.6v0.6h-0.6z"/>
<path fill="#3a8a8a" fill-opacity="0.65" d="M325.9 60.2h0.6v0.6h-0.6zM319.6 69.5h0.6v0.6h-0.6zM325.3 66.9h0.6v0.6h-0.6zM310.6 68.5h0.6v0.6h-0.6zM315.8 79.1h0.6v0.6h-0.6zM312.6 67.6h0.6v0.6h-0.6zM314.0 88.7h0.6v0.6h-0.6zM313.6 67.5h0.6v0.6h-0.6zM312.5 89.2h0.6v0.6h-0.6zM313.5 87.1h0.6v0.6h-0.6zM318.1 81.7h0.6v0.6h-0.6zM322.1 60.6h0.6v0.6h-0.6zM316.0 81.2h0.6v0.6h-0.6zM312.8 50.8h0.6v0.6h-0.6zM319.7 76.8h0.6v0.6h-0.6zM313.3 81.6h0.6v0.6h-0.6zM313.6 75.5h0.6v0.6h-0.6zM320.6 65.2h0.6v0.6h-0.6zM317.7 75.5h0.6v0.6h-0.6zM312.1 87.7h0.6v0.6h-0.6zM310.3 88.1h0.6v0.6h-0.6zM319.5 63.4h0.6v0.6h-0.6zM324.6 71.9h0.6v0.6h-0.6zM310.5 83.4h0.6v0.6h-0.6zM315.2 70.6h0.6v0.6h-0.6zM313.0 51.6h0.6v0.6h-0.6zM318.7 81.3h0.6v0.6h-0.6zM310.8 91.8h0.6v0.6h-0.6zM327.5 48.0h0.6v0.6h-0.6zM318.2 87.4h0.6v0.6h-0.6zM325.7 67.0h0.6v0.6h-0.6zM325.0 50.2h0.6v0.6h-0.6zM313.0 76.1h0.6v0.6h-0.6zM310.3 56.2h0.6v0.6h-0.6zM312.8 68.1h0.6v0.6h-0.6zM321.5 69.5h0.6v0.6h-0.6zM316.7 56.5h0.6v0.6h-0.6zM316.0 68.3h0.6v0.6h-0.6zM332.2 47.4h0.6v0.6h-0.6zM310.2 52.1h0.6v0.6h-0.6zM313.8 85.1h0.6v0.6h-0.6zM311.8 92.6h0.6v0.6h-0.6zM313.3 79.8h0.6v0.6h-0.6zM310.5 55.5h0.6v0.6h-0.6zM310.9 74.4h0.6v0.6h-0.6zM314.5 79.1h0.6v0.6h-0.6zM320.0 71.8h0.6v0.6h-0.6zM311.7 91.8h0.6v0.6h-0.6zM312.0 75.6h0.6v0.6h-0.6zM326.2 58.7h0.6v0.6h-0.6zM313.2 79.1h0.6v0.6h-0.6zM311.8 81.2h0.6v0.6h-0.6zM315.3 49.3h0.6v0.6h-0.6zM311.6 57.8h0.6v0.6h-0.6zM326.2 62.7h0.6v0.6h-0.6zM311.2 85.9h0.6v0.6h-0.6zM317.6 63.4h0.6v0.6h-0.6zM318.4 67.8h0.6v0.6h-0.6zM320.9 51.5h0.6v0.6h-0.6zM318.3 88.9h0.6v0.6h-0.6zM311.3 90.5h0.6v0.6h-0.6zM324.2 49.3h0.6v0.6h-0.6zM326.1 68.4h0.6v0.6h-0.6zM312.5 67.5h0.6v0.6h-0.6zM312.9 74.5h0.6v0.6h-0.6zM317.5 61.3h0.6v0.6h-0.6zM316.6 68.3h0.6v0.6h-0.6zM317.8 61.0h0.6v0.6h-0.6zM311.2 58.7h0.6v0.6h-0.6zM321.8 58.8h0.6v0.6h-0.6zM322.9 55.3h0.6v0.6h-0.6zM321.3 67.8h0.6v0.6h-0.6zM326.1 51.8h0.6v0.6h-0.6zM326.2 62.8h0.6v0.6h-0.6zM319.3 79.1h0.6v0.6h-0.6zM311.8 77.8h0.6v0.6h-0.6zM317.3 83.3h0.6v0.6h-0.6zM318.4 55.0h0.6v0.6h-0.6zM317.7 88.2h0.6v0.6h-0.6zM318.8 86.5h0.6v0.6h-0.6zM319.9 80.5h0.6v0.6h-0.6zM314.9 85.8h0.6v0.6h-0.6zM312.4 62.3h0.6v0.6h-0.6zM324.9 69.2h0.6v0.6h-0.6zM327.7 57.6h0.6v0.6h-0.6zM319.1 70.2h0.6v0.6h-0.6zM314.0 67.5h0.6v0.6h-0.6zM315.1 88.7h0.6v0.6h-0.6zM320.3 51.8h0.6v0.6h-0.6zM311.3 81.2h0.6v0.6h-0.6zM312.4 49.6h0.6v0.6h-0.6zM312.3 71.7h0.6v0.6h-0.6zM318.6 81.2h0.6v0.6h-0.6zM311.0 81.9h0.6v0.6h-0.6zM313.5 86.1h0.6v0.6h-0.6zM323.3 64.3h0.6v0.6h-0.6zM311.4 88.9h0.6v0.6h-0.6zM318.3 66.6h0.6v0.6h-0.6zM323.3 60.9h0.6v0.6h-0.6zM314.3 92.8h0.6v0.6h-0.6zM321.6 77.7h0.6v0.6h-0.6zM325.7 57.0h0.6v0.6h-0.6zM311.2 61.6h0.6v0.6h-0.6zM323.8 57.9h0.6v0.6h-0.6zM326.8 58.9h0.6v0.6h-0.6zM314.7 69.0h0.6v0.6h-0.6zM315.9 88.3h0.6v0.6h-0.6zM312.3 79.9h0.6v0.6h-0.6zM311.1 51.4h0.6v0.6h-0.6zM310.7 87.2h0.6v0.6h-0.6zM316.4 60.0h0.6v0.6h-0.6zM320.0 66.5h0.6v0.6h-0.6zM322.6 57.8h0.6v0.6h-0.6zM310.6 84.4h0.6v0.6h-0.6zM320.2 73.1h0.6v0.6h-0.6zM313.1 67.0h0.6v0.6h-0.6zM313.5 63.8h0.6v0.6h-0.6zM317.5 81.3h0.6v0.6h-0.6zM315.4 84.6h0.6v0.6h-0.6zM310.7 91.8h0.6v0.6h-0.6zM311.4 76.9h0.6v0.6h-0.6zM313.6 69.1h0.6v0.6h-0.6zM325.5 62.0h0.6v0.6h-0.6zM314.6 85.6h0.6v0.6h-0.6zM311.3 81.0h0.6v0.6h-0.6zM311.2 51.9h0.6v0.6h-0.6zM315.7 59.6h0.6v0.6h-0.6zM311.7 70.3h0.6v0.6h-0.6zM314.2 90.6h0.6v0.6h-0.6zM315.4 90.0h0.6v0.6h-0.6zM310.8 74.0h0.6v0.6h-0.6zM318.5 56.0h0.6v0.6h-0.6zM326.6 65.0h0.6v0.6h-0.6zM329.0 56.7h0.6v0.6h-0.6zM314.3 91.3h0.6v0.6h-0.6zM311.9 77.3h0.6v0.6h-0.6zM323.9 49.9h0.6v0.6h-0.6zM314.7 86.4h0.6v0.6h-0.6zM315.2 49.8h0.6v0.6h-0.6zM310.3 69.5h0.6v0.6h-0.6zM318.4 75.7h0.6v0.6h-0.6zM312.8 84.2h0.6v0.6h-0.6zM323.7 53.1h0.6v0.6h-0.6zM318.2 63.2h0.6v0.6h-0.6zM320.8 76.0h0.6v0.6h-0.6zM316.0 80.1h0.6v0.6h-0.6zM314.4 86.9h0.6v0.6h-0.6zM315.7 91.3h0.6v0.6h-0.6zM313.8 87.8h0.6v0.6h-0.6zM313.3 65.8h0.6v0.6h-0.6zM319.4 72.1h0.6v0.6h-0.6zM321.6 61.9h0.6v0.6h-0.6zM314.9 77.1h0.6v0.6h-0.6zM320.8 76.3h0.6v0.6h-0.6zM318.9 61.1h0.6v0.6h-0.6zM318.3 82.1h0.6v0.6h-0.6zM310.8 83.2h0.6v0.6h-0.6zM318.6 85.9h0.6v0.6h-0.6zM316.6 79.0h0.6v0.6h-0.6zM311.5 69.5h0.6v0.6h-0.6zM313.0 49.7h0.6v0.6h-0.6zM311.9 58.4h0.6v0.6h-0.6zM315.6 87.0h0.6v0.6h-0.6zM311.1 71.1h0.6v0.6h-0.6zM316.9 82.1h0.6v0.6h-0.6zM318.0 51.9h0.6v0.6h-0.6zM310.5 75.1h0.6v0.6h-0.6zM323.4 67.0h0.6v0.6h-0.6zM316.5 76.8h0.6v0.6h-0.6zM326.2 58.5h0.6v0.6h-0.6zM317.1 79.7h0.6v0.6h-0.6zM323.8 61.9h0.6v0.6h-0.6zM319.5 53.7h0.6v0.6h-0.6zM315.7 52.4h0.6v0.6h-0.6zM311.9 77.7h0.6v0.6h-0.6zM318.1 80.1h0.6v0.6h-0.6zM321.2 56.3h0.6v0.6h-0.6zM327.7 54.0h0.6v0.6h-0.6zM311.4 79.1h0.6v0.6h-0.6zM310.9 65.2h0.6v0.6h-0.6zM313.9 67.3h0.6v0.6h-0.6zM312.2 75.8h0.6v0.6h-0.6zM318.0 75.0h0.6v0.6h-0.6zM314.1 57.3h0.6v0.6h-0.6zM313.0 92.7h0.6v0.6h-0.6zM313.0 75.5h0.6v0.6h-0.6zM318.0 74.5h0.6v0.6h-0.6zM314.3 85.1h0.6v0.6h-0.6zM321.4 71.0h0.6v0.6h-0.6zM320.1 50.7h0.6v0.6h-0.6zM320.3 67.7h0.6v0.6h-0.6zM321.7 69.5h0.6v0.6h-0.6zM311.8 88.9h0.6v0.6h-0.6zM312.5 92.1h0.6v0.6h-0.6zM313.0 81.9h0.6v0.6h-0.6zM312.4 87.6h0.6v0.6h-0.6zM310.7 71.8h0.6v0.6h-0.6zM313.7 49.8h0.6v0.6h-0.6zM315.9 85.1h0.6v0.6h-0.6zM324.3 72.1h0.6v0.6h-0.6zM312.4 79.5h0.6v0.6h-0.6zM324.1 65.8h0.6v0.6h-0.6zM316.2 87.0h0.6v0.6h-0.6zM315.8 58.0h0.6v0.6h-0.6zM311.7 74.0h0.6v0.6h-0.6zM312.0 83.4h0.6v0.6h-0.6zM314.0 81.4h0.6v0.6h-0.6zM319.9 64.4h0.6v0.6h-0.6zM310.4 50.6h0.6v0.6h-0.6zM316.5 65.8h0.6v0.6h-0.6zM315.8 67.2h0.6v0.6h-0.6zM318.6 63.4h0.6v0.6h-0.6zM324.8 50.1h0.6v0.6h-0.6zM311.5 71.5h0.6v0.6h-0.6zM312.4 75.9h0.6v0.6h-0.6zM315.3 58.1h0.6v0.6h-0.6zM330.0 54.9h0.6v0.6h-0.6zM318.6 57.6h0.6v0.6h-0.6zM318.3 65.1h0.6v0.6h-0.6zM311.0 86.4h0.6v0.6h-0.6zM316.5 76.6h0.6v0.6h-0.6zM324.1 48.9h0.6v0.6h-0.6zM313.3 84.5h0.6v0.6h-0.6zM328.7 50.2h0.6v0.6h-0.6zM312.4 76.1h0.6v0.6h-0.6zM313.4 92.8h0.6v0.6h-0.6zM315.0 67.5h0.6v0.6h-0.6zM318.6 85.4h0.6v0.6h-0.6zM311.5 67.9h0.6v0.6h-0.6zM314.7 52.3h0.6v0.6h-0.6zM314.0 71.9h0.6v0.6h-0.6zM314.7 86.6h0.6v0.6h-0.6zM320.4 82.4h0.6v0.6h-0.6zM313.5 79.3h0.6v0.6h-0.6zM311.7 58.2h0.6v0.6h-0.6zM313.3 84.2h0.6v0.6h-0.6zM313.0 91.4h0.6v0.6h-0.6zM315.1 78.5h0.6v0.6h-0.6zM319.3 83.4h0.6v0.6h-0.6zM318.9 84.1h0.6v0.6h-0.6zM310.8 66.4h0.6v0.6h-0.6zM311.1 63.3h0.6v0.6h-0.6zM311.5 72.9h0.6v0.6h-0.6zM312.6 58.2h0.6v0.6h-0.6zM311.7 65.4h0.6v0.6h-0.6zM314.6 77.1h0.6v0.6h-0.6zM321.2 83.3h0.6v0.6h-0.6zM321.8 64.1h0.6v0.6h-0.6zM316.9 74.2h0.6v0.6h-0.6zM310.5 90.8h0.6v0.6h-0.6zM322.4 71.7h0.6v0.6h-0.6zM312.7 50.7h0.6v0.6h-0.6zM319.5 69.3h0.6v0.6h-0.6zM321.7 62.6h0.6v0.6h-0.6zM321.3 75.5h0.6v0.6h-0.6zM314.2 89.9h0.6v0.6h-0.6zM313.1 85.2h0.6v0.6h-0.6zM317.8 70.7h0.6v0.6h-0.6zM317.8 60.0h0.6v0.6h-0.6zM320.7 60.9h0.6v0.6h-0.6zM313.7 59.3h0.6v0.6h-0.6zM316.3 71.5h0.6v0.6h-0.6zM319.0 73.0h0.6v0.6h-0.6zM314.8 85.2h0.6v0.6h-0.6zM320.9 75.8h0.6v0.6h-0.6zM315.7 76.3h0.6v0.6h-0.6zM312.3 85.3h0.6v0.6h-0.6zM316.4 81.5h0.6v0.6h-0.6zM322.2 60.9h0.6v0.6h-0.6zM322.2 49.9h0.6v0.6h-0.6zM320.5 71.8h0.6v0.6h-0.6zM320.9 68.9h0.6v0.6h-0.6zM315.8 47.2h0.6v0.6h-0.6zM326.5 55.8h0.6v0.6h-0.6zM320.5 74.7h0.6v0.6h-0.6zM315.3 69.9h0.6v0.6h-0.6zM310.9 87.4h0.6v0.6h-0.6zM312.1 55.1h0.6v0.6h-0.6zM313.2 92.6h0.6v0.6h-0.6zM316.9 77.4h0.6v0.6h-0.6zM317.7 51.7h0.6v0.6h-0.6zM315.8 86.0h0.6v0.6h-0.6zM311.8 48.8h0.6v0.6h-0.6zM317.0 55.2h0.6v0.6h-0.6zM311.5 89.7h0.6v0.6h-0.6zM315.1 53.1h0.6v0.6h-0.6zM313.8 62.1h0.6v0.6h-0.6zM314.1 70.4h0.6v0.6h-0.6zM316.6 61.4h0.6v0.6h-0.6zM310.5 92.8h0.6v0.6h-0.6zM325.8 58.9h0.6v0.6h-0.6zM324.3 55.6h0.6v0.6h-0.6zM312.2 79.3h0.6v0.6h-0.6zM318.4 56.1h0.6v0.6h-0.6zM314.8 65.7h0.6v0.6h-0.6zM320.4 71.0h0.6v0.6h-0.6zM316.5 83.0h0.6v0.6h-0.6zM316.7 57.6h0.6v0.6h-0.6zM310.9 60.1h0.6v0.6h-0.6zM318.9 56.6h0.6v0.6h-0.6zM318.2 91.8h0.6v0.6h-0.6zM313.9 81.0h0.6v0.6h-0.6zM328.1 60.7h0.6v0.6h-0.6zM316.1 76.5h0.6v0.6h-0.6zM314.1 83.3h0.6v0.6h-0.6zM328.0 51.9h0.6v0.6h-0.6zM321.4 56.0h0.6v0.6h-0.6zM314.0 85.0h0.6v0.6h-0.6zM328.8 51.0h0.6v0.6h-0.6zM310.9 92.2h0.6v0.6h-0.6zM313.0 80.2h0.6v0.6h-0.6zM325.8 47.8h0.6v0.6h-0.6zM312.7 81.5h0.6v0.6h-0.6zM313.3 86.7h0.6v0.6h-0.6zM313.9 88.3h0.6v0.6h-0.6zM317.7 53.5h0.6v0.6h-0.6zM324.0 72.0h0.6v0.6h-0.6zM310.2 75.2h0.6v0.6h-0.6zM312.8 55.3h0.6v0.6h-0.6zM310.9 76.4h0.6v0.6h-0.6zM311.7 53.9h0.6v0.6h-0.6zM319.0 82.8h0.6v0.6h-0.6zM319.2 70.7h0.6v0.6h-0.6zM312.7 50.0h0.6v0.6h-0.6zM314.6 91.2h0.6v0.6h-0.6zM315.5 88.4h0.6v0.6h-0.6zM316.2 85.8h0.6v0.6h-0.6zM320.3 61.1h0.6v0.6h-0.6zM318.0 58.1h0.6v0.6h-0.6zM312.9 77.6h0.6v0.6h-0.6zM310.9 74.0h0.6v0.6h-0.6zM313.2 85.4h0.6v0.6h-0.6zM315.1 80.7h0.6v0.6h-0.6zM318.1 72.5h0.6v0.6h-0.6zM310.9 85.5h0.6v0.6h-0.6zM325.5 51.9h0.6v0.6h-0.6zM316.6 82.8h0.6v0.6h-0.6zM315.4 59.9h0.6v0.6h-0.6zM324.4 69.5h0.6v0.6h-0.6zM319.8 66.2h0.6v0.6h-0.6zM328.7 52.0h0.6v0.6h-0.6zM313.9 88.2h0.6v0.6h-0.6zM322.2 59.3h0.6v0.6h-0.6zM320.2 55.5h0.6v0.6h-0.6zM316.0 89.4h0.6v0.6h-0.6zM314.9 84.2h0.6v0.6h-0.6zM315.9 84.9h0.6v0.6h-0.6zM317.5 91.0h0.6v0.6h-0.6zM313.4 87.9h0.6v0.6h-0.6zM312.6 86.4h0.6v0.6h-0.6zM319.3 63.0h0.6v0.6h-0.6zM312.0 88.0h0.6v0.6h-0.6zM327.1 50.6h0.6v0.6h-0.6zM312.1 60.4h0.6v0.6h-0.6zM314.2 70.7h0.6v0.6h-0.6zM312.5 69.2h0.6v0.6h-0.6zM317.1 88.8h0.6v0.6h-0.6zM314.7 64.7h0.6v0.6h-0.6zM318.5 78.0h0.6v0.6h-0.6zM324.0 61.8h0.6v0.6h-0.6zM314.4 78.3h0.6v0.6h-0.6zM322.9 48.1h0.6v0.6h-0.6zM327.4 51.3h0.6v0.6h-0.6zM314.3 67.4h0.6v0.6h-0.6zM310.2 67.4h0.6v0.6h-0.6zM312.2 84.8h0.6v0.6h-0.6zM320.7 47.6h0.6v0.6h-0.6zM322.1 65.7h0.6v0.6h-0.6zM317.7 89.6h0.6v0.6h-0.6zM315.4 91.5h0.6v0.6h-0.6zM315.7 52.9h0.6v0.6h-0.6zM310.8 88.5h0.6v0.6h-0.6zM322.5 73.9h0.6v0.6h-0.6zM316.2 75.3h0.6v0.6h-0.6zM313.0 65.0h0.6v0.6h-0.6zM314.1 66.3h0.6v0.6h-0.6zM322.6 70.2h0.6v0.6h-0.6zM311.5 81.8h0.6v0.6h-0.6zM316.3 63.2h0.6v0.6h-0.6zM312.0 68.3h0.6v0.6h-0.6zM311.3 80.6h0.6v0.6h-0.6zM329.1 54.1h0.6v0.6h-0.6zM316.9 53.0h0.6v0.6h-0.6zM318.6 69.4h0.6v0.6h-0.6zM311.8 62.0h0.6v0.6h-0.6zM314.3 59.7h0.6v0.6h-0.6zM324.3 65.0h0.6v0.6h-0.6zM322.4 61.0h0.6v0.6h-0.6zM323.1 72.3h0.6v0.6h-0.6zM320.5 71.4h0.6v0.6h-0.6zM318.4 56.9h0.6v0.6h-0.6zM319.3 57.4h0.6v0.6h-0.6zM318.0 70.8h0.6v0.6h-0.6zM321.7 74.9h0.6v0.6h-0.6zM315.8 77.8h0.6v0.6h-0.6zM320.9 63.4h0.6v0.6h-0.6zM317.3 84.5h0.6v0.6h-0.6zM319.8 65.9h0.6v0.6h-0.6zM328.6 60.0h0.6v0.6h-0.6zM317.2 57.4h0.6v0.6h-0.6zM314.2 81.7h0.6v0.6h-0.6zM312.2 53.6h0.6v0.6h-0.6zM310.2 74.3h0.6v0.6h-0.6zM317.9 86.8h0.6v0.6h-0.6zM314.0 72.0h0.6v0.6h-0.6zM314.9 54.1h0.6v0.6h-0.6zM311.3 53.3h0.6v0.6h-0.6zM312.4 83.5h0.6v0.6h-0.6zM310.5 53.8h0.6v0.6h-0.6zM314.3 76.2h0.6v0.6h-0.6zM317.6 77.2h0.6v0.6h-0.6zM312.1 65.0h0.6v0.6h-0.6zM313.6 67.4h0.6v0.6h-0.6zM317.4 89.5h0.6v0.6h-0.6zM312.2 78.0h0.6v0.6h-0.6zM326.0 53.2h0.6v0.6h-0.6zM314.7 58.4h0.6v0.6h-0.6zM316.5 88.8h0.6v0.6h-0.6zM318.2 84.8h0.6v0.6h-0.6zM322.1 68.6h0.6v0.6h-0.6zM322.0 78.1h0.6v0.6h-0.6zM317.2 66.6h0.6v0.6h-0.6zM313.8 70.2h0.6v0.6h-0.6zM313.7 87.2h0.6v0.6h-0.6zM317.4 81.2h0.6v0.6h-0.6zM315.0 50.9h0.6v0.6h-0.6zM316.8 73.9h0.6v0.6h-0.6zM314.7 50.3h0.6v0.6h-0.6zM316.2 74.2h0.6v0.6h-0.6zM317.3 86.5h0.6v0.6h-0.6zM312.2 90.1h0.6v0.6h-0.6zM311.5 51.4h0.6v0.6h-0.6zM311.2 78.6h0.6v0.6h-0.6zM318.9 69.3h0.6v0.6h-0.6zM312.3 51.8h0.6v0.6h-0.6zM315.6 83.1h0.6v0.6h-0.6zM314.0 64.3h0.6v0.6h-0.6zM312.0 82.4h0.6v0.6h-0.6zM310.7 59.7h0.6v0.6h-0.6zM314.6 67.5h0.6v0.6h-0.6zM330.6 48.7h0.6v0.6h-0.6zM314.2 88.1h0.6v0.6h-0.6zM315.9 70.0h0.6v0.6h-0.6zM319.4 71.9h0.6v0.6h-0.6zM311.4 64.1h0.6v0.6h-0.6zM320.5 80.0h0.6v0.6h-0.6zM316.4 68.0h0.6v0.6h-0.6zM312.9 58.6h0.6v0.6h-0.6zM318.8 56.9h0.6v0.6h-0.6zM314.7 70.7h0.6v0.6h-0.6zM322.0 57.5h0.6v0.6h-0.6zM315.0 64.4h0.6v0.6h-0.6zM329.2 50.7h0.6v0.6h-0.6zM313.2 80.1h0.6v0.6h-0.6zM316.3 90.7h0.6v0.6h-0.6zM328.5 53.2h0.6v0.6h-0.6zM313.7 77.3h0.6v0.6h-0.6zM320.2 49.7h0.6v0.6h-0.6zM312.4 70.0h0.6v0.6h-0.6zM320.4 50.1h0.6v0.6h-0.6zM318.7 79.4h0.6v0.6h-0.6zM313.3 65.3h0.6v0.6h-0.6zM318.1 89.2h0.6v0.6h-0.6zM313.3 80.8h0.6v0.6h-0.6zM315.7 59.5h0.6v0.6h-0.6zM326.0 55.2h0.6v0.6h-0.6zM315.3 62.5h0.6v0.6h-0.6zM318.9 75.4h0.6v0.6h-0.6zM319.8 68.2h0.6v0.6h-0.6zM322.8 75.2h0.6v0.6h-0.6zM313.9 80.5h0.6v0.6h-0.6zM319.6 69.9h0.6v0.6h-0.6zM312.2 84.9h0.6v0.6h-0.6zM316.1 71.3h0.6v0.6h-0.6zM313.4 74.6h0.6v0.6h-0.6zM316.0 47.9h0.6v0.6h-0.6zM311.9 88.1h0.6v0.6h-0.6zM313.2 78.2h0.6v0.6h-0.6zM314.8 69.9h0.6v0.6h-0.6zM324.1 61.7h0.6v0.6h-0.6zM316.0 71.6h0.6v0.6h-0.6zM313.2 90.0h0.6v0.6h-0.6zM310.6 76.2h0.6v0.6h-0.6zM320.4 83.9h0.6v0.6h-0.6zM323.8 75.4h0.6v0.6h-0.6zM315.4 77.8h0.6v0.6h-0.6zM311.2 81.7h0.6v0.6h-0.6zM322.3 52.9h0.6v0.6h-0.6zM319.7 87.2h0.6v0.6h-0.6zM310.5 69.0h0.6v0.6h-0.6zM315.2 68.7h0.6v0.6h-0.6zM315.0 88.3h0.6v0.6h-0.6zM316.2 85.4h0.6v0.6h-0.6zM311.9 66.0h0.6v0.6h-0.6zM310.9 67.9h0.6v0.6h-0.6zM316.9 68.5h0.6v0.6h-0.6zM317.5 72.9h0.6v0.6h-0.6zM316.8 60.9h0.6v0.6h-0.6zM315.3 86.9h0.6v0.6h-0.6zM321.1 53.4h0.6v0.6h-0.6zM313.8 71.8h0.6v0.6h-0.6zM319.3 89.6h0.6v0.6h-0.6zM317.7 77.5h0.6v0.6h-0.6zM312.1 89.3h0.6v0.6h-0.6zM318.5 62.9h0.6v0.6h-0.6zM322.1 70.1h0.6v0.6h-0.6zM317.1 52.8h0.6v0.6h-0.6zM322.1 68.2h0.6v0.6h-0.6zM318.5 86.7h0.6v0.6h-0.6zM318.3 85.4h0.6v0.6h-0.6zM317.9 77.8h0.6v0.6h-0.6zM310.9 79.2h0.6v0.6h-0.6zM311.6 89.1h0.6v0.6h-0.6zM326.3 62.4h0.6v0.6h-0.6zM317.9 64.8h0.6v0.6h-0.6zM311.2 91.8h0.6v0.6h-0.6zM310.8 87.7h0.6v0.6h-0.6zM313.5 70.6h0.6v0.6h-0.6zM314.6 70.0h0.6v0.6h-0.6zM327.5 58.9h0.6v0.6h-0.6zM318.5 75.7h0.6v0.6h-0.6zM315.7 52.4h0.6v0.6h-0.6zM314.2 87.0h0.6v0.6h-0.6zM311.1 73.6h0.6v0.6h-0.6zM323.1 55.5h0.6v0.6h-0.6zM318.4 61.6h0.6v0.6h-0.6zM318.7 79.0h0.6v0.6h-0.6zM317.3 82.1h0.6v0.6h-0.6zM324.8 63.5h0.6v0.6h-0.6zM316.7 67.3h0.6v0.6h-0.6zM316.9 87.0h0.6v0.6h-0.6zM316.1 75.5h0.6v0.6h-0.6zM312.6 77.5h0.6v0.6h-0.6zM310.5 89.0h0.6v0.6h-0.6zM319.5 74.5h0.6v0.6h-0.6zM320.7 60.8h0.6v0.6h-0.6zM312.5 58.8h0.6v0.6h-0.6zM322.8 62.7h0.6v0.6h-0.6zM310.5 67.6h0.6v0.6h-0.6zM315.0 92.3h0.6v0.6h-0.6zM310.1 78.1h0.6v0.6h-0.6zM311.8 51.6h0.6v0.6h-0.6zM316.8 81.4h0.6v0.6h-0.6zM314.6 82.4h0.6v0.6h-0.6zM322.6 70.9h0.6v0.6h-0.6zM323.4 64.2h0.6v0.6h-0.6zM315.8 48.9h0.6v0.6h-0.6zM315.6 86.3h0.6v0.6h-0.6zM320.5 68.6h0.6v0.6h-0.6zM320.1 70.0h0.6v0.6h-0.6zM317.1 83.7h0.6v0.6h-0.6zM313.6 77.1h0.6v0.6h-0.6zM314.2 88.3h0.6v0.6h-0.6zM313.4 51.5h0.6v0.6h-0.6zM313.0 91.4h0.6v0.6h-0.6zM324.8 71.1h0.6v0.6h-0.6zM316.9 81.5h0.6v0.6h-0.6zM311.6 70.8h0.6v0.6h-0.6zM311.8 50.1h0.6v0.6h-0.6zM312.2 58.0h0.6v0.6h-0.6zM315.2 67.0h0.6v0.6h-0.6zM314.0 54.0h0.6v0.6h-0.6zM317.6 69.4h0.6v0.6h-0.6zM312.5 69.1h0.6v0.6h-0.6zM310.3 77.4h0.6v0.6h-0.6zM319.6 81.3h0.6v0.6h-0.6zM313.5 66.8h0.6v0.6h-0.6zM316.9 83.4h0.6v0.6h-0.6zM315.2 69.7h0.6v0.6h-0.6zM312.7 86.4h0.6v0.6h-0.6zM310.9 60.6h0.6v0.6h-0.6zM314.5 67.1h0.6v0.6h-0.6zM311.4 56.9h0.6v0.6h-0.6zM317.8 65.6h0.6v0.6h-0.6zM317.0 62.3h0.6v0.6h-0.6zM312.4 72.1h0.6v0.6h-0.6zM323.5 69.9h0.6v0.6h-0.6zM312.3 89.3h0.6v0.6h-0.6zM312.0 64.6h0.6v0.6h-0.6zM313.8 89.8h0.6v0.6h-0.6zM314.3 62.5h0.6v0.6h-0.6zM317.3 58.3h0.6v0.6h-0.6zM321.2 53.9h0.6v0.6h-0.6zM313.7 88.2h0.6v0.6h-0.6zM312.7 60.0h0.6v0.6h-0.6zM315.8 62.8h0.6v0.6h-0.6zM313.7 82.0h0.6v0.6h-0.6zM312.7 87.6h0.6v0.6h-0.6zM320.4 57.1h0.6v0.6h-0.6zM313.4 53.3h0.6v0.6h-0.6zM316.2 71.1h0.6v0.6h-0.6zM316.0 60.8h0.6v0.6h-0.6zM315.8 86.2h0.6v0.6h-0.6zM313.4 75.2h0.6v0.6h-0.6zM313.5 66.7h0.6v0.6h-0.6zM319.8 64.8h0.6v0.6h-0.6zM314.1 75.3h0.6v0.6h-0.6zM313.9 74.8h0.6v0.6h-0.6zM318.0 75.0h0.6v0.6h-0.6zM311.8 78.6h0.6v0.6h-0.6zM313.0 83.2h0.6v0.6h-0.6zM316.3 55.2h0.6v0.6h-0.6zM310.5 82.0h0.6v0.6h-0.6zM316.0 69.7h0.6v0.6h-0.6zM313.7 69.7h0.6v0.6h-0.6zM328.8 59.6h0.6v0.6h-0.6zM312.4 92.5h0.6v0.6h-0.6zM311.9 66.2h0.6v0.6h-0.6zM323.1 53.7h0.6v0.6h-0.6zM317.7 65.2h0.6v0.6h-0.6zM315.3 66.4h0.6v0.6h-0.6zM316.2 76.2h0.6v0.6h-0.6zM320.6 78.4h0.6v0.6h-0.6zM310.3 87.0h0.6v0.6h-0.6zM314.1 79.8h0.6v0.6h-0.6zM320.2 64.7h0.6v0.6h-0.6zM316.9 85.8h0.6v0.6h-0.6zM323.9 61.5h0.6v0.6h-0.6zM312.0 85.8h0.6v0.6h-0.6zM315.4 79.3h0.6v0.6h-0.6zM318.4 71.2h0.6v0.6h-0.6zM315.0 52.4h0.6v0.6h-0.6zM319.0 72.5h0.6v0.6h-0.6zM320.1 56.8h0.6v0.6h-0.6zM316.8 83.7h0.6v0.6h-0.6zM311.5 83.8h0.6v0.6h-0.6zM325.6 55.1h0.6v0.6h-0.6zM313.4 60.1h0.6v0.6h-0.6zM310.1 72.6h0.6v0.6h-0.6zM318.1 52.1h0.6v0.6h-0.6zM318.6 73.4h0.6v0.6h-0.6zM310.8 69.0h0.6v0.6h-0.6zM315.8 86.2h0.6v0.6h-0.6zM315.3 84.3h0.6v0.6h-0.6zM311.2 55.5h0.6v0.6h-0.6zM311.5 77.7h0.6v0.6h-0.6zM314.5 85.0h0.6v0.6h-0.6zM310.3 83.8h0.6v0.6h-0.6zM319.1 58.2h0.6v0.6h-0.6zM320.6 79.3h0.6v0.6h-0.6zM317.4 72.5h0.6v0.6h-0.6zM316.8 68.3h0.6v0.6h-0.6zM317.8 87.8h0.6v0.6h-0.6zM327.4 63.8h0.6v0.6h-0.6zM326.5 59.0h0.6v0.6h-0.6zM321.2 71.1h0.6v0.6h-0.6zM326.6 48.3h0.6v0.6h-0.6zM314.2 88.9h0.6v0.6h-0.6zM320.6 84.1h0.6v0.6h-0.6zM315.7 74.5h0.6v0.6h-0.6zM312.1 90.5h0.6v0.6h-0.6zM318.3 60.9h0.6v0.6h-0.6zM320.4 71.2h0.6v0.6h-0.6zM312.7 52.3h0.6v0.6h-0.6zM325.1 62.5h0.6v0.6h-0.6zM317.4 51.9h0.6v0.6h-0.6zM310.5 60.0h0.6v0.6h-0.6zM325.7 62.8h0.6v0.6h-0.6zM319.0 51.0h0.6v0.6h-0.6zM311.5 86.6h0.6v0.6h-0.6zM323.8 50.1h0.6v0.6h-0.6zM311.4 71.1h0.6v0.6h-0.6zM321.1 55.3h0.6v0.6h-0.6zM314.7 64.3h0.6v0.6h-0.6zM320.5 64.5h0.6v0.6h-0.6zM318.3 71.2h0.6v0.6h-0.6zM312.1 87.9h0.6v0.6h-0.6zM313.8 84.1h0.6v0.6h-0.6zM316.5 65.5h0.6v0.6h-0.6zM318.2 62.1h0.6v0.6h-0.6zM312.6 79.1h0.6v0.6h-0.6zM317.7 88.1h0.6v0.6h-0.6zM325.7 50.9h0.6v0.6h-0.6zM318.6 77.8h0.6v0.6h-0.6zM318.7 89.6h0.6v0.6h-0.6zM311.2 92.6h0.6v0.6h-0.6zM324.2 62.9h0.6v0.6h-0.6zM327.9 54.4h0.6v0.6h-0.6zM322.8 48.8h0.6v0.6h-0.6zM313.2 84.6h0.6v0.6h-0.6zM321.1 72.8h0.6v0.6h-0.6zM313.9 85.1h0.6v0.6h-0.6zM311.6 82.7h0.6v0.6h-0.6zM322.0 63.7h0.6v0.6h-0.6zM318.8 82.6h0.6v0.6h-0.6zM317.6 77.5h0.6v0.6h-0.6zM323.5 62.7h0.6v0.6h-0.6zM321.3 61.9h0.6v0.6h-0.6zM313.1 66.8h0.6v0.6h-0.6zM310.7 70.9h0.6v0.6h-0.6zM311.6 64.3h0.6v0.6h-0.6zM325.5 51.9h0.6v0.6h-0.6zM314.5 63.5h0.6v0.6h-0.6zM318.0 62.7h0.6v0.6h-0.6zM317.2 56.0h0.6v0.6h-0.6zM312.4 78.5h0.6v0.6h-0.6zM310.8 89.8h0.6v0.6h-0.6zM315.2 90.8h0.6v0.6h-0.6zM321.6 48.9h0.6v0.6h-0.6zM326.4 59.0h0.6v0.6h-0.6zM314.1 80.1h0.6v0.6h-0.6zM322.7 71.6h0.6v0.6h-0.6zM315.2 77.3h0.6v0.6h-0.6zM310.3 87.2h0.6v0.6h-0.6zM313.2 83.5h0.6v0.6h-0.6zM316.2 53.0h0.6v0.6h-0.6zM313.2 70.7h0.6v0.6h-0.6zM311.3 51.8h0.6v0.6h-0.6zM316.5 67.0h0.6v0.6h-0.6zM330.0 53.0h0.6v0.6h-0.6zM319.2 65.5h0.6v0.6h-0.6zM317.4 87.7h0.6v0.6h-0.6zM324.2 60.5h0.6v0.6h-0.6zM320.7 75.6h0.6v0.6h-0.6zM314.4 65.5h0.6v0.6h-0.6zM312.3 86.1h0.6v0.6h-0.6zM318.9 59.1h0.6v0.6h-0.6zM316.5 69.1h0.6v0.6h-0.6zM312.8 57.6h0.6v0.6h-0.6zM318.2 57.7h0.6v0.6h-0.6zM311.7 87.2h0.6v0.6h-0.6zM318.6 66.5h0.6v0.6h-0.6zM318.8 65.0h0.6v0.6h-0.6zM314.5 79.1h0.6v0.6h-0.6zM317.8 78.7h0.6v0.6h-0.6zM318.8 67.6h0.6v0.6h-0.6zM310.6 50.3h0.6v0.6h-0.6zM317.7 74.9h0.6v0.6h-0.6zM314.5 88.3h0.6v0.6h-0.6zM317.5 62.5h0.6v0.6h-0.6zM311.5 84.2h0.6v0.6h-0.6zM322.5 68.1h0.6v0.6h-0.6zM312.2 80.3h0.6v0.6h-0.6zM319.7 51.0h0.6v0.6h-0.6zM319.6 67.7h0.6v0.6h-0.6zM310.9 84.8h0.6v0.6h-0.6zM311.9 70.4h0.6v0.6h-0.6zM316.6 75.1h0.6v0.6h-0.6zM315.3 81.9h0.6v0.6h-0.6zM314.2 69.4h0.6v0.6h-0.6zM311.7 90.1h0.6v0.6h-0.6zM313.1 67.4h0.6v0.6h-0.6zM313.2 87.2h0.6v0.6h-0.6zM319.6 77.8h0.6v0.6h-0.6zM319.8 65.6h0.6v0.6h-0.6zM327.3 51.3h0.6v0.6h-0.6zM328.7 51.2h0.6v0.6h-0.6zM317.8 51.1h0.6v0.6h-0.6zM317.5 47.2h0.6v0.6h-0.6zM311.6 91.2h0.6v0.6h-0.6zM345.6 60.3h0.6v0.6h-0.6zM343.1 60.7h0.6v0.6h-0.6zM345.8 68.2h0.6v0.6h-0.6zM342.1 60.2h0.6v0.6h-0.6zM345.7 66.7h0.6v0.6h-0.6zM344.3 59.9h0.6v0.6h-0.6zM342.6 60.8h0.6v0.6h-0.6zM346.4 63.9h0.6v0.6h-0.6zM347.4 64.1h0.6v0.6h-0.6zM346.3 69.1h0.6v0.6h-0.6zM343.8 67.1h0.6v0.6h-0.6zM338.3 62.4h0.6v0.6h-0.6zM340.9 58.3h0.6v0.6h-0.6zM340.5 63.9h0.6v0.6h-0.6zM342.7 65.4h0.6v0.6h-0.6zM338.7 62.0h0.6v0.6h-0.6zM342.0 65.9h0.6v0.6h-0.6zM341.2 62.7h0.6v0.6h-0.6zM343.8 58.0h0.6v0.6h-0.6zM343.2 59.9h0.6v0.6h-0.6zM342.6 66.2h0.6v0.6h-0.6zM345.6 62.2h0.6v0.6h-0.6zM343.0 62.1h0.6v0.6h-0.6zM340.4 67.6h0.6v0.6h-0.6zM342.4 61.0h0.6v0.6h-0.6zM344.6 60.4h0.6v0.6h-0.6zM346.2 56.3h0.6v0.6h-0.6zM339.4 59.6h0.6v0.6h-0.6zM342.3 60.8h0.6v0.6h-0.6zM341.9 65.2h0.6v0.6h-0.6zM341.4 66.7h0.6v0.6h-0.6zM343.8 63.0h0.6v0.6h-0.6zM340.3 62.3h0.6v0.6h-0.6zM342.9 61.1h0.6v0.6h-0.6zM341.8 64.3h0.6v0.6h-0.6zM347.2 61.2h0.6v0.6h-0.6zM338.1 66.5h0.6v0.6h-0.6zM339.1 65.3h0.6v0.6h-0.6zM344.1 62.5h0.6v0.6h-0.6zM342.2 56.9h0.6v0.6h-0.6zM346.8 60.7h0.6v0.6h-0.6zM345.8 60.9h0.6v0.6h-0.6zM342.4 57.1h0.6v0.6h-0.6zM342.8 55.1h0.6v0.6h-0.6zM340.7 69.3h0.6v0.6h-0.6zM342.8 58.9h0.6v0.6h-0.6zM344.0 60.9h0.6v0.6h-0.6zM342.6 58.9h0.6v0.6h-0.6zM343.5 60.2h0.6v0.6h-0.6zM344.3 62.8h0.6v0.6h-0.6zM340.2 59.8h0.6v0.6h-0.6zM342.8 58.0h0.6v0.6h-0.6zM343.0 65.8h0.6v0.6h-0.6zM346.4 56.7h0.6v0.6h-0.6zM343.3 66.7h0.6v0.6h-0.6zM348.1 58.4h0.6v0.6h-0.6zM340.5 63.3h0.6v0.6h-0.6zM347.9 62.6h0.6v0.6h-0.6zM342.8 63.4h0.6v0.6h-0.6zM348.6 53.3h0.6v0.6h-0.6zM344.2 58.6h0.6v0.6h-0.6zM342.4 65.2h0.6v0.6h-0.6zM346.0 60.6h0.6v0.6h-0.6zM339.8 64.2h0.6v0.6h-0.6zM341.6 61.1h0.6v0.6h-0.6zM344.5 64.5h0.6v0.6h-0.6zM348.5 62.3h0.6v0.6h-0.6zM340.8 61.0h0.6v0.6h-0.6zM344.5 68.7h0.6v0.6h-0.6zM341.4 57.7h0.6v0.6h-0.6zM344.1 62.0h0.6v0.6h-0.6zM342.7 61.3h0.6v0.6h-0.6zM346.3 64.8h0.6v0.6h-0.6zM345.4 57.8h0.6v0.6h-0.6zM345.2 70.2h0.6v0.6h-0.6zM343.5 62.3h0.6v0.6h-0.6zM341.9 62.3h0.6v0.6h-0.6zM341.5 62.4h0.6v0.6h-0.6zM343.9 57.6h0.6v0.6h-0.6zM343.1 62.6h0.6v0.6h-0.6zM343.8 62.4h0.6v0.6h-0.6zM341.0 65.6h0.6v0.6h-0.6zM341.8 57.6h0.6v0.6h-0.6zM340.0 63.2h0.6v0.6h-0.6zM339.1 67.3h0.6v0.6h-0.6zM345.4 59.6h0.6v0.6h-0.6zM340.0 62.9h0.6v0.6h-0.6zM343.5 66.1h0.6v0.6h-0.6zM346.3 67.3h0.6v0.6h-0.6zM340.5 60.3h0.6v0.6h-0.6zM341.8 62.0h0.6v0.6h-0.6zM338.0 58.1h0.6v0.6h-0.6zM343.2 63.1h0.6v0.6h-0.6zM343.7 68.2h0.6v0.6h-0.6zM345.5 60.6h0.6v0.6h-0.6zM342.3 61.6h0.6v0.6h-0.6zM344.1 59.7h0.6v0.6h-0.6zM342.9 55.1h0.6v0.6h-0.6zM344.4 66.1h0.6v0.6h-0.6zM341.1 66.0h0.6v0.6h-0.6zM340.9 84.3h0.6v0.6h-0.6zM327.8 77.0h0.6v0.6h-0.6zM346.2 63.1h0.6v0.6h-0.6zM319.1 86.3h0.6v0.6h-0.6zM314.9 83.1h0.6v0.6h-0.6zM340.1 82.0h0.6v0.6h-0.6zM312.8 73.5h0.6v0.6h-0.6zM338.9 63.1h0.6v0.6h-0.6zM318.1 89.4h0.6v0.6h-0.6zM312.4 49.4h0.6v0.6h-0.6zM321.4 74.6h0.6v0.6h-0.6zM346.9 43.4h0.6v0.6h-0.6zM338.8 53.6h0.6v0.6h-0.6zM342.3 50.3h0.6v0.6h-0.6zM343.8 72.7h0.6v0.6h-0.6zM315.8 55.3h0.6v0.6h-0.6zM327.2 48.2h0.6v0.6h-0.6zM325.5 80.5h0.6v0.6h-0.6zM312.9 64.7h0.6v0.6h-0.6zM324.3 65.9h0.6v0.6h-0.6zM349.8 83.8h0.6v0.6h-0.6zM341.4 88.6h0.6v0.6h-0.6zM319.7 44.8h0.6v0.6h-0.6zM327.8 91.4h0.6v0.6h-0.6zM324.5 79.6h0.6v0.6h-0.6zM328.9 88.4h0.6v0.6h-0.6zM334.6 62.1h0.6v0.6h-0.6zM329.7 93.0h0.6v0.6h-0.6zM349.5 85.7h0.6v0.6h-0.6zM324.0 63.0h0.6v0.6h-0.6zM337.9 90.6h0.6v0.6h-0.6zM320.3 85.3h0.6v0.6h-0.6zM312.4 89.5h0.6v0.6h-0.6zM345.1 46.9h0.6v0.6h-0.6zM327.0 88.9h0.6v0.6h-0.6z"/>
<path fill="#2f8080" fill-opacity="0.8" d="M441.2 90.9h0.6v0.6h-0.6zM435.5 92.7h0.6v0.6h-0.6zM443.5 93.4h0.6v0.6h-0.6zM439.3 89.4h0.6v0.6h-0.6zM443.0 91.5h0.6v0.6h-0.6zM436.3 89.6h0.6v0.6h-0.6zM447.9 91.5h0.6v0.6h-0.6zM439.5 91.1h0.6v0.6h-0.6zM446.1 88.0h0.6v0.6h-0.6zM440.6 93.7h0.6v0.6h-0.6zM437.2 94.2h0.6v0.6h-0.6zM439.0 91.8h0.6v0.6h-0.6zM439.4 94.7h0.6v0.6h-0.6zM436.6 89.0h0.6v0.6h-0.6zM437.0 91.3h0.6v0.6h-0.6zM438.4 94.6h0.6v0.6h-0.6zM437.4 94.0h0.6v0.6h-0.6zM439.6 93.2h0.6v0.6h-0.6zM439.5 88.1h0.6v0.6h-0.6zM441.5 86.9h0.6v0.6h-0.6zM439.8 94.0h0.6v0.6h-0.6zM449.4 88.8h0.6v0.6h-0.6zM439.3 90.2h0.6v0.6h-0.6zM436.5 94.3h0.6v0.6h-0.6zM445.5 89.6h0.6v0.6h-0.6zM444.4 87.1h0.6v0.6h-0.6zM448.0 92.1h0.6v0.6h-0.6zM447.5 93.9h0.6v0.6h-0.6zM437.1 91.8h0.6v0.6h-0.6zM443.2 93.7h0.6v0.6h-0.6zM437.0 90.4h0.6v0.6h-0.6zM437.5 93.4h0.6v0.6h-0.6zM442.0 87.7h0.6v0.6h-0.6zM446.9 91.3h0.6v0.6h-0.6zM441.9 91.6h0.6v0.6h-0.6zM447.0 91.4h0.6v0.6h-0.6zM438.1 92.9h0.6v0.6h-0.6zM448.0 82.0h0.6v0.6h-0.6zM444.8 89.8h0.6v0.6h-0.6zM450.1 86.9h0.6v0.6h-0.6zM437.7 92.7h0.6v0.6h-0.6zM446.8 92.7h0.6v0.6h-0.6zM447.9 93.8h0.6v0.6h-0.6zM438.2 95.5h0.6v0.6h-0.6zM443.1 94.3h0.6v0.6h-0.6zM438.1 89.3h0.6v0.6h-0.6zM443.7 88.4h0.6v0.6h-0.6zM441.6 87.1h0.6v0.6h-0.6zM446.9 90.4h0.6v0.6h-0.6zM447.3 89.7h0.6v0.6h-0.6zM443.2 92.1h0.6v0.6h-0.6zM444.2 91.5h0.6v0.6h-0.6zM442.7 92.2h0.6v0.6h-0.6zM435.7 92.3h0.6v0.6h-0.6zM440.3 92.5h0.6v0.6h-0.6zM439.3 85.3h0.6v0.6h-0.6zM444.9 92.6h0.6v0.6h-0.6zM444.6 87.9h0.6v0.6h-0.6zM443.3 92.4h0.6v0.6h-0.6zM443.2 89.3h0.6v0.6h-0.6zM447.4 93.8h0.6v0.6h-0.6zM438.2 92.5h0.6v0.6h-0.6zM449.2 88.8h0.6v0.6h-0.6zM441.8 89.0h0.6v0.6h-0.6zM444.0 91.3h0.6v0.6h-0.6zM443.7 93.7h0.6v0.6h-0.6zM437.0 87.6h0.6v0.6h-0.6zM445.5 93.1h0.6v0.6h-0.6zM441.4 91.0h0.6v0.6h-0.6zM450.0 95.7h0.6v0.6h-0.6zM445.5 90.8h0.6v0.6h-0.6zM450.3 89.4h0.6v0.6h-0.6zM442.3 89.1h0.6v0.6h-0.6zM446.6 92.9h0.6v0.6h-0.6zM449.1 90.7h0.6v0.6h-0.6zM444.4 89.5h0.6v0.6h-0.6zM435.1 88.8h0.6v0.6h-0.6zM447.1 88.9h0.6v0.6h-0.6zM436.8 92.5h0.6v0.6h-0.6zM444.8 92.2h0.6v0.6h-0.6zM449.1 90.1h0.6v0.6h-0.6zM444.0 94.2h0.6v0.6h-0.6zM440.4 91.7h0.6v0.6h-0.6zM436.9 89.5h0.6v0.6h-0.6zM442.3 87.4h0.6v0.6h-0.6zM438.2 87.8h0.6v0.6h-0.6zM436.6 92.3h0.6v0.6h-0.6zM442.0 86.3h0.6v0.6h-0.6zM437.3 93.2h0.6v0.6h-0.6zM448.3 87.4h0.6v0.6h-0.6zM442.2 90.9h0.6v0.6h-0.6zM438.7 90.9h0.6v0.6h-0.6zM437.7 92.8h0.6v0.6h-0.6zM435.5 90.7h0.6v0.6h-0.6zM444.1 93.8h0.6v0.6h-0.6zM439.2 92.3h0.6v0.6h-0.6zM437.9 90.0h0.6v0.6h-0.6zM442.3 92.5h0.6v0.6h-0.6zM445.2 90.1h0.6v0.6h-0.6zM450.5 90.6h0.6v0.6h-0.6zM444.4 93.6h0.6v0.6h-0.6zM447.1 92.8h0.6v0.6h-0.6zM445.3 91.5h0.6v0.6h-0.6zM442.2 93.2h0.6v0.6h-0.6zM445.0 93.8h0.6v0.6h-0.6zM436.9 96.1h0.6v0.6h-0.6zM447.3 93.8h0.6v0.6h-0.6zM447.6 91.6h0.6v0.6h-0.6zM448.7 94.5h0.6v0.6h-0.6zM448.7 91.5h0.6v0.6h-0.6zM439.9 88.0h0.6v0.6h-0.6zM447.0 89.3h0.6v0.6h-0.6zM439.3 94.3h0.6v0.6h-0.6zM443.5 91.5h0.6v0.6h-0.6zM439.0 92.4h0.6v0.6h-0.6zM445.8 94.7h0.6v0.6h-0.6zM440.4 91.5h0.6v0.6h-0.6zM442.6 88.0h0.6v0.6h-0.6zM446.5 92.8h0.6v0.6h-0.6zM445.8 93.1h0.6v0.6h-0.6zM440.0 92.6h0.6v0.6h-0.6zM450.4 91.6h0.6v0.6h-0.6zM439.8 87.8h0.6v0.6h-0.6zM450.1 85.5h0.6v0.6h-0.6zM441.3 93.1h0.6v0.6h-0.6zM437.9 95.9h0.6v0.6h-0.6zM446.1 95.4h0.6v0.6h-0.6zM444.3 89.0h0.6v0.6h-0.6zM449.7 91.7h0.6v0.6h-0.6zM439.9 91.0h0.6v0.6h-0.6zM440.2 91.9h0.6v0.6h-0.6zM436.3 92.3h0.6v0.6h-0.6zM440.5 91.6h0.6v0.6h-0.6zM441.5 93.0h0.6v0.6h-0.6zM439.7 95.8h0.6v0.6h-0.6zM448.4 91.6h0.6v0.6h-0.6zM440.4 88.5h0.6v0.6h-0.6zM441.5 95.1h0.6v0.6h-0.6zM437.9 94.1h0.6v0.6h-0.6zM442.8 92.5h0.6v0.6h-0.6zM442.7 90.2h0.6v0.6h-0.6zM441.7 92.3h0.6v0.6h-0.6zM444.7 94.1h0.6v0.6h-0.6zM447.9 90.5h0.6v0.6h-0.6zM445.1 91.3h0.6v0.6h-0.6zM438.0 92.3h0.6v0.6h-0.6zM443.8 88.6h0.6v0.6h-0.6zM447.2 94.5h0.6v0.6h-0.6zM442.6 90.6h0.6v0.6h-0.6zM444.9 90.2h0.6v0.6h-0.6zM441.7 89.4h0.6v0.6h-0.6zM442.0 89.9h0.6v0.6h-0.6zM441.8 94.3h0.6v0.6h-0.6zM445.1 89.7h0.6v0.6h-0.6zM439.8 95.7h0.6v0.6h-0.6zM441.5 91.4h0.6v0.6h-0.6zM443.3 91.1h0.6v0.6h-0.6zM441.1 95.3h0.6v0.6h-0.6zM448.0 88.2h0.6v0.6h-0.6zM446.4 90.6h0.6v0.6h-0.6zM439.3 90.3h0.6v0.6h-0.6zM441.8 94.6h0.6v0.6h-0.6zM447.1 93.3h0.6v0.6h-0.6zM444.0 88.7h0.6v0.6h-0.6zM438.0 95.6h0.6v0.6h-0.6zM439.0 88.3h0.6v0.6h-0.6zM444.6 92.2h0.6v0.6h-0.6zM440.6 94.1h0.6v0.6h-0.6zM449.5 92.3h0.6v0.6h-0.6zM438.7 93.2h0.6v0.6h-0.6zM437.0 95.5h0.6v0.6h-0.6zM441.8 87.6h0.6v0.6h-0.6zM442.3 94.4h0.6v0.6h-0.6zM442.5 91.6h0.6v0.6h-0.6zM439.1 94.3h0.6v0.6h-0.6zM438.5 93.7h0.6v0.6h-0.6zM440.5 93.1h0.6v0.6h-0.6zM445.8 92.9h0.6v0.6h-0.6zM436.4 86.9h0.6v0.6h-0.6zM439.4 89.5h0.6v0.6h-0.6zM445.3 91.5h0.6v0.6h-0.6zM444.4 90.0h0.6v0.6h-0.6zM438.5 91.9h0.6v0.6h-0.6zM446.3 91.5h0.6v0.6h-0.6zM437.9 93.3h0.6v0.6h-0.6zM441.6 88.8h0.6v0.6h-0.6zM443.5 91.0h0.6v0.6h-0.6zM451.6 91.4h0.6v0.6h-0.6zM446.4 89.1h0.6v0.6h-0.6zM445.5 88.6h0.6v0.6h-0.6zM444.2 91.1h0.6v0.6h-0.6zM436.4 90.0h0.6v0.6h-0.6zM440.2 89.8h0.6v0.6h-0.6zM446.6 92.8h0.6v0.6h-0.6zM444.8 89.8h0.6v0.6h-0.6zM447.4 93.8h0.6v0.6h-0.6zM441.6 86.3h0.6v0.6h-0.6zM441.9 91.0h0.6v0.6h-0.6zM437.4 90.2h0.6v0.6h-0.6zM446.1 91.5h0.6v0.6h-0.6zM441.2 90.9h0.6v0.6h-0.6zM446.2 87.0h0.6v0.6h-0.6zM439.4 88.9h0.6v0.6h-0.6zM435.6 94.1h0.6v0.6h-0.6zM452.2 91.2h0.6v0.6h-0.6zM442.4 95.0h0.6v0.6h-0.6zM439.9 91.0h0.6v0.6h-0.6zM438.3 91.3h0.6v0.6h-0.6zM454.6 92.6h0.6v0.6h-0.6zM442.8 91.4h0.6v0.6h-0.6zM440.8 95.3h0.6v0.6h-0.6zM443.2 92.6h0.6v0.6h-0.6zM443.5 93.1h0.6v0.6h-0.6zM443.5 87.6h0.6v0.6h-0.6zM444.5 90.9h0.6v0.6h-0.6zM444.7 90.3h0.6v0.6h-0.6zM437.5 91.7h0.6v0.6h-0.6zM440.5 90.0h0.6v0.6h-0.6zM446.8 92.5h0.6v0.6h-0.6zM437.6 93.3h0.6v0.6h-0.6zM441.5 93.8h0.6v0.6h-0.6zM445.3 94.1h0.6v0.6h-0.6zM440.3 91.0h0.6v0.6h-0.6zM442.5 85.7h0.6v0.6h-0.6zM438.0 83.7h0.6v0.6h-0.6zM443.4 90.2h0.6v0.6h-0.6zM444.6 90.2h0.6v0.6h-0.6zM435.4 94.2h0.6v0.6h-0.6zM436.6 94.3h0.6v0.6h-0.6zM437.0 91.3h0.6v0.6h-0.6zM446.5 93.0h0.6v0.6h-0.6zM440.6 93.1h0.6v0.6h-0.6zM441.1 88.9h0.6v0.6h-0.6zM443.2 90.5h0.6v0.6h-0.6zM443.6 89.5h0.6v0.6h-0.6zM444.6 92.2h0.6v0.6h-0.6zM448.3 88.6h0.6v0.6h-0.6zM438.7 92.3h0.6v0.6h-0.6zM446.3 90.3h0.6v0.6h-0.6zM444.7 91.8h0.6v0.6h-0.6zM443.1 93.0h0.6v0.6h-0.6zM435.0 88.6h0.6v0.6h-0.6zM444.7 93.2h0.6v0.6h-0.6zM452.9 91.6h0.6v0.6h-0.6zM447.4 92.3h0.6v0.6h-0.6zM448.8 92.6h0.6v0.6h-0.6zM437.0 90.2h0.6v0.6h-0.6zM442.9 92.8h0.6v0.6h-0.6zM436.7 94.3h0.6v0.6h-0.6zM444.4 91.7h0.6v0.6h-0.6zM437.4 95.5h0.6v0.6h-0.6zM442.4 93.6h0.6v0.6h-0.6zM447.4 88.7h0.6v0.6h-0.6zM440.4 88.6h0.6v0.6h-0.6zM449.9 90.1h0.6v0.6h-0.6zM438.4 92.5h0.6v0.6h-0.6zM444.4 92.3h0.6v0.6h-0.6zM442.3 92.8h0.6v0.6h-0.6zM445.5 95.1h0.6v0.6h-0.6zM443.8 89.5h0.6v0.6h-0.6zM443.1 88.1h0.6v0.6h-0.6zM444.3 93.4h0.6v0.6h-0.6zM438.4 93.2h0.6v0.6h-0.6zM447.0 93.9h0.6v0.6h-0.6zM443.5 93.0h0.6v0.6h-0.6zM444.8 90.4h0.6v0.6h-0.6zM442.6 93.0h0.6v0.6h-0.6zM447.8 89.1h0.6v0.6h-0.6zM448.1 86.5h0.6v0.6h-0.6zM440.9 93.8h0.6v0.6h-0.6zM449.5 90.4h0.6v0.6h-0.6zM448.9 93.5h0.6v0.6h-0.6zM447.2 88.0h0.6v0.6h-0.6zM438.1 94.0h0.6v0.6h-0.6zM440.4 92.8h0.6v0.6h-0.6zM438.2 94.5h0.6v0.6h-0.6zM442.7 88.8h0.6v0.6h-0.6zM448.7 94.2h0.6v0.6h-0.6zM440.5 90.8h0.6v0.6h-0.6zM442.7 92.1h0.6v0.6h-0.6zM438.7 90.5h0.6v0.6h-0.6zM444.6 90.3h0.6v0.6h-0.6zM444.0 91.3h0.6v0.6h-0.6zM443.1 89.4h0.6v0.6h-0.6zM439.1 94.6h0.6v0.6h-0.6zM443.0 90.3h0.6v0.6h-0.6zM446.6 93.5h0.6v0.6h-0.6zM441.7 92.9h0.6v0.6h-0.6zM443.9 89.1h0.6v0.6h-0.6zM441.4 93.0h0.6v0.6h-0.6zM438.6 89.6h0.6v0.6h-0.6zM440.7 93.2h0.6v0.6h-0.6zM440.1 91.9h0.6v0.6h-0.6zM445.5 93.7h0.6v0.6h-0.6zM438.1 91.9h0.6v0.6h-0.6zM441.6 91.7h0.6v0.6h-0.6zM445.7 95.1h0.6v0.6h-0.6zM443.8 90.0h0.6v0.6h-0.6zM435.4 88.9h0.6v0.6h-0.6zM444.4 91.7h0.6v0.6h-0.6zM442.6 86.7h0.6v0.6h-0.6zM451.4 89.5h0.6v0.6h-0.6zM435.1 92.3h0.6v0.6h-0.6zM441.4 87.5h0.6v0.6h-0.6zM439.9 90.0h0.6v0.6h-0.6zM442.9 87.8h0.6v0.6h-0.6zM441.9 93.1h0.6v0.6h-0.6zM442.3 91.4h0.6v0.6h-0.6zM438.5 92.2h0.6v0.6h-0.6zM438.9 86.7h0.6v0.6h-0.6zM449.7 87.6h0.6v0.6h-0.6zM440.2 91.1h0.6v0.6h-0.6zM436.3 91.5h0.6v0.6h-0.6zM442.2 92.1h0.6v0.6h-0.6zM448.2 86.6h0.6v0.6h-0.6zM445.4 93.1h0.6v0.6h-0.6zM441.4 91.0h0.6v0.6h-0.6zM435.0 92.7h0.6v0.6h-0.6zM440.4 91.2h0.6v0.6h-0.6zM441.3 91.2h0.6v0.6h-0.6zM439.3 93.4h0.6v0.6h-0.6zM443.8 90.7h0.6v0.6h-0.6zM451.9 95.7h0.6v0.6h-0.6zM443.9 88.4h0.6v0.6h-0.6zM441.1 90.5h0.6v0.6h-0.6zM440.1 93.0h0.6v0.6h-0.6zM443.7 92.1h0.6v0.6h-0.6zM441.7 94.0h0.6v0.6h-0.6zM447.2 91.2h0.6v0.6h-0.6zM440.9 91.4h0.6v0.6h-0.6zM452.0 91.3h0.6v0.6h-0.6zM441.9 88.7h0.6v0.6h-0.6zM442.2 89.2h0.6v0.6h-0.6zM440.4 91.7h0.6v0.6h-0.6zM440.2 93.0h0.6v0.6h-0.6zM442.7 86.1h0.6v0.6h-0.6zM441.7 94.7h0.6v0.6h-0.6zM440.4 93.5h0.6v0.6h-0.6zM451.0 89.6h0.6v0.6h-0.6zM438.9 93.7h0.6v0.6h-0.6zM451.2 87.3h0.6v0.6h-0.6zM445.1 90.1h0.6v0.6h-0.6zM442.0 88.0h0.6v0.6h-0.6zM435.1 91.5h0.6v0.6h-0.6zM446.6 92.6h0.6v0.6h-0.6zM443.7 88.4h0.6v0.6h-0.6zM438.5 92.1h0.6v0.6h-0.6zM448.7 92.2h0.6v0.6h-0.6zM438.5 89.9h0.6v0.6h-0.6zM443.4 92.5h0.6v0.6h-0.6zM436.5 89.9h0.6v0.6h-0.6zM440.2 91.9h0.6v0.6h-0.6zM456.4 90.3h0.6v0.6h-0.6zM454.7 89.1h0.6v0.6h-0.6zM447.2 87.7h0.6v0.6h-0.6zM443.3 92.8h0.6v0.6h-0.6zM447.5 91.6h0.6v0.6h-0.6zM449.0 93.7h0.6v0.6h-0.6zM443.8 94.4h0.6v0.6h-0.6zM441.3 87.1h0.6v0.6h-0.6zM438.7 86.0h0.6v0.6h-0.6zM445.2 94.7h0.6v0.6h-0.6zM443.9 86.3h0.6v0.6h-0.6zM447.1 90.6h0.6v0.6h-0.6zM444.4 90.0h0.6v0.6h-0.6zM447.8 84.3h0.6v0.6h-0.6zM446.4 85.6h0.6v0.6h-0.6zM452.1 91.0h0.6v0.6h-0.6zM446.2 93.2h0.6v0.6h-0.6zM448.7 90.2h0.6v0.6h-0.6zM449.1 84.5h0.6v0.6h-0.6zM448.0 93.8h0.6v0.6h-0.6zM440.0 90.4h0.6v0.6h-0.6zM448.6 94.0h0.6v0.6h-0.6zM459.0 87.9h0.6v0.6h-0.6zM442.6 94.4h0.6v0.6h-0.6zM451.1 86.9h0.6v0.6h-0.6zM447.8 84.6h0.6v0.6h-0.6zM458.5 86.4h0.6v0.6h-0.6zM451.7 84.2h0.6v0.6h-0.6zM453.5 89.0h0.6v0.6h-0.6zM441.7 90.7h0.6v0.6h-0.6zM449.2 88.0h0.6v0.6h-0.6zM451.3 88.3h0.6v0.6h-0.6zM446.9 90.8h0.6v0.6h-0.6zM448.3 86.9h0.6v0.6h-0.6zM444.9 87.0h0.6v0.6h-0.6zM459.8 84.6h0.6v0.6h-0.6zM446.7 90.8h0.6v0.6h-0.6zM447.5 90.8h0.6v0.6h-0.6zM457.0 88.4h0.6v0.6h-0.6zM448.6 87.1h0.6v0.6h-0.6zM437.7 85.4h0.6v0.6h-0.6zM449.6 92.0h0.6v0.6h-0.6zM446.6 90.1h0.6v0.6h-0.6zM438.2 91.4h0.6v0.6h-0.6zM453.3 84.6h0.6v0.6h-0.6zM444.6 90.7h0.6v0.6h-0.6zM450.0 91.7h0.6v0.6h-0.6zM441.0 92.8h0.6v0.6h-0.6zM438.9 93.0h0.6v0.6h-0.6zM442.6 91.1h0.6v0.6h-0.6zM437.2 91.3h0.6v0.6h-0.6zM451.9 90.1h0.6v0.6h-0.6zM447.5 90.1h0.6v0.6h-0.6zM461.8 86.3h0.6v0.6h-0.6zM452.6 91.0h0.6v0.6h-0.6zM444.2 90.2h0.6v0.6h-0.6zM448.6 88.7h0.6v0.6h-0.6zM448.9 91.9h0.6v0.6h-0.6zM442.5 88.2h0.6v0.6h-0.6zM443.2 87.4h0.6v0.6h-0.6zM448.7 90.5h0.6v0.6h-0.6zM455.5 86.3h0.6v0.6h-0.6zM440.3 88.1h0.6v0.6h-0.6zM455.9 83.5h0.6v0.6h-0.6zM446.3 84.7h0.6v0.6h-0.6zM458.7 92.1h0.6v0.6h-0.6zM440.8 91.4h0.6v0.6h-0.6zM444.3 90.8h0.6v0.6h-0.6zM442.3 87.7h0.6v0.6h-0.6zM447.4 94.4h0.6v0.6h-0.6zM451.0 86.6h0.6v0.6h-0.6zM441.5 87.2h0.6v0.6h-0.6zM436.4 82.5h0.6v0.6h-0.6zM447.5 96.1h0.6v0.6h-0.6zM449.7 95.8h0.6v0.6h-0.6zM447.6 86.1h0.6v0.6h-0.6zM450.6 92.1h0.6v0.6h-0.6zM455.9 89.2h0.6v0.6h-0.6zM448.9 85.9h0.6v0.6h-0.6zM462.1 92.2h0.6v0.6h-0.6zM452.1 88.4h0.6v0.6h-0.6zM448.2 83.2h0.6v0.6h-0.6zM444.8 86.6h0.6v0.6h-0.6zM445.2 91.3h0.6v0.6h-0.6zM452.0 89.1h0.6v0.6h-0.6zM456.3 83.8h0.6v0.6h-0.6zM455.6 89.8h0.6v0.6h-0.6zM451.2 88.6h0.6v0.6h-0.6zM452.3 86.8h0.6v0.6h-0.6zM452.5 88.8h0.6v0.6h-0.6zM452.8 86.4h0.6v0.6h-0.6zM437.4 89.4h0.6v0.6h-0.6zM460.7 90.3h0.6v0.6h-0.6zM453.5 86.1h0.6v0.6h-0.6zM458.5 87.7h0.6v0.6h-0.6zM450.4 93.4h0.6v0.6h-0.6zM461.2 89.9h0.6v0.6h-0.6zM453.1 84.8h0.6v0.6h-0.6zM455.3 83.6h0.6v0.6h-0.6zM449.3 83.2h0.6v0.6h-0.6zM451.9 89.3h0.6v0.6h-0.6zM438.3 89.6h0.6v0.6h-0.6zM444.3 95.6h0.6v0.6h-0.6zM446.3 90.0h0.6v0.6h-0.6zM457.6 92.4h0.6v0.6h-0.6zM445.0 85.2h0.6v0.6h-0.6zM451.7 87.7h0.6v0.6h-0.6zM450.9 87.6h0.6v0.6h-0.6zM444.9 93.6h0.6v0.6h-0.6zM446.5 87.7h0.6v0.6h-0.6zM450.8 92.7h0.6v0.6h-0.6zM444.6 91.0h0.6v0.6h-0.6zM453.7 83.3h0.6v0.6h-0.6zM447.4 87.3h0.6v0.6h-0.6zM451.8 86.4h0.6v0.6h-0.6zM452.1 86.8h0.6v0.6h-0.6zM443.8 89.1h0.6v0.6h-0.6zM451.2 88.2h0.6v0.6h-0.6zM446.8 87.0h0.6v0.6h-0.6zM448.4 93.1h0.6v0.6h-0.6zM446.6 91.9h0.6v0.6h-0.6zM450.5 86.4h0.6v0.6h-0.6zM455.4 84.3h0.6v0.6h-0.6zM453.1 92.5h0.6v0.6h-0.6zM454.2 88.7h0.6v0.6h-0.6zM455.4 95.2h0.6v0.6h-0.6zM442.1 84.9h0.6v0.6h-0.6zM446.5 89.4h0.6v0.6h-0.6zM452.2 89.3h0.6v0.6h-0.6zM442.5 84.3h0.6v0.6h-0.6zM442.0 86.6h0.6v0.6h-0.6zM446.4 86.9h0.6v0.6h-0.6zM455.1 94.6h0.6v0.6h-0.6zM443.4 86.7h0.6v0.6h-0.6zM451.4 91.3h0.6v0.6h-0.6zM456.5 89.5h0.6v0.6h-0.6zM447.0 91.6h0.6v0.6h-0.6zM451.2 87.8h0.6v0.6h-0.6zM442.3 85.7h0.6v0.6h-0.6zM457.5 88.6h0.6v0.6h-0.6zM464.3 86.5h0.6v0.6h-0.6zM445.4 91.8h0.6v0.6h-0.6zM454.9 94.0h0.6v0.6h-0.6zM444.0 90.8h0.6v0.6h-0.6zM472.0 92.9h0.6v0.6h-0.6zM467.5 92.0h0.6v0.6h-0.6zM467.8 90.1h0.6v0.6h-0.6zM464.7 90.3h0.6v0.6h-0.6zM466.9 95.9h0.6v0.6h-0.6zM466.2 90.8h0.6v0.6h-0.6zM466.4 92.6h0.6v0.6h-0.6zM466.7 88.4h0.6v0.6h-0.6zM465.2 91.7h0.6v0.6h-0.6zM465.3 95.9h0.6v0.6h-0.6zM463.7 89.5h0.6v0.6h-0.6zM467.2 93.3h0.6v0.6h-0.6zM462.3 90.6h0.6v0.6h-0.6zM463.1 95.6h0.6v0.6h-0.6zM466.0 92.6h0.6v0.6h-0.6zM462.6 91.5h0.6v0.6h-0.6zM467.3 95.1h0.6v0.6h-0.6zM467.1 92.4h0.6v0.6h-0.6zM467.7 91.5h0.6v0.6h-0.6zM463.3 91.9h0.6v0.6h-0.6zM468.2 94.8h0.6v0.6h-0.6zM464.6 90.1h0.6v0.6h-0.6zM470.3 93.2h0.6v0.6h-0.6zM461.9 90.3h0.6v0.6h-0.6zM467.6 92.7h0.6v0.6h-0.6zM463.3 91.0h0.6v0.6h-0.6zM468.8 94.4h0.6v0.6h-0.6zM468.4 94.4h0.6v0.6h-0.6zM465.8 92.4h0.6v0.6h-0.6zM462.9 94.2h0.6v0.6h-0.6zM468.3 91.3h0.6v0.6h-0.6zM464.5 94.8h0.6v0.6h-0.6zM466.1 93.7h0.6v0.6h-0.6zM467.9 92.4h0.6v0.6h-0.6zM465.3 93.7h0.6v0.6h-0.6zM470.1 91.0h0.6v0.6h-0.6zM468.5 90.3h0.6v0.6h-0.6zM465.3 89.5h0.6v0.6h-0.6zM466.0 94.2h0.6v0.6h-0.6zM465.7 93.5h0.6v0.6h-0.6zM463.9 93.4h0.6v0.6h-0.6zM467.0 92.1h0.6v0.6h-0.6zM466.0 89.9h0.6v0.6h-0.6zM463.8 91.1h0.6v0.6h-0.6zM468.5 92.4h0.6v0.6h-0.6zM465.8 93.7h0.6v0.6h-0.6zM471.9 95.0h0.6v0.6h-0.6zM468.9 90.9h0.6v0.6h-0.6zM468.0 90.4h0.6v0.6h-0.6zM468.4 88.7h0.6v0.6h-0.6zM466.6 88.8h0.6v0.6h-0.6zM466.8 91.6h0.6v0.6h-0.6zM467.9 93.0h0.6v0.6h-0.6zM463.1 90.5h0.6v0.6h-0.6zM463.4 94.2h0.6v0.6h-0.6zM465.5 93.0h0.6v0.6h-0.6zM464.2 91.9h0.6v0.6h-0.6zM468.7 91.2h0.6v0.6h-0.6zM470.0 94.4h0.6v0.6h-0.6zM465.3 91.3h0.6v0.6h-0.6zM467.7 88.5h0.6v0.6h-0.6zM463.4 93.9h0.6v0.6h-0.6zM469.7 91.1h0.6v0.6h-0.6zM463.7 93.1h0.6v0.6h-0.6zM465.1 93.9h0.6v0.6h-0.6zM463.1 92.8h0.6v0.6h-0.6zM464.2 93.0h0.6v0.6h-0.6zM468.8 94.8h0.6v0.6h-0.6zM467.2 93.2h0.6v0.6h-0.6zM469.8 90.2h0.6v0.6h-0.6zM465.7 95.4h0.6v0.6h-0.6zM465.1 92.6h0.6v0.6h-0.6zM463.3 93.8h0.6v0.6h-0.6zM465.5 94.5h0.6v0.6h-0.6zM466.0 91.7h0.6v0.6h-0.6zM463.4 90.3h0.6v0.6h-0.6zM466.6 90.1h0.6v0.6h-0.6zM465.8 92.0h0.6v0.6h-0.6zM466.2 94.2h0.6v0.6h-0.6zM462.9 89.4h0.6v0.6h-0.6zM466.2 91.3h0.6v0.6h-0.6zM466.7 92.1h0.6v0.6h-0.6zM466.9 91.4h0.6v0.6h-0.6zM464.8 92.4h0.6v0.6h-0.6zM466.5 90.1h0.6v0.6h-0.6zM467.9 92.4h0.6v0.6h-0.6zM467.5 94.5h0.6v0.6h-0.6zM463.9 94.1h0.6v0.6h-0.6zM466.3 91.1h0.6v0.6h-0.6zM464.0 88.4h0.6v0.6h-0.6zM470.1 85.8h0.6v0.6h-0.6zM468.1 87.3h0.6v0.6h-0.6zM468.7 94.4h0.6v0.6h-0.6zM471.1 85.4h0.6v0.6h-0.6zM466.8 79.4h0.6v0.6h-0.6zM475.0 91.8h0.6v0.6h-0.6zM471.5 87.0h0.6v0.6h-0.6zM472.3 92.4h0.6v0.6h-0.6zM476.3 85.4h0.6v0.6h-0.6zM470.2 80.9h0.6v0.6h-0.6zM469.4 93.3h0.6v0.6h-0.6zM474.2 88.0h0.6v0.6h-0.6zM471.4 84.6h0.6v0.6h-0.6zM466.9 95.0h0.6v0.6h-0.6zM465.6 86.6h0.6v0.6h-0.6zM471.8 88.5h0.6v0.6h-0.6zM465.9 87.8h0.6v0.6h-0.6zM469.8 91.0h0.6v0.6h-0.6zM464.1 81.5h0.6v0.6h-0.6zM474.9 82.3h0.6v0.6h-0.6zM468.0 85.7h0.6v0.6h-0.6zM463.9 87.9h0.6v0.6h-0.6zM470.6 83.2h0.6v0.6h-0.6zM468.7 87.1h0.6v0.6h-0.6zM467.2 92.1h0.6v0.6h-0.6zM464.5 88.2h0.6v0.6h-0.6zM470.3 81.5h0.6v0.6h-0.6zM464.8 87.2h0.6v0.6h-0.6zM451.5 79.8h0.6v0.6h-0.6zM459.8 89.2h0.6v0.6h-0.6zM442.9 87.2h0.6v0.6h-0.6zM452.4 71.2h0.6v0.6h-0.6zM451.0 87.5h0.6v0.6h-0.6zM479.5 91.6h0.6v0.6h-0.6zM441.5 56.6h0.6v0.6h-0.6zM469.5 82.8h0.6v0.6h-0.6zM489.0 62.7h0.6v0.6h-0.6zM460.3 71.3h0.6v0.6h-0.6zM464.1 80.6h0.6v0.6h-0.6zM462.8 79.1h0.6v0.6h-0.6zM445.4 58.2h0.6v0.6h-0.6zM489.2 62.7h0.6v0.6h-0.6z"/>
<line x1="46.4" y1="36.45" x2="48.6" y2="36.45" stroke="#444" stroke-width="0.6"/>
<line x1="46.4" y1="40.5" x2="48.6" y2="40.5" stroke="#444" stroke-width="0.6"/>
<line x1="46.4" y1="44.55" x2="48.6" y2="44.55" stroke="#444" stroke-width="0.6"/>
<line x1="46.4" y1="52.68" x2="48.6" y2="52.68" stroke="#444" stroke-width="0.6"/>
<line x1="46.4" y1="56.75" x2="48.6" y2="56.75" stroke="#444" stroke-width="0.6"/>
<line x1="46.4" y1="60.83" x2="48.6" y2="60.83" stroke="#444" stroke-width="0.6"/>
<line x1="46.4" y1="68.98" x2="48.6" y2="68.98" stroke="#444" stroke-width="0.6"/>
<line x1="46.4" y1="73.05" x2="48.6" y2="73.05" stroke="#444" stroke-width="0.6"/>
<line x1="46.4" y1="77.12" x2="48.6" y2="77.12" stroke="#444" stroke-width="0.6"/>
<line x1="46.4" y1="85.28" x2="48.6" y2="85.28" stroke="#444" stroke-width="0.6"/>
<line x1="46.4" y1="89.35" x2="48.6" y2="89.35" stroke="#444" stroke-width="0.6"/>
<line x1="46.4" y1="93.42" x2="48.6" y2="93.42" stroke="#444" stroke-width="0.6"/>
<line x1="48.6" y1="32.2" x2="131.4" y2="32.2" stroke="#4a4a4a" stroke-width="0.9"/>
<line x1="48.6" y1="31.6" x2="48.6" y2="99" stroke="#000" stroke-width="2"/>
<line x1="47.6" y1="98" x2="131.4" y2="98" stroke="#000" stroke-width="2"/>
<line x1="74.52" y1="99" x2="74.52" y2="100.4" stroke="#444" stroke-width="0.6"/>
<line x1="78.22" y1="99" x2="78.22" y2="100.4" stroke="#444" stroke-width="0.6"/>
<line x1="80.84" y1="99" x2="80.84" y2="100.4" stroke="#444" stroke-width="0.6"/>
<line x1="82.88" y1="99" x2="82.88" y2="100.4" stroke="#444" stroke-width="0.6"/>
<line x1="84.54" y1="99" x2="84.54" y2="100.4" stroke="#444" stroke-width="0.6"/>
<line x1="85.95" y1="99" x2="85.95" y2="100.4" stroke="#444" stroke-width="0.6"/>
<line x1="87.16" y1="99" x2="87.16" y2="100.4" stroke="#444" stroke-width="0.6"/>
<line x1="88.24" y1="99" x2="88.24" y2="100.4" stroke="#444" stroke-width="0.6"/>
<line x1="95.52" y1="99" x2="95.52" y2="100.4" stroke="#444" stroke-width="0.6"/>
<line x1="99.22" y1="99" x2="99.22" y2="100.4" stroke="#444" stroke-width="0.6"/>
<line x1="101.84" y1="99" x2="101.84" y2="100.4" stroke="#444" stroke-width="0.6"/>
<line x1="103.88" y1="99" x2="103.88" y2="100.4" stroke="#444" stroke-width="0.6"/>
<line x1="105.54" y1="99" x2="105.54" y2="100.4" stroke="#444" stroke-width="0.6"/>
<line x1="106.95" y1="99" x2="106.95" y2="100.4" stroke="#444" stroke-width="0.6"/>
<line x1="108.16" y1="99" x2="108.16" y2="100.4" stroke="#444" stroke-width="0.6"/>
<line x1="109.24" y1="99" x2="109.24" y2="100.4" stroke="#444" stroke-width="0.6"/>
<line x1="116.52" y1="99" x2="116.52" y2="100.4" stroke="#444" stroke-width="0.6"/>
<line x1="120.22" y1="99" x2="120.22" y2="100.4" stroke="#444" stroke-width="0.6"/>
<line x1="122.84" y1="99" x2="122.84" y2="100.4" stroke="#444" stroke-width="0.6"/>
<line x1="124.88" y1="99" x2="124.88" y2="100.4" stroke="#444" stroke-width="0.6"/>
<line x1="126.54" y1="99" x2="126.54" y2="100.4" stroke="#444" stroke-width="0.6"/>
<line x1="127.95" y1="99" x2="127.95" y2="100.4" stroke="#444" stroke-width="0.6"/>
<line x1="129.16" y1="99" x2="129.16" y2="100.4" stroke="#444" stroke-width="0.6"/>
<line x1="130.24" y1="99" x2="130.24" y2="100.4" stroke="#444" stroke-width="0.6"/>
<line x1="68.2" y1="99" x2="68.2" y2="101.3" stroke="#222" stroke-width="0.8"/>
<line x1="89.2" y1="99" x2="89.2" y2="101.3" stroke="#222" stroke-width="0.8"/>
<line x1="110.2" y1="99" x2="110.2" y2="101.3" stroke="#222" stroke-width="0.8"/>
<line x1="131.2" y1="99" x2="131.2" y2="101.3" stroke="#222" stroke-width="0.8"/>
<line x1="45" y1="32.4" x2="48.6" y2="32.4" stroke="#222" stroke-width="0.8"/>
<line x1="45" y1="48.6" x2="48.6" y2="48.6" stroke="#222" stroke-width="0.8"/>
<line x1="45" y1="64.9" x2="48.6" y2="64.9" stroke="#222" stroke-width="0.8"/>
<line x1="45" y1="81.2" x2="48.6" y2="81.2" stroke="#222" stroke-width="0.8"/>
<line x1="45" y1="97.5" x2="48.6" y2="97.5" stroke="#222" stroke-width="0.8"/>
<line x1="53.52" y1="99" x2="53.52" y2="100.4" stroke="#444" stroke-width="0.6"/>
<line x1="57.22" y1="99" x2="57.22" y2="100.4" stroke="#444" stroke-width="0.6"/>
<line x1="59.84" y1="99" x2="59.84" y2="100.4" stroke="#444" stroke-width="0.6"/>
<line x1="61.88" y1="99" x2="61.88" y2="100.4" stroke="#444" stroke-width="0.6"/>
<line x1="63.54" y1="99" x2="63.54" y2="100.4" stroke="#444" stroke-width="0.6"/>
<line x1="64.95" y1="99" x2="64.95" y2="100.4" stroke="#444" stroke-width="0.6"/>
<line x1="66.16" y1="99" x2="66.16" y2="100.4" stroke="#444" stroke-width="0.6"/>
<line x1="67.24" y1="99" x2="67.24" y2="100.4" stroke="#444" stroke-width="0.6"/>
<text x="41.8" y="34.6" font-size="8.4" stroke="#1c1c1c" stroke-width="0.1" text-anchor="end">1024</text>
<text x="41.8" y="50.8" font-size="8.4" stroke="#1c1c1c" stroke-width="0.1" text-anchor="end">768</text>
<text x="41.8" y="67.1" font-size="8.4" stroke="#1c1c1c" stroke-width="0.1" text-anchor="end">512</text>
<text x="41.8" y="83.4" font-size="8.4" stroke="#1c1c1c" stroke-width="0.1" text-anchor="end">256</text>
<text x="41.8" y="99.7" font-size="8.4" stroke="#1c1c1c" stroke-width="0.1" text-anchor="end">0</text>
<text x="62.6" y="112" font-size="7.5" textLength="7.8" lengthAdjust="spacingAndGlyphs" fill="#1c1c1c" stroke="#1c1c1c" stroke-width="0.14">10</text>
<text x="71.1" y="109.5" font-size="4.8" fill="#444">0</text>
<text x="83.6" y="112" font-size="7.5" textLength="7.8" lengthAdjust="spacingAndGlyphs" fill="#1c1c1c" stroke="#1c1c1c" stroke-width="0.14">10</text>
<text x="92.1" y="109.5" font-size="4.8" fill="#444">1</text>
<text x="104.6" y="112" font-size="7.5" textLength="7.8" lengthAdjust="spacingAndGlyphs" fill="#1c1c1c" stroke="#1c1c1c" stroke-width="0.14">10</text>
<text x="113.1" y="109.5" font-size="4.8" fill="#444">2</text>
<text x="125.6" y="112" font-size="7.5" textLength="7.8" lengthAdjust="spacingAndGlyphs" fill="#1c1c1c" stroke="#1c1c1c" stroke-width="0.14">10</text>
<text x="134.1" y="109.5" font-size="4.8" fill="#444">3</text>
<text x="57.8" y="126.2" font-size="10.6" textLength="61.8" lengthAdjust="spacingAndGlyphs" font-weight="bold">CD45-krome orange</text>
<text x="16.5" y="83" font-size="9.6" textLength="34.4" lengthAdjust="spacingAndGlyphs" font-weight="bold" transform="rotate(-90 16.5 83)">SS INT LIN</text>
<line x1="182.7" y1="27.4" x2="258.9" y2="27.4" stroke="#4a4a4a" stroke-width="0.9"/>
<line x1="182.7" y1="26.8" x2="182.7" y2="98.4" stroke="#000" stroke-width="2"/>
<line x1="181.7" y1="97.4" x2="258.9" y2="97.4" stroke="#000" stroke-width="2"/>
<line x1="206.85" y1="98.4" x2="206.85" y2="99.8" stroke="#444" stroke-width="0.6"/>
<line x1="210.04" y1="98.4" x2="210.04" y2="99.8" stroke="#444" stroke-width="0.6"/>
<line x1="212.3" y1="98.4" x2="212.3" y2="99.8" stroke="#444" stroke-width="0.6"/>
<line x1="214.05" y1="98.4" x2="214.05" y2="99.8" stroke="#444" stroke-width="0.6"/>
<line x1="215.48" y1="98.4" x2="215.48" y2="99.8" stroke="#444" stroke-width="0.6"/>
<line x1="216.7" y1="98.4" x2="216.7" y2="99.8" stroke="#444" stroke-width="0.6"/>
<line x1="217.75" y1="98.4" x2="217.75" y2="99.8" stroke="#444" stroke-width="0.6"/>
<line x1="218.67" y1="98.4" x2="218.67" y2="99.8" stroke="#444" stroke-width="0.6"/>
<line x1="225.13" y1="98.4" x2="225.13" y2="99.8" stroke="#444" stroke-width="0.6"/>
<line x1="228.42" y1="98.4" x2="228.42" y2="99.8" stroke="#444" stroke-width="0.6"/>
<line x1="230.76" y1="98.4" x2="230.76" y2="99.8" stroke="#444" stroke-width="0.6"/>
<line x1="232.57" y1="98.4" x2="232.57" y2="99.8" stroke="#444" stroke-width="0.6"/>
<line x1="234.05" y1="98.4" x2="234.05" y2="99.8" stroke="#444" stroke-width="0.6"/>
<line x1="235.3" y1="98.4" x2="235.3" y2="99.8" stroke="#444" stroke-width="0.6"/>
<line x1="236.39" y1="98.4" x2="236.39" y2="99.8" stroke="#444" stroke-width="0.6"/>
<line x1="237.34" y1="98.4" x2="237.34" y2="99.8" stroke="#444" stroke-width="0.6"/>
<line x1="243.8" y1="98.4" x2="243.8" y2="99.8" stroke="#444" stroke-width="0.6"/>
<line x1="247.07" y1="98.4" x2="247.07" y2="99.8" stroke="#444" stroke-width="0.6"/>
<line x1="249.4" y1="98.4" x2="249.4" y2="99.8" stroke="#444" stroke-width="0.6"/>
<line x1="251.2" y1="98.4" x2="251.2" y2="99.8" stroke="#444" stroke-width="0.6"/>
<line x1="252.67" y1="98.4" x2="252.67" y2="99.8" stroke="#444" stroke-width="0.6"/>
<line x1="253.92" y1="98.4" x2="253.92" y2="99.8" stroke="#444" stroke-width="0.6"/>
<line x1="255" y1="98.4" x2="255" y2="99.8" stroke="#444" stroke-width="0.6"/>
<line x1="255.95" y1="98.4" x2="255.95" y2="99.8" stroke="#444" stroke-width="0.6"/>
<line x1="201.4" y1="98.4" x2="201.4" y2="100.7" stroke="#222" stroke-width="0.8"/>
<line x1="219.5" y1="98.4" x2="219.5" y2="100.7" stroke="#222" stroke-width="0.8"/>
<line x1="238.2" y1="98.4" x2="238.2" y2="100.7" stroke="#222" stroke-width="0.8"/>
<line x1="256.8" y1="98.4" x2="256.8" y2="100.7" stroke="#222" stroke-width="0.8"/>
<line x1="179.1" y1="27.7" x2="182.7" y2="27.7" stroke="#222" stroke-width="0.8"/>
<line x1="179.1" y1="45.3" x2="182.7" y2="45.3" stroke="#222" stroke-width="0.8"/>
<line x1="179.1" y1="62.8" x2="182.7" y2="62.8" stroke="#222" stroke-width="0.8"/>
<line x1="179.1" y1="80.2" x2="182.7" y2="80.2" stroke="#222" stroke-width="0.8"/>
<line x1="180.5" y1="40" x2="182.7" y2="40" stroke="#555" stroke-width="0.5"/>
<line x1="180.5" y1="36.9" x2="182.7" y2="36.9" stroke="#555" stroke-width="0.5"/>
<line x1="180.5" y1="34.7" x2="182.7" y2="34.7" stroke="#555" stroke-width="0.5"/>
<line x1="180.5" y1="33" x2="182.7" y2="33" stroke="#555" stroke-width="0.5"/>
<line x1="180.5" y1="31.6" x2="182.7" y2="31.6" stroke="#555" stroke-width="0.5"/>
<line x1="180.5" y1="30.43" x2="182.7" y2="30.43" stroke="#555" stroke-width="0.5"/>
<line x1="180.5" y1="29.41" x2="182.7" y2="29.41" stroke="#555" stroke-width="0.5"/>
<line x1="180.5" y1="28.51" x2="182.7" y2="28.51" stroke="#555" stroke-width="0.5"/>
<line x1="180.5" y1="57.53" x2="182.7" y2="57.53" stroke="#555" stroke-width="0.5"/>
<line x1="180.5" y1="54.45" x2="182.7" y2="54.45" stroke="#555" stroke-width="0.5"/>
<line x1="180.5" y1="52.26" x2="182.7" y2="52.26" stroke="#555" stroke-width="0.5"/>
<line x1="180.5" y1="50.57" x2="182.7" y2="50.57" stroke="#555" stroke-width="0.5"/>
<line x1="180.5" y1="49.18" x2="182.7" y2="49.18" stroke="#555" stroke-width="0.5"/>
<line x1="180.5" y1="48.01" x2="182.7" y2="48.01" stroke="#555" stroke-width="0.5"/>
<line x1="180.5" y1="47" x2="182.7" y2="47" stroke="#555" stroke-width="0.5"/>
<line x1="180.5" y1="46.1" x2="182.7" y2="46.1" stroke="#555" stroke-width="0.5"/>
<line x1="180.5" y1="74.96" x2="182.7" y2="74.96" stroke="#555" stroke-width="0.5"/>
<line x1="180.5" y1="71.9" x2="182.7" y2="71.9" stroke="#555" stroke-width="0.5"/>
<line x1="180.5" y1="69.72" x2="182.7" y2="69.72" stroke="#555" stroke-width="0.5"/>
<line x1="180.5" y1="68.04" x2="182.7" y2="68.04" stroke="#555" stroke-width="0.5"/>
<line x1="180.5" y1="66.66" x2="182.7" y2="66.66" stroke="#555" stroke-width="0.5"/>
<line x1="180.5" y1="65.5" x2="182.7" y2="65.5" stroke="#555" stroke-width="0.5"/>
<line x1="180.5" y1="64.49" x2="182.7" y2="64.49" stroke="#555" stroke-width="0.5"/>
<line x1="180.5" y1="63.6" x2="182.7" y2="63.6" stroke="#555" stroke-width="0.5"/>
<line x1="180.5" y1="92.36" x2="182.7" y2="92.36" stroke="#555" stroke-width="0.5"/>
<line x1="180.5" y1="89.3" x2="182.7" y2="89.3" stroke="#555" stroke-width="0.5"/>
<line x1="180.5" y1="87.12" x2="182.7" y2="87.12" stroke="#555" stroke-width="0.5"/>
<line x1="180.5" y1="85.44" x2="182.7" y2="85.44" stroke="#555" stroke-width="0.5"/>
<line x1="180.5" y1="84.06" x2="182.7" y2="84.06" stroke="#555" stroke-width="0.5"/>
<line x1="180.5" y1="82.9" x2="182.7" y2="82.9" stroke="#555" stroke-width="0.5"/>
<line x1="180.5" y1="81.89" x2="182.7" y2="81.89" stroke="#555" stroke-width="0.5"/>
<line x1="180.5" y1="81" x2="182.7" y2="81" stroke="#555" stroke-width="0.5"/>
<text x="163.8" y="31.1" font-size="7.5" textLength="7.8" lengthAdjust="spacingAndGlyphs" fill="#1c1c1c" stroke="#1c1c1c" stroke-width="0.14">10</text>
<text x="172.3" y="28.6" font-size="4.8" fill="#444">3</text>
<text x="163.8" y="48.8" font-size="7.5" textLength="7.8" lengthAdjust="spacingAndGlyphs" fill="#1c1c1c" stroke="#1c1c1c" stroke-width="0.14">10</text>
<text x="172.3" y="46.3" font-size="4.8" fill="#444">2</text>
<text x="163.8" y="66.8" font-size="7.5" textLength="7.8" lengthAdjust="spacingAndGlyphs" fill="#1c1c1c" stroke="#1c1c1c" stroke-width="0.14">10</text>
<text x="172.3" y="64.3" font-size="4.8" fill="#444">1</text>
<text x="163.8" y="84.5" font-size="7.5" textLength="7.8" lengthAdjust="spacingAndGlyphs" fill="#1c1c1c" stroke="#1c1c1c" stroke-width="0.14">10</text>
<text x="172.3" y="82" font-size="4.8" fill="#444">0</text>
<text x="196.6" y="111.8" font-size="7.5" textLength="7.8" lengthAdjust="spacingAndGlyphs" fill="#1c1c1c" stroke="#1c1c1c" stroke-width="0.14">10</text>
<text x="205.1" y="109.3" font-size="4.8" fill="#444">0</text>
<text x="214.7" y="111.8" font-size="7.5" textLength="7.8" lengthAdjust="spacingAndGlyphs" fill="#1c1c1c" stroke="#1c1c1c" stroke-width="0.14">10</text>
<text x="223.2" y="109.3" font-size="4.8" fill="#444">1</text>
<text x="233.4" y="111.8" font-size="7.5" textLength="7.8" lengthAdjust="spacingAndGlyphs" fill="#1c1c1c" stroke="#1c1c1c" stroke-width="0.14">10</text>
<text x="241.9" y="109.3" font-size="4.8" fill="#444">2</text>
<text x="252" y="111.8" font-size="7.5" textLength="7.8" lengthAdjust="spacingAndGlyphs" fill="#1c1c1c" stroke="#1c1c1c" stroke-width="0.14">10</text>
<text x="260.5" y="109.3" font-size="4.8" fill="#444">3</text>
<text x="202.9" y="126.2" font-size="10.6" textLength="29.8" lengthAdjust="spacingAndGlyphs" font-weight="bold">CD19-PC7</text>
<text x="157.1" y="80.1" font-size="10.4" textLength="32.8" lengthAdjust="spacingAndGlyphs" font-weight="bold" transform="rotate(-90 157.1 80.1)">CD22-APC</text>
<circle cx="193.9" cy="64" r="9.6" fill="none" stroke="#d03a3a" stroke-width="0.9"/>
<line x1="201.4" y1="27.4" x2="201.4" y2="97.4" stroke="#333" stroke-width="0.9"/>
<line x1="182.7" y1="79.6" x2="258.9" y2="79.6" stroke="#333" stroke-width="0.9"/>
<text x="184.2" y="34.8" font-size="8.4" textLength="26.8" lengthAdjust="spacingAndGlyphs" fill="#2a3550">18.15%</text>
<text x="259.2" y="34.8" font-size="8.4" text-anchor="end" textLength="23.3" lengthAdjust="spacingAndGlyphs" fill="#2a3550">3.61%</text>
<text x="183.9" y="94" font-size="8.4" textLength="26.6" lengthAdjust="spacingAndGlyphs" fill="#2a3550">72.52%</text>
<text x="259.2" y="94" font-size="8.4" text-anchor="end" textLength="23.3" lengthAdjust="spacingAndGlyphs" fill="#2a3550">5.71%</text>
<line x1="307.7" y1="28.1" x2="382.6" y2="28.1" stroke="#4a4a4a" stroke-width="0.9"/>
<line x1="307.7" y1="27.5" x2="307.7" y2="98.4" stroke="#000" stroke-width="2"/>
<line x1="306.7" y1="97.4" x2="382.6" y2="97.4" stroke="#000" stroke-width="2"/>
<line x1="331.95" y1="98.4" x2="331.95" y2="99.8" stroke="#444" stroke-width="0.6"/>
<line x1="335.14" y1="98.4" x2="335.14" y2="99.8" stroke="#444" stroke-width="0.6"/>
<line x1="337.4" y1="98.4" x2="337.4" y2="99.8" stroke="#444" stroke-width="0.6"/>
<line x1="339.15" y1="98.4" x2="339.15" y2="99.8" stroke="#444" stroke-width="0.6"/>
<line x1="340.58" y1="98.4" x2="340.58" y2="99.8" stroke="#444" stroke-width="0.6"/>
<line x1="341.8" y1="98.4" x2="341.8" y2="99.8" stroke="#444" stroke-width="0.6"/>
<line x1="342.85" y1="98.4" x2="342.85" y2="99.8" stroke="#444" stroke-width="0.6"/>
<line x1="343.77" y1="98.4" x2="343.77" y2="99.8" stroke="#444" stroke-width="0.6"/>
<line x1="350.17" y1="98.4" x2="350.17" y2="99.8" stroke="#444" stroke-width="0.6"/>
<line x1="353.43" y1="98.4" x2="353.43" y2="99.8" stroke="#444" stroke-width="0.6"/>
<line x1="355.74" y1="98.4" x2="355.74" y2="99.8" stroke="#444" stroke-width="0.6"/>
<line x1="357.53" y1="98.4" x2="357.53" y2="99.8" stroke="#444" stroke-width="0.6"/>
<line x1="359" y1="98.4" x2="359" y2="99.8" stroke="#444" stroke-width="0.6"/>
<line x1="360.23" y1="98.4" x2="360.23" y2="99.8" stroke="#444" stroke-width="0.6"/>
<line x1="361.31" y1="98.4" x2="361.31" y2="99.8" stroke="#444" stroke-width="0.6"/>
<line x1="362.25" y1="98.4" x2="362.25" y2="99.8" stroke="#444" stroke-width="0.6"/>
<line x1="368.85" y1="98.4" x2="368.85" y2="99.8" stroke="#444" stroke-width="0.6"/>
<line x1="372.21" y1="98.4" x2="372.21" y2="99.8" stroke="#444" stroke-width="0.6"/>
<line x1="374.6" y1="98.4" x2="374.6" y2="99.8" stroke="#444" stroke-width="0.6"/>
<line x1="376.45" y1="98.4" x2="376.45" y2="99.8" stroke="#444" stroke-width="0.6"/>
<line x1="377.96" y1="98.4" x2="377.96" y2="99.8" stroke="#444" stroke-width="0.6"/>
<line x1="379.24" y1="98.4" x2="379.24" y2="99.8" stroke="#444" stroke-width="0.6"/>
<line x1="380.35" y1="98.4" x2="380.35" y2="99.8" stroke="#444" stroke-width="0.6"/>
<line x1="381.33" y1="98.4" x2="381.33" y2="99.8" stroke="#444" stroke-width="0.6"/>
<line x1="326.5" y1="98.4" x2="326.5" y2="100.7" stroke="#222" stroke-width="0.8"/>
<line x1="344.6" y1="98.4" x2="344.6" y2="100.7" stroke="#222" stroke-width="0.8"/>
<line x1="363.1" y1="98.4" x2="363.1" y2="100.7" stroke="#222" stroke-width="0.8"/>
<line x1="382.2" y1="98.4" x2="382.2" y2="100.7" stroke="#222" stroke-width="0.8"/>
<line x1="304.1" y1="28.6" x2="307.7" y2="28.6" stroke="#222" stroke-width="0.8"/>
<line x1="304.1" y1="46" x2="307.7" y2="46" stroke="#222" stroke-width="0.8"/>
<line x1="304.1" y1="63.3" x2="307.7" y2="63.3" stroke="#222" stroke-width="0.8"/>
<line x1="304.1" y1="80.7" x2="307.7" y2="80.7" stroke="#222" stroke-width="0.8"/>
<line x1="305.5" y1="40.76" x2="307.7" y2="40.76" stroke="#555" stroke-width="0.5"/>
<line x1="305.5" y1="37.7" x2="307.7" y2="37.7" stroke="#555" stroke-width="0.5"/>
<line x1="305.5" y1="35.52" x2="307.7" y2="35.52" stroke="#555" stroke-width="0.5"/>
<line x1="305.5" y1="33.84" x2="307.7" y2="33.84" stroke="#555" stroke-width="0.5"/>
<line x1="305.5" y1="32.46" x2="307.7" y2="32.46" stroke="#555" stroke-width="0.5"/>
<line x1="305.5" y1="31.3" x2="307.7" y2="31.3" stroke="#555" stroke-width="0.5"/>
<line x1="305.5" y1="30.29" x2="307.7" y2="30.29" stroke="#555" stroke-width="0.5"/>
<line x1="305.5" y1="29.4" x2="307.7" y2="29.4" stroke="#555" stroke-width="0.5"/>
<line x1="305.5" y1="58.09" x2="307.7" y2="58.09" stroke="#555" stroke-width="0.5"/>
<line x1="305.5" y1="55.05" x2="307.7" y2="55.05" stroke="#555" stroke-width="0.5"/>
<line x1="305.5" y1="52.88" x2="307.7" y2="52.88" stroke="#555" stroke-width="0.5"/>
<line x1="305.5" y1="51.21" x2="307.7" y2="51.21" stroke="#555" stroke-width="0.5"/>
<line x1="305.5" y1="49.84" x2="307.7" y2="49.84" stroke="#555" stroke-width="0.5"/>
<line x1="305.5" y1="48.68" x2="307.7" y2="48.68" stroke="#555" stroke-width="0.5"/>
<line x1="305.5" y1="47.68" x2="307.7" y2="47.68" stroke="#555" stroke-width="0.5"/>
<line x1="305.5" y1="46.79" x2="307.7" y2="46.79" stroke="#555" stroke-width="0.5"/>
<line x1="305.5" y1="75.46" x2="307.7" y2="75.46" stroke="#555" stroke-width="0.5"/>
<line x1="305.5" y1="72.4" x2="307.7" y2="72.4" stroke="#555" stroke-width="0.5"/>
<line x1="305.5" y1="70.22" x2="307.7" y2="70.22" stroke="#555" stroke-width="0.5"/>
<line x1="305.5" y1="68.54" x2="307.7" y2="68.54" stroke="#555" stroke-width="0.5"/>
<line x1="305.5" y1="67.16" x2="307.7" y2="67.16" stroke="#555" stroke-width="0.5"/>
<line x1="305.5" y1="66" x2="307.7" y2="66" stroke="#555" stroke-width="0.5"/>
<line x1="305.5" y1="64.99" x2="307.7" y2="64.99" stroke="#555" stroke-width="0.5"/>
<line x1="305.5" y1="64.1" x2="307.7" y2="64.1" stroke="#555" stroke-width="0.5"/>
<line x1="305.5" y1="92.86" x2="307.7" y2="92.86" stroke="#555" stroke-width="0.5"/>
<line x1="305.5" y1="89.8" x2="307.7" y2="89.8" stroke="#555" stroke-width="0.5"/>
<line x1="305.5" y1="87.62" x2="307.7" y2="87.62" stroke="#555" stroke-width="0.5"/>
<line x1="305.5" y1="85.94" x2="307.7" y2="85.94" stroke="#555" stroke-width="0.5"/>
<line x1="305.5" y1="84.56" x2="307.7" y2="84.56" stroke="#555" stroke-width="0.5"/>
<line x1="305.5" y1="83.4" x2="307.7" y2="83.4" stroke="#555" stroke-width="0.5"/>
<line x1="305.5" y1="82.39" x2="307.7" y2="82.39" stroke="#555" stroke-width="0.5"/>
<line x1="305.5" y1="81.5" x2="307.7" y2="81.5" stroke="#555" stroke-width="0.5"/>
<text x="289.1" y="32.4" font-size="7.5" textLength="7.8" lengthAdjust="spacingAndGlyphs" fill="#1c1c1c" stroke="#1c1c1c" stroke-width="0.14">10</text>
<text x="297.6" y="29.9" font-size="4.8" fill="#444">3</text>
<text x="289.1" y="49.5" font-size="7.5" textLength="7.8" lengthAdjust="spacingAndGlyphs" fill="#1c1c1c" stroke="#1c1c1c" stroke-width="0.14">10</text>
<text x="297.6" y="47" font-size="4.8" fill="#444">2</text>
<text x="289.1" y="66.7" font-size="7.5" textLength="7.8" lengthAdjust="spacingAndGlyphs" fill="#1c1c1c" stroke="#1c1c1c" stroke-width="0.14">10</text>
<text x="297.6" y="64.2" font-size="4.8" fill="#444">1</text>
<text x="289.1" y="83.8" font-size="7.5" textLength="7.8" lengthAdjust="spacingAndGlyphs" fill="#1c1c1c" stroke="#1c1c1c" stroke-width="0.14">10</text>
<text x="297.6" y="81.3" font-size="4.8" fill="#444">0</text>
<text x="321.7" y="111.5" font-size="7.5" textLength="7.8" lengthAdjust="spacingAndGlyphs" fill="#1c1c1c" stroke="#1c1c1c" stroke-width="0.14">10</text>
<text x="330.2" y="109" font-size="4.8" fill="#444">0</text>
<text x="339.8" y="111.5" font-size="7.5" textLength="7.8" lengthAdjust="spacingAndGlyphs" fill="#1c1c1c" stroke="#1c1c1c" stroke-width="0.14">10</text>
<text x="348.3" y="109" font-size="4.8" fill="#444">1</text>
<text x="358.3" y="111.5" font-size="7.5" textLength="7.8" lengthAdjust="spacingAndGlyphs" fill="#1c1c1c" stroke="#1c1c1c" stroke-width="0.14">10</text>
<text x="366.8" y="109" font-size="4.8" fill="#444">2</text>
<text x="377.4" y="111.5" font-size="7.5" textLength="7.8" lengthAdjust="spacingAndGlyphs" fill="#1c1c1c" stroke="#1c1c1c" stroke-width="0.14">10</text>
<text x="385.9" y="109" font-size="4.8" fill="#444">3</text>
<text x="327.7" y="126.2" font-size="10.6" textLength="32.5" lengthAdjust="spacingAndGlyphs" font-weight="bold">CD22-APC</text>
<text x="282.8" y="92.2" font-size="10.4" textLength="55.9" lengthAdjust="spacingAndGlyphs" font-weight="bold" transform="rotate(-90 282.8 92.2)">CD34-APC/AF700</text>
<circle cx="344.3" cy="63.2" r="10.6" fill="none" stroke="#d03a3a" stroke-width="0.9"/>
<line x1="433.6" y1="29.5" x2="506.9" y2="29.5" stroke="#4a4a4a" stroke-width="0.9"/>
<line x1="433.6" y1="28.9" x2="433.6" y2="98.4" stroke="#000" stroke-width="2"/>
<line x1="432.6" y1="97.4" x2="506.9" y2="97.4" stroke="#000" stroke-width="2"/>
<line x1="457.09" y1="98.4" x2="457.09" y2="99.8" stroke="#444" stroke-width="0.6"/>
<line x1="460.42" y1="98.4" x2="460.42" y2="99.8" stroke="#444" stroke-width="0.6"/>
<line x1="462.78" y1="98.4" x2="462.78" y2="99.8" stroke="#444" stroke-width="0.6"/>
<line x1="464.61" y1="98.4" x2="464.61" y2="99.8" stroke="#444" stroke-width="0.6"/>
<line x1="466.11" y1="98.4" x2="466.11" y2="99.8" stroke="#444" stroke-width="0.6"/>
<line x1="467.37" y1="98.4" x2="467.37" y2="99.8" stroke="#444" stroke-width="0.6"/>
<line x1="468.47" y1="98.4" x2="468.47" y2="99.8" stroke="#444" stroke-width="0.6"/>
<line x1="469.44" y1="98.4" x2="469.44" y2="99.8" stroke="#444" stroke-width="0.6"/>
<line x1="475.69" y1="98.4" x2="475.69" y2="99.8" stroke="#444" stroke-width="0.6"/>
<line x1="478.84" y1="98.4" x2="478.84" y2="99.8" stroke="#444" stroke-width="0.6"/>
<line x1="481.08" y1="98.4" x2="481.08" y2="99.8" stroke="#444" stroke-width="0.6"/>
<line x1="482.81" y1="98.4" x2="482.81" y2="99.8" stroke="#444" stroke-width="0.6"/>
<line x1="484.23" y1="98.4" x2="484.23" y2="99.8" stroke="#444" stroke-width="0.6"/>
<line x1="485.43" y1="98.4" x2="485.43" y2="99.8" stroke="#444" stroke-width="0.6"/>
<line x1="486.47" y1="98.4" x2="486.47" y2="99.8" stroke="#444" stroke-width="0.6"/>
<line x1="487.38" y1="98.4" x2="487.38" y2="99.8" stroke="#444" stroke-width="0.6"/>
<line x1="493.62" y1="98.4" x2="493.62" y2="99.8" stroke="#444" stroke-width="0.6"/>
<line x1="496.79" y1="98.4" x2="496.79" y2="99.8" stroke="#444" stroke-width="0.6"/>
<line x1="499.04" y1="98.4" x2="499.04" y2="99.8" stroke="#444" stroke-width="0.6"/>
<line x1="500.78" y1="98.4" x2="500.78" y2="99.8" stroke="#444" stroke-width="0.6"/>
<line x1="502.21" y1="98.4" x2="502.21" y2="99.8" stroke="#444" stroke-width="0.6"/>
<line x1="503.41" y1="98.4" x2="503.41" y2="99.8" stroke="#444" stroke-width="0.6"/>
<line x1="504.46" y1="98.4" x2="504.46" y2="99.8" stroke="#444" stroke-width="0.6"/>
<line x1="505.38" y1="98.4" x2="505.38" y2="99.8" stroke="#444" stroke-width="0.6"/>
<line x1="451.4" y1="98.4" x2="451.4" y2="100.7" stroke="#222" stroke-width="0.8"/>
<line x1="470.3" y1="98.4" x2="470.3" y2="100.7" stroke="#222" stroke-width="0.8"/>
<line x1="488.2" y1="98.4" x2="488.2" y2="100.7" stroke="#222" stroke-width="0.8"/>
<line x1="506.2" y1="98.4" x2="506.2" y2="100.7" stroke="#222" stroke-width="0.8"/>
<line x1="430" y1="29.7" x2="433.6" y2="29.7" stroke="#222" stroke-width="0.8"/>
<line x1="430" y1="46.8" x2="433.6" y2="46.8" stroke="#222" stroke-width="0.8"/>
<line x1="430" y1="63.8" x2="433.6" y2="63.8" stroke="#222" stroke-width="0.8"/>
<line x1="430" y1="80.9" x2="433.6" y2="80.9" stroke="#222" stroke-width="0.8"/>
<line x1="431.4" y1="41.65" x2="433.6" y2="41.65" stroke="#555" stroke-width="0.5"/>
<line x1="431.4" y1="38.64" x2="433.6" y2="38.64" stroke="#555" stroke-width="0.5"/>
<line x1="431.4" y1="36.5" x2="433.6" y2="36.5" stroke="#555" stroke-width="0.5"/>
<line x1="431.4" y1="34.85" x2="433.6" y2="34.85" stroke="#555" stroke-width="0.5"/>
<line x1="431.4" y1="33.49" x2="433.6" y2="33.49" stroke="#555" stroke-width="0.5"/>
<line x1="431.4" y1="32.35" x2="433.6" y2="32.35" stroke="#555" stroke-width="0.5"/>
<line x1="431.4" y1="31.36" x2="433.6" y2="31.36" stroke="#555" stroke-width="0.5"/>
<line x1="431.4" y1="30.48" x2="433.6" y2="30.48" stroke="#555" stroke-width="0.5"/>
<line x1="431.4" y1="58.68" x2="433.6" y2="58.68" stroke="#555" stroke-width="0.5"/>
<line x1="431.4" y1="55.69" x2="433.6" y2="55.69" stroke="#555" stroke-width="0.5"/>
<line x1="431.4" y1="53.56" x2="433.6" y2="53.56" stroke="#555" stroke-width="0.5"/>
<line x1="431.4" y1="51.92" x2="433.6" y2="51.92" stroke="#555" stroke-width="0.5"/>
<line x1="431.4" y1="50.57" x2="433.6" y2="50.57" stroke="#555" stroke-width="0.5"/>
<line x1="431.4" y1="49.43" x2="433.6" y2="49.43" stroke="#555" stroke-width="0.5"/>
<line x1="431.4" y1="48.45" x2="433.6" y2="48.45" stroke="#555" stroke-width="0.5"/>
<line x1="431.4" y1="47.58" x2="433.6" y2="47.58" stroke="#555" stroke-width="0.5"/>
<line x1="431.4" y1="75.75" x2="433.6" y2="75.75" stroke="#555" stroke-width="0.5"/>
<line x1="431.4" y1="72.74" x2="433.6" y2="72.74" stroke="#555" stroke-width="0.5"/>
<line x1="431.4" y1="70.6" x2="433.6" y2="70.6" stroke="#555" stroke-width="0.5"/>
<line x1="431.4" y1="68.95" x2="433.6" y2="68.95" stroke="#555" stroke-width="0.5"/>
<line x1="431.4" y1="67.59" x2="433.6" y2="67.59" stroke="#555" stroke-width="0.5"/>
<line x1="431.4" y1="66.45" x2="433.6" y2="66.45" stroke="#555" stroke-width="0.5"/>
<line x1="431.4" y1="65.46" x2="433.6" y2="65.46" stroke="#555" stroke-width="0.5"/>
<line x1="431.4" y1="64.58" x2="433.6" y2="64.58" stroke="#555" stroke-width="0.5"/>
<line x1="431.4" y1="92.85" x2="433.6" y2="92.85" stroke="#555" stroke-width="0.5"/>
<line x1="431.4" y1="89.84" x2="433.6" y2="89.84" stroke="#555" stroke-width="0.5"/>
<line x1="431.4" y1="87.7" x2="433.6" y2="87.7" stroke="#555" stroke-width="0.5"/>
<line x1="431.4" y1="86.05" x2="433.6" y2="86.05" stroke="#555" stroke-width="0.5"/>
<line x1="431.4" y1="84.69" x2="433.6" y2="84.69" stroke="#555" stroke-width="0.5"/>
<line x1="431.4" y1="83.55" x2="433.6" y2="83.55" stroke="#555" stroke-width="0.5"/>
<line x1="431.4" y1="82.56" x2="433.6" y2="82.56" stroke="#555" stroke-width="0.5"/>
<line x1="431.4" y1="81.68" x2="433.6" y2="81.68" stroke="#555" stroke-width="0.5"/>
<text x="414.7" y="33.3" font-size="7.5" textLength="7.8" lengthAdjust="spacingAndGlyphs" fill="#1c1c1c" stroke="#1c1c1c" stroke-width="0.14">10</text>
<text x="423.2" y="30.8" font-size="4.8" fill="#444">3</text>
<text x="414.7" y="50.4" font-size="7.5" textLength="7.8" lengthAdjust="spacingAndGlyphs" fill="#1c1c1c" stroke="#1c1c1c" stroke-width="0.14">10</text>
<text x="423.2" y="47.9" font-size="4.8" fill="#444">2</text>
<text x="414.7" y="67.6" font-size="7.5" textLength="7.8" lengthAdjust="spacingAndGlyphs" fill="#1c1c1c" stroke="#1c1c1c" stroke-width="0.14">10</text>
<text x="423.2" y="65.1" font-size="4.8" fill="#444">1</text>
<text x="414.7" y="84.5" font-size="7.5" textLength="7.8" lengthAdjust="spacingAndGlyphs" fill="#1c1c1c" stroke="#1c1c1c" stroke-width="0.14">10</text>
<text x="423.2" y="82" font-size="4.8" fill="#444">0</text>
<text x="446.6" y="111.5" font-size="7.5" textLength="7.8" lengthAdjust="spacingAndGlyphs" fill="#1c1c1c" stroke="#1c1c1c" stroke-width="0.14">10</text>
<text x="455.1" y="109" font-size="4.8" fill="#444">0</text>
<text x="465.5" y="111.5" font-size="7.5" textLength="7.8" lengthAdjust="spacingAndGlyphs" fill="#1c1c1c" stroke="#1c1c1c" stroke-width="0.14">10</text>
<text x="474" y="109" font-size="4.8" fill="#444">1</text>
<text x="483.4" y="111.5" font-size="7.5" textLength="7.8" lengthAdjust="spacingAndGlyphs" fill="#1c1c1c" stroke="#1c1c1c" stroke-width="0.14">10</text>
<text x="491.9" y="109" font-size="4.8" fill="#444">2</text>
<text x="501.4" y="111.5" font-size="7.5" textLength="7.8" lengthAdjust="spacingAndGlyphs" fill="#1c1c1c" stroke="#1c1c1c" stroke-width="0.14">10</text>
<text x="509.9" y="109" font-size="4.8" fill="#444">3</text>
<text x="453" y="126.2" font-size="10.6" textLength="32.2" lengthAdjust="spacingAndGlyphs" font-weight="bold">CD22-APC</text>
<text x="408" y="79.3" font-size="10.4" textLength="27.8" lengthAdjust="spacingAndGlyphs" font-weight="bold" transform="rotate(-90 408 79.3)">CD24-PE</text>
<circle cx="470.4" cy="90.4" r="10" fill="none" stroke="#d03a3a" stroke-width="0.9"/>
<line x1="53.3" y1="160.8" x2="53.3" y2="274.1" stroke="#1a1a1a" stroke-width="1.5"/>
<line x1="49.9" y1="273.5" x2="53.3" y2="273.5" stroke="#1a1a1a" stroke-width="1.2"/>
<text x="46.4" y="276.6" font-size="8.6" stroke="#1c1c1c" stroke-width="0.1" text-anchor="end">0</text>
<line x1="49.9" y1="251.44" x2="53.3" y2="251.44" stroke="#1a1a1a" stroke-width="1.2"/>
<text x="46.4" y="254.54" font-size="8.6" stroke="#1c1c1c" stroke-width="0.1" text-anchor="end">5000</text>
<line x1="49.9" y1="229.38" x2="53.3" y2="229.38" stroke="#1a1a1a" stroke-width="1.2"/>
<text x="46.4" y="232.48" font-size="8.6" stroke="#1c1c1c" stroke-width="0.1" text-anchor="end">10000</text>
<line x1="49.9" y1="207.32" x2="53.3" y2="207.32" stroke="#1a1a1a" stroke-width="1.2"/>
<text x="46.4" y="210.42" font-size="8.6" stroke="#1c1c1c" stroke-width="0.1" text-anchor="end">15000</text>
<line x1="49.9" y1="185.26" x2="53.3" y2="185.26" stroke="#1a1a1a" stroke-width="1.2"/>
<text x="46.4" y="188.36" font-size="8.6" stroke="#1c1c1c" stroke-width="0.1" text-anchor="end">20000</text>
<line x1="49.9" y1="163.2" x2="53.3" y2="163.2" stroke="#1a1a1a" stroke-width="1.2"/>
<text x="46.4" y="166.3" font-size="8.6" stroke="#1c1c1c" stroke-width="0.1" text-anchor="end">25000</text>
<line x1="50.1" y1="273.5" x2="217.8" y2="273.5" stroke="#111" stroke-width="1.5"/>
<line x1="65.1" y1="270" x2="65.1" y2="268.6" stroke="#1e1e1e" stroke-width="1.1"/>
<line x1="61.6" y1="268.6" x2="68.6" y2="268.6" stroke="#1e1e1e" stroke-width="1.4"/>
<rect x="58.5" y="270" width="13.2" height="3.5" fill="#a00028"/>
<line x1="65.1" y1="273.5" x2="65.1" y2="276.5" stroke="#222" stroke-width="1.1"/>
<line x1="82.8" y1="270" x2="82.8" y2="268.6" stroke="#1e1e1e" stroke-width="1.1"/>
<line x1="79.3" y1="268.6" x2="86.3" y2="268.6" stroke="#1e1e1e" stroke-width="1.4"/>
<rect x="76.2" y="270" width="13.2" height="3.5" fill="#a00028"/>
<line x1="82.8" y1="273.5" x2="82.8" y2="276.5" stroke="#222" stroke-width="1.1"/>
<line x1="100.5" y1="270" x2="100.5" y2="268.6" stroke="#1e1e1e" stroke-width="1.1"/>
<line x1="97" y1="268.6" x2="104" y2="268.6" stroke="#1e1e1e" stroke-width="1.4"/>
<rect x="93.9" y="270" width="13.2" height="3.5" fill="#a00028"/>
<line x1="100.5" y1="273.5" x2="100.5" y2="276.5" stroke="#222" stroke-width="1.1"/>
<line x1="118.2" y1="270" x2="118.2" y2="268.6" stroke="#1e1e1e" stroke-width="1.1"/>
<line x1="114.7" y1="268.6" x2="121.7" y2="268.6" stroke="#1e1e1e" stroke-width="1.4"/>
<rect x="111.6" y="270" width="13.2" height="3.5" fill="#a00028"/>
<line x1="118.2" y1="273.5" x2="118.2" y2="276.5" stroke="#222" stroke-width="1.1"/>
<line x1="135.9" y1="269.2" x2="135.9" y2="267.6" stroke="#1e1e1e" stroke-width="1.1"/>
<line x1="132.4" y1="267.6" x2="139.4" y2="267.6" stroke="#1e1e1e" stroke-width="1.4"/>
<rect x="129.3" y="269.2" width="13.2" height="4.3" fill="#a00028"/>
<line x1="135.9" y1="273.5" x2="135.9" y2="276.5" stroke="#222" stroke-width="1.1"/>
<line x1="153.6" y1="264.6" x2="153.6" y2="263.8" stroke="#1e1e1e" stroke-width="1.1"/>
<line x1="150.1" y1="263.8" x2="157.1" y2="263.8" stroke="#1e1e1e" stroke-width="1.4"/>
<rect x="147" y="264.6" width="13.2" height="8.9" fill="#a00028"/>
<line x1="153.6" y1="273.5" x2="153.6" y2="276.5" stroke="#222" stroke-width="1.1"/>
<line x1="171.3" y1="249.9" x2="171.3" y2="246.8" stroke="#1e1e1e" stroke-width="1.1"/>
<line x1="167.8" y1="246.8" x2="174.8" y2="246.8" stroke="#1e1e1e" stroke-width="1.4"/>
<rect x="164.7" y="249.9" width="13.2" height="23.6" fill="#a00028"/>
<line x1="171.3" y1="273.5" x2="171.3" y2="276.5" stroke="#222" stroke-width="1.1"/>
<line x1="189" y1="190.9" x2="189" y2="178" stroke="#1e1e1e" stroke-width="1.1"/>
<line x1="185.5" y1="178" x2="192.5" y2="178" stroke="#1e1e1e" stroke-width="1.4"/>
<rect x="182.4" y="190.9" width="13.2" height="82.6" fill="#a00028"/>
<line x1="189" y1="273.5" x2="189" y2="276.5" stroke="#222" stroke-width="1.1"/>
<line x1="206.7" y1="234.9" x2="206.7" y2="206.4" stroke="#1e1e1e" stroke-width="1.1"/>
<line x1="203.2" y1="206.4" x2="210.2" y2="206.4" stroke="#1e1e1e" stroke-width="1.4"/>
<rect x="200.1" y="234.9" width="13.2" height="38.6" fill="#a00028"/>
<line x1="206.7" y1="273.5" x2="206.7" y2="276.5" stroke="#222" stroke-width="1.1"/>
<text x="153.6" y="263.2" font-size="7.6" stroke="#111" stroke-width="0.3" text-anchor="middle" fill="#111">**</text>
<text x="171.3" y="246.2" font-size="7.6" stroke="#111" stroke-width="0.3" text-anchor="middle" fill="#111">***</text>
<text x="189" y="177.4" font-size="7.6" stroke="#111" stroke-width="0.3" text-anchor="middle" fill="#111">***</text>
<text x="206.4" y="202.6" font-size="7.6" text-anchor="middle">0.1</text>
<text x="69.4" y="284.4" font-size="8.2" stroke="#1c1c1c" stroke-width="0.12" text-anchor="end" transform="rotate(-45 69.4 284.4)">0ug</text>
<text x="87.1" y="284.4" font-size="8.2" stroke="#1c1c1c" stroke-width="0.12" text-anchor="end" transform="rotate(-45 87.1 284.4)">0.001ug</text>
<text x="104.8" y="284.4" font-size="8.2" stroke="#1c1c1c" stroke-width="0.12" text-anchor="end" transform="rotate(-45 104.8 284.4)">0.005ug</text>
<text x="122.5" y="284.4" font-size="8.2" stroke="#1c1c1c" stroke-width="0.12" text-anchor="end" transform="rotate(-45 122.5 284.4)">0.02ug</text>
<text x="140.2" y="284.4" font-size="8.2" stroke="#1c1c1c" stroke-width="0.12" text-anchor="end" transform="rotate(-45 140.2 284.4)">0.1ug</text>
<text x="157.9" y="284.4" font-size="8.2" stroke="#1c1c1c" stroke-width="0.12" text-anchor="end" transform="rotate(-45 157.9 284.4)">0.5ug</text>
<text x="175.6" y="284.4" font-size="8.2" stroke="#1c1c1c" stroke-width="0.12" text-anchor="end" transform="rotate(-45 175.6 284.4)">2ug</text>
<text x="193.3" y="284.4" font-size="8.2" stroke="#1c1c1c" stroke-width="0.12" text-anchor="end" transform="rotate(-45 193.3 284.4)">10ug</text>
<text x="211" y="284.4" font-size="8.2" stroke="#1c1c1c" stroke-width="0.12" text-anchor="end" transform="rotate(-45 211 284.4)">Nalm6</text>
<text x="15.6" y="253.6" font-size="9.6" stroke="#1c1c1c" stroke-width="0.32" textLength="74.4" lengthAdjust="spacingAndGlyphs" transform="rotate(-90 15.6 253.6)">CD19 molecules per cell</text>
<line x1="277.1" y1="160.2" x2="277.1" y2="274.3" stroke="#1a1a1a" stroke-width="1.5"/>
<line x1="273.7" y1="273.7" x2="277.1" y2="273.7" stroke="#1a1a1a" stroke-width="1.2"/>
<text x="270.5" y="276.8" font-size="8.6" stroke="#1c1c1c" stroke-width="0.1" text-anchor="end">0</text>
<line x1="273.7" y1="236.93" x2="277.1" y2="236.93" stroke="#1a1a1a" stroke-width="1.2"/>
<text x="270.5" y="240.03" font-size="8.6" stroke="#1c1c1c" stroke-width="0.1" text-anchor="end">50</text>
<line x1="273.7" y1="200.17" x2="277.1" y2="200.17" stroke="#1a1a1a" stroke-width="1.2"/>
<text x="270.5" y="203.27" font-size="8.6" stroke="#1c1c1c" stroke-width="0.1" text-anchor="end">100</text>
<line x1="273.7" y1="163.4" x2="277.1" y2="163.4" stroke="#1a1a1a" stroke-width="1.2"/>
<text x="270.5" y="166.5" font-size="8.6" stroke="#1c1c1c" stroke-width="0.1" text-anchor="end">150</text>
<line x1="273.9" y1="273.7" x2="443.9" y2="273.7" stroke="#111" stroke-width="1.5"/>
<line x1="281.15" y1="265.7" x2="281.15" y2="264" stroke="#1e1e1e" stroke-width="1"/>
<path d="M279.65 263.6h3l-1.5 1.65z" fill="#1e1e1e"/>
<line x1="287.45" y1="259.8" x2="287.45" y2="254.3" stroke="#1e1e1e" stroke-width="1"/>
<path d="M285.95 253.9h3l-1.5 1.65z" fill="#1e1e1e"/>
<rect x="278.55" y="265.95" width="5.2" height="7.75" fill="#a00028" stroke="#82001e" stroke-width="0.5"/>
<rect x="284.85" y="260.05" width="5.2" height="13.65" fill="#2e4878" stroke="#1b3263" stroke-width="0.5"/>
<line x1="284.3" y1="273.7" x2="284.3" y2="276.7" stroke="#222" stroke-width="1.1"/>
<line x1="297.91" y1="265.7" x2="297.91" y2="264" stroke="#1e1e1e" stroke-width="1"/>
<path d="M296.41 263.6h3l-1.5 1.65z" fill="#1e1e1e"/>
<line x1="304.21" y1="259.8" x2="304.21" y2="254.3" stroke="#1e1e1e" stroke-width="1"/>
<path d="M302.71 253.9h3l-1.5 1.65z" fill="#1e1e1e"/>
<rect x="295.31" y="265.95" width="5.2" height="7.75" fill="#a00028" stroke="#82001e" stroke-width="0.5"/>
<rect x="301.61" y="260.05" width="5.2" height="13.65" fill="#2e4878" stroke="#1b3263" stroke-width="0.5"/>
<line x1="301.06" y1="273.7" x2="301.06" y2="276.7" stroke="#222" stroke-width="1.1"/>
<line x1="314.67" y1="265.9" x2="314.67" y2="264.3" stroke="#1e1e1e" stroke-width="1"/>
<path d="M313.17 263.9h3l-1.5 1.65z" fill="#1e1e1e"/>
<line x1="320.97" y1="259.3" x2="320.97" y2="255.5" stroke="#1e1e1e" stroke-width="1"/>
<path d="M319.47 255.1h3l-1.5 1.65z" fill="#1e1e1e"/>
<rect x="312.07" y="266.15" width="5.2" height="7.55" fill="#a00028" stroke="#82001e" stroke-width="0.5"/>
<rect x="318.37" y="259.55" width="5.2" height="14.15" fill="#2e4878" stroke="#1b3263" stroke-width="0.5"/>
<line x1="317.82" y1="273.7" x2="317.82" y2="276.7" stroke="#222" stroke-width="1.1"/>
<line x1="331.43" y1="267" x2="331.43" y2="264.4" stroke="#1e1e1e" stroke-width="1"/>
<path d="M329.93 264h3l-1.5 1.65z" fill="#1e1e1e"/>
<line x1="337.73" y1="257" x2="337.73" y2="252.2" stroke="#1e1e1e" stroke-width="1"/>
<path d="M336.23 251.8h3l-1.5 1.65z" fill="#1e1e1e"/>
<rect x="328.83" y="267.25" width="5.2" height="6.45" fill="#a00028" stroke="#82001e" stroke-width="0.5"/>
<rect x="335.13" y="257.25" width="5.2" height="16.45" fill="#2e4878" stroke="#1b3263" stroke-width="0.5"/>
<line x1="334.58" y1="273.7" x2="334.58" y2="276.7" stroke="#222" stroke-width="1.1"/>
<line x1="348.19" y1="266.1" x2="348.19" y2="264.2" stroke="#1e1e1e" stroke-width="1"/>
<path d="M346.69 263.8h3l-1.5 1.65z" fill="#1e1e1e"/>
<line x1="354.49" y1="249.2" x2="354.49" y2="242.2" stroke="#1e1e1e" stroke-width="1"/>
<path d="M352.99 241.8h3l-1.5 1.65z" fill="#1e1e1e"/>
<rect x="345.59" y="266.35" width="5.2" height="7.35" fill="#a00028" stroke="#82001e" stroke-width="0.5"/>
<rect x="351.89" y="249.45" width="5.2" height="24.25" fill="#2e4878" stroke="#1b3263" stroke-width="0.5"/>
<line x1="351.34" y1="273.7" x2="351.34" y2="276.7" stroke="#222" stroke-width="1.1"/>
<line x1="364.95" y1="263.6" x2="364.95" y2="262" stroke="#1e1e1e" stroke-width="1"/>
<path d="M363.45 261.6h3l-1.5 1.65z" fill="#1e1e1e"/>
<line x1="371.25" y1="232.6" x2="371.25" y2="224.9" stroke="#1e1e1e" stroke-width="1"/>
<path d="M369.75 224.5h3l-1.5 1.65z" fill="#1e1e1e"/>
<rect x="362.35" y="263.85" width="5.2" height="9.85" fill="#a00028" stroke="#82001e" stroke-width="0.5"/>
<rect x="368.65" y="232.85" width="5.2" height="40.85" fill="#2e4878" stroke="#1b3263" stroke-width="0.5"/>
<line x1="368.1" y1="273.7" x2="368.1" y2="276.7" stroke="#222" stroke-width="1.1"/>
<line x1="381.71" y1="266" x2="381.71" y2="264" stroke="#1e1e1e" stroke-width="1"/>
<path d="M380.21 263.6h3l-1.5 1.65z" fill="#1e1e1e"/>
<line x1="388.01" y1="217.7" x2="388.01" y2="213.3" stroke="#1e1e1e" stroke-width="1"/>
<path d="M386.51 212.9h3l-1.5 1.65z" fill="#1e1e1e"/>
<rect x="379.11" y="266.25" width="5.2" height="7.45" fill="#a00028" stroke="#82001e" stroke-width="0.5"/>
<rect x="385.41" y="217.95" width="5.2" height="55.75" fill="#2e4878" stroke="#1b3263" stroke-width="0.5"/>
<line x1="384.86" y1="273.7" x2="384.86" y2="276.7" stroke="#222" stroke-width="1.1"/>
<line x1="398.47" y1="266" x2="398.47" y2="264" stroke="#1e1e1e" stroke-width="1"/>
<path d="M396.97 263.6h3l-1.5 1.65z" fill="#1e1e1e"/>
<line x1="404.77" y1="209.2" x2="404.77" y2="206.5" stroke="#1e1e1e" stroke-width="1"/>
<path d="M403.27 206.1h3l-1.5 1.65z" fill="#1e1e1e"/>
<rect x="395.87" y="266.25" width="5.2" height="7.45" fill="#a00028" stroke="#82001e" stroke-width="0.5"/>
<rect x="402.17" y="209.45" width="5.2" height="64.25" fill="#2e4878" stroke="#1b3263" stroke-width="0.5"/>
<line x1="401.62" y1="273.7" x2="401.62" y2="276.7" stroke="#222" stroke-width="1.1"/>
<line x1="415.23" y1="263.6" x2="415.23" y2="261.1" stroke="#1e1e1e" stroke-width="1"/>
<path d="M413.73 260.7h3l-1.5 1.65z" fill="#1e1e1e"/>
<line x1="421.53" y1="219.3" x2="421.53" y2="209.7" stroke="#1e1e1e" stroke-width="1"/>
<path d="M420.03 209.3h3l-1.5 1.65z" fill="#1e1e1e"/>
<rect x="412.63" y="263.85" width="5.2" height="9.85" fill="#a00028" stroke="#82001e" stroke-width="0.5"/>
<rect x="418.93" y="219.55" width="5.2" height="54.15" fill="#2e4878" stroke="#1b3263" stroke-width="0.5"/>
<line x1="418.38" y1="273.7" x2="418.38" y2="276.7" stroke="#222" stroke-width="1.1"/>
<line x1="431.99" y1="206.5" x2="431.99" y2="202" stroke="#1e1e1e" stroke-width="1"/>
<path d="M430.49 201.6h3l-1.5 1.65z" fill="#1e1e1e"/>
<line x1="438.29" y1="206.5" x2="438.29" y2="204.4" stroke="#1e1e1e" stroke-width="1"/>
<path d="M436.79 204h3l-1.5 1.65z" fill="#1e1e1e"/>
<rect x="429.39" y="206.75" width="5.2" height="66.95" fill="#a00028" stroke="#82001e" stroke-width="0.5"/>
<rect x="435.69" y="206.75" width="5.2" height="66.95" fill="#2e4878" stroke="#1b3263" stroke-width="0.5"/>
<line x1="435.14" y1="273.7" x2="435.14" y2="276.7" stroke="#222" stroke-width="1.1"/>
<text x="351.34" y="242.2" font-size="7.6" stroke="#111" stroke-width="0.3" text-anchor="middle" fill="#111">*</text>
<text x="366.4" y="225" font-size="7.6" stroke="#111" stroke-width="0.3" text-anchor="middle" fill="#111">**</text>
<text x="384.86" y="213.3" font-size="7.6" stroke="#111" stroke-width="0.3" text-anchor="middle" fill="#111">****</text>
<text x="401.62" y="207" font-size="7.6" stroke="#111" stroke-width="0.3" text-anchor="middle" fill="#111">****</text>
<text x="418.38" y="210" font-size="7.6" stroke="#111" stroke-width="0.3" text-anchor="middle" fill="#111">**</text>
<text x="289.3" y="283.6" font-size="8.2" stroke="#1c1c1c" stroke-width="0.12" text-anchor="end" transform="rotate(-45 289.3 283.6)">0 ug</text>
<text x="306.06" y="283.6" font-size="8.2" stroke="#1c1c1c" stroke-width="0.12" text-anchor="end" transform="rotate(-45 306.06 283.6)">0.001ug</text>
<text x="322.82" y="283.6" font-size="8.2" stroke="#1c1c1c" stroke-width="0.12" text-anchor="end" transform="rotate(-45 322.82 283.6)">0.005ug</text>
<text x="339.58" y="283.6" font-size="8.2" stroke="#1c1c1c" stroke-width="0.12" text-anchor="end" transform="rotate(-45 339.58 283.6)">0.02ug</text>
<text x="356.34" y="283.6" font-size="8.2" stroke="#1c1c1c" stroke-width="0.12" text-anchor="end" transform="rotate(-45 356.34 283.6)">0.1ug</text>
<text x="373.1" y="283.6" font-size="8.2" stroke="#1c1c1c" stroke-width="0.12" text-anchor="end" transform="rotate(-45 373.1 283.6)">0.5ug</text>
<text x="389.86" y="283.6" font-size="8.2" stroke="#1c1c1c" stroke-width="0.12" text-anchor="end" transform="rotate(-45 389.86 283.6)">2ug</text>
<text x="406.62" y="283.6" font-size="8.2" stroke="#1c1c1c" stroke-width="0.12" text-anchor="end" transform="rotate(-45 406.62 283.6)">10ug</text>
<text x="423.38" y="283.6" font-size="8.2" stroke="#1c1c1c" stroke-width="0.12" text-anchor="end" transform="rotate(-45 423.38 283.6)">Nalm6</text>
<text x="440.14" y="283.6" font-size="8.2" stroke="#1c1c1c" stroke-width="0.12" text-anchor="end" transform="rotate(-45 440.14 283.6)">Beads</text>
<text x="248.3" y="242.5" font-size="9.6" stroke="#1c1c1c" stroke-width="0.32" textLength="51.6" lengthAdjust="spacingAndGlyphs" transform="rotate(-90 248.3 242.5)">CD69 expression</text>
<rect x="283.9" y="161" width="12.8" height="7.2" fill="#2e4878" stroke="#1b3263" stroke-width="0.5"/>
<rect x="283.9" y="172.9" width="12.8" height="7.2" fill="#a00028" stroke="#82001e" stroke-width="0.5"/>
<text x="300.3" y="167.2" font-size="8.6" stroke="#1c1c1c" stroke-width="0.05" textLength="15.2" lengthAdjust="spacingAndGlyphs">NTD</text>
<text x="300.3" y="179.1" font-size="8.6" stroke="#1c1c1c" stroke-width="0.05" textLength="15.9" lengthAdjust="spacingAndGlyphs">CAR</text>
<line x1="53.5" y1="338.6" x2="53.5" y2="456.9" stroke="#1a1a1a" stroke-width="1.5"/>
<line x1="50.1" y1="456.3" x2="53.5" y2="456.3" stroke="#1a1a1a" stroke-width="1.2"/>
<text x="47.4" y="459.4" font-size="8.6" stroke="#1c1c1c" stroke-width="0.1" text-anchor="end">0</text>
<line x1="50.1" y1="433.34" x2="53.5" y2="433.34" stroke="#1a1a1a" stroke-width="1.2"/>
<text x="47.4" y="436.44" font-size="8.6" stroke="#1c1c1c" stroke-width="0.1" text-anchor="end">20</text>
<line x1="50.1" y1="410.38" x2="53.5" y2="410.38" stroke="#1a1a1a" stroke-width="1.2"/>
<text x="47.4" y="413.48" font-size="8.6" stroke="#1c1c1c" stroke-width="0.1" text-anchor="end">40</text>
<line x1="50.1" y1="387.42" x2="53.5" y2="387.42" stroke="#1a1a1a" stroke-width="1.2"/>
<text x="47.4" y="390.52" font-size="8.6" stroke="#1c1c1c" stroke-width="0.1" text-anchor="end">60</text>
<line x1="50.1" y1="364.46" x2="53.5" y2="364.46" stroke="#1a1a1a" stroke-width="1.2"/>
<text x="47.4" y="367.56" font-size="8.6" stroke="#1c1c1c" stroke-width="0.1" text-anchor="end">80</text>
<line x1="50.1" y1="341.5" x2="53.5" y2="341.5" stroke="#1a1a1a" stroke-width="1.2"/>
<text x="47.4" y="344.6" font-size="8.6" stroke="#1c1c1c" stroke-width="0.1" text-anchor="end">100</text>
<line x1="50.3" y1="456.3" x2="224.7" y2="456.3" stroke="#111" stroke-width="1.5"/>
<line x1="57.3" y1="453.5" x2="57.3" y2="451.2" stroke="#1e1e1e" stroke-width="1"/>
<path d="M55.8 450.8h3l-1.5 1.65z" fill="#1e1e1e"/>
<line x1="64.6" y1="454.6" x2="64.6" y2="452.7" stroke="#1e1e1e" stroke-width="1"/>
<path d="M63.1 452.3h3l-1.5 1.65z" fill="#1e1e1e"/>
<rect x="54.65" y="453.75" width="5.3" height="2.55" fill="#a00028" stroke="#82001e" stroke-width="0.5"/>
<rect x="61.95" y="454.85" width="5.3" height="1.45" fill="#2e4878" stroke="#1b3263" stroke-width="0.5"/>
<line x1="60.95" y1="456.3" x2="60.95" y2="459.3" stroke="#222" stroke-width="1.1"/>
<line x1="74.59" y1="454" x2="74.59" y2="452" stroke="#1e1e1e" stroke-width="1"/>
<path d="M73.09 451.6h3l-1.5 1.65z" fill="#1e1e1e"/>
<line x1="81.89" y1="454.5" x2="81.89" y2="453" stroke="#1e1e1e" stroke-width="1"/>
<path d="M80.39 452.6h3l-1.5 1.65z" fill="#1e1e1e"/>
<rect x="71.94" y="454.25" width="5.3" height="2.05" fill="#a00028" stroke="#82001e" stroke-width="0.5"/>
<rect x="79.24" y="454.75" width="5.3" height="1.55" fill="#2e4878" stroke="#1b3263" stroke-width="0.5"/>
<line x1="78.24" y1="456.3" x2="78.24" y2="459.3" stroke="#222" stroke-width="1.1"/>
<line x1="91.88" y1="454.8" x2="91.88" y2="453" stroke="#1e1e1e" stroke-width="1"/>
<path d="M90.38 452.6h3l-1.5 1.65z" fill="#1e1e1e"/>
<line x1="99.18" y1="454" x2="99.18" y2="453" stroke="#1e1e1e" stroke-width="1"/>
<path d="M97.68 452.6h3l-1.5 1.65z" fill="#1e1e1e"/>
<rect x="89.23" y="455.05" width="5.3" height="1.25" fill="#a00028" stroke="#82001e" stroke-width="0.5"/>
<rect x="96.53" y="454.25" width="5.3" height="2.05" fill="#2e4878" stroke="#1b3263" stroke-width="0.5"/>
<line x1="95.53" y1="456.3" x2="95.53" y2="459.3" stroke="#222" stroke-width="1.1"/>
<line x1="109.17" y1="454.8" x2="109.17" y2="452" stroke="#1e1e1e" stroke-width="1"/>
<path d="M107.67 451.6h3l-1.5 1.65z" fill="#1e1e1e"/>
<line x1="116.47" y1="453.5" x2="116.47" y2="451.5" stroke="#1e1e1e" stroke-width="1"/>
<path d="M114.97 451.1h3l-1.5 1.65z" fill="#1e1e1e"/>
<rect x="106.52" y="455.05" width="5.3" height="1.25" fill="#a00028" stroke="#82001e" stroke-width="0.5"/>
<rect x="113.82" y="453.75" width="5.3" height="2.55" fill="#2e4878" stroke="#1b3263" stroke-width="0.5"/>
<line x1="112.82" y1="456.3" x2="112.82" y2="459.3" stroke="#222" stroke-width="1.1"/>
<line x1="126.46" y1="455" x2="126.46" y2="452.5" stroke="#1e1e1e" stroke-width="1"/>
<path d="M124.96 452.1h3l-1.5 1.65z" fill="#1e1e1e"/>
<line x1="133.76" y1="449.6" x2="133.76" y2="448.2" stroke="#1e1e1e" stroke-width="1"/>
<path d="M132.26 447.8h3l-1.5 1.65z" fill="#1e1e1e"/>
<rect x="123.81" y="455.25" width="5.3" height="1.05" fill="#a00028" stroke="#82001e" stroke-width="0.5"/>
<rect x="131.11" y="449.85" width="5.3" height="6.45" fill="#2e4878" stroke="#1b3263" stroke-width="0.5"/>
<line x1="130.11" y1="456.3" x2="130.11" y2="459.3" stroke="#222" stroke-width="1.1"/>
<line x1="143.75" y1="455" x2="143.75" y2="453" stroke="#1e1e1e" stroke-width="1"/>
<path d="M142.25 452.6h3l-1.5 1.65z" fill="#1e1e1e"/>
<line x1="151.05" y1="438.3" x2="151.05" y2="435.5" stroke="#1e1e1e" stroke-width="1"/>
<path d="M149.55 435.1h3l-1.5 1.65z" fill="#1e1e1e"/>
<rect x="141.1" y="455.25" width="5.3" height="1.05" fill="#a00028" stroke="#82001e" stroke-width="0.5"/>
<rect x="148.4" y="438.55" width="5.3" height="17.75" fill="#2e4878" stroke="#1b3263" stroke-width="0.5"/>
<line x1="147.4" y1="456.3" x2="147.4" y2="459.3" stroke="#222" stroke-width="1.1"/>
<line x1="161.04" y1="455" x2="161.04" y2="452" stroke="#1e1e1e" stroke-width="1"/>
<path d="M159.54 451.6h3l-1.5 1.65z" fill="#1e1e1e"/>
<line x1="168.34" y1="417.8" x2="168.34" y2="412.4" stroke="#1e1e1e" stroke-width="1"/>
<path d="M166.84 412h3l-1.5 1.65z" fill="#1e1e1e"/>
<rect x="158.39" y="455.25" width="5.3" height="1.05" fill="#a00028" stroke="#82001e" stroke-width="0.5"/>
<rect x="165.69" y="418.05" width="5.3" height="38.25" fill="#2e4878" stroke="#1b3263" stroke-width="0.5"/>
<line x1="164.69" y1="456.3" x2="164.69" y2="459.3" stroke="#222" stroke-width="1.1"/>
<line x1="178.33" y1="455" x2="178.33" y2="452" stroke="#1e1e1e" stroke-width="1"/>
<path d="M176.83 451.6h3l-1.5 1.65z" fill="#1e1e1e"/>
<line x1="185.63" y1="393.3" x2="185.63" y2="385.7" stroke="#1e1e1e" stroke-width="1"/>
<path d="M184.13 385.3h3l-1.5 1.65z" fill="#1e1e1e"/>
<rect x="175.68" y="455.25" width="5.3" height="1.05" fill="#a00028" stroke="#82001e" stroke-width="0.5"/>
<rect x="182.98" y="393.55" width="5.3" height="62.75" fill="#2e4878" stroke="#1b3263" stroke-width="0.5"/>
<line x1="181.98" y1="456.3" x2="181.98" y2="459.3" stroke="#222" stroke-width="1.1"/>
<line x1="195.62" y1="455" x2="195.62" y2="452.4" stroke="#1e1e1e" stroke-width="1"/>
<path d="M194.12 452h3l-1.5 1.65z" fill="#1e1e1e"/>
<line x1="202.92" y1="406" x2="202.92" y2="380" stroke="#1e1e1e" stroke-width="1"/>
<path d="M201.42 379.6h3l-1.5 1.65z" fill="#1e1e1e"/>
<rect x="192.97" y="455.25" width="5.3" height="1.05" fill="#a00028" stroke="#82001e" stroke-width="0.5"/>
<rect x="200.27" y="406.25" width="5.3" height="50.05" fill="#2e4878" stroke="#1b3263" stroke-width="0.5"/>
<line x1="199.27" y1="456.3" x2="199.27" y2="459.3" stroke="#222" stroke-width="1.1"/>
<line x1="212.91" y1="370.8" x2="212.91" y2="365.7" stroke="#1e1e1e" stroke-width="1"/>
<path d="M211.41 365.3h3l-1.5 1.65z" fill="#1e1e1e"/>
<line x1="220.21" y1="371.6" x2="220.21" y2="370.2" stroke="#1e1e1e" stroke-width="1"/>
<path d="M218.71 369.8h3l-1.5 1.65z" fill="#1e1e1e"/>
<rect x="210.26" y="371.05" width="5.3" height="85.25" fill="#a00028" stroke="#82001e" stroke-width="0.5"/>
<rect x="217.56" y="371.85" width="5.3" height="84.45" fill="#2e4878" stroke="#1b3263" stroke-width="0.5"/>
<line x1="216.56" y1="456.3" x2="216.56" y2="459.3" stroke="#222" stroke-width="1.1"/>
<text x="130.11" y="448.2" font-size="7.6" stroke="#111" stroke-width="0.3" text-anchor="middle" fill="#111">**</text>
<text x="147.4" y="435.4" font-size="7.6" stroke="#111" stroke-width="0.3" text-anchor="middle" fill="#111">***</text>
<text x="164.69" y="412.3" font-size="7.6" stroke="#111" stroke-width="0.3" text-anchor="middle" fill="#111">***</text>
<text x="181.98" y="385.6" font-size="7.6" stroke="#111" stroke-width="0.3" text-anchor="middle" fill="#111">***</text>
<text x="199.27" y="380" font-size="7.6" stroke="#111" stroke-width="0.3" text-anchor="middle" fill="#111">*</text>
<text x="64.45" y="466.1" font-size="8.2" stroke="#1c1c1c" stroke-width="0.12" text-anchor="end" transform="rotate(-45 64.45 466.1)">0 ug</text>
<text x="81.74" y="466.1" font-size="8.2" stroke="#1c1c1c" stroke-width="0.12" text-anchor="end" transform="rotate(-45 81.74 466.1)">0.001ug</text>
<text x="99.03" y="466.1" font-size="8.2" stroke="#1c1c1c" stroke-width="0.12" text-anchor="end" transform="rotate(-45 99.03 466.1)">0.005ug</text>
<text x="116.32" y="466.1" font-size="8.2" stroke="#1c1c1c" stroke-width="0.12" text-anchor="end" transform="rotate(-45 116.32 466.1)">0.02ug</text>
<text x="133.61" y="466.1" font-size="8.2" stroke="#1c1c1c" stroke-width="0.12" text-anchor="end" transform="rotate(-45 133.61 466.1)">0.1ug</text>
<text x="150.9" y="466.1" font-size="8.2" stroke="#1c1c1c" stroke-width="0.12" text-anchor="end" transform="rotate(-45 150.9 466.1)">0.5ug</text>
<text x="168.19" y="466.1" font-size="8.2" stroke="#1c1c1c" stroke-width="0.12" text-anchor="end" transform="rotate(-45 168.19 466.1)">2ug</text>
<text x="185.48" y="466.1" font-size="8.2" stroke="#1c1c1c" stroke-width="0.12" text-anchor="end" transform="rotate(-45 185.48 466.1)">10ug</text>
<text x="202.77" y="466.1" font-size="8.2" stroke="#1c1c1c" stroke-width="0.12" text-anchor="end" transform="rotate(-45 202.77 466.1)">Nalm6</text>
<text x="220.06" y="466.1" font-size="8.2" stroke="#1c1c1c" stroke-width="0.12" text-anchor="end" transform="rotate(-45 220.06 466.1)">Beads</text>
<text x="25.5" y="425.2" font-size="9.6" stroke="#1c1c1c" stroke-width="0.32" textLength="55.5" lengthAdjust="spacingAndGlyphs" transform="rotate(-90 25.5 425.2)">CD137 expression</text>
<rect x="60" y="345.7" width="12.8" height="7.2" fill="#2e4878" stroke="#1b3263" stroke-width="0.5"/>
<rect x="60" y="357.8" width="12.8" height="7.2" fill="#a00028" stroke="#82001e" stroke-width="0.5"/>
<text x="76.4" y="351.9" font-size="8.6" stroke="#1c1c1c" stroke-width="0.05" textLength="15.2" lengthAdjust="spacingAndGlyphs">NTD</text>
<text x="76.4" y="364" font-size="8.6" stroke="#1c1c1c" stroke-width="0.05" textLength="15.9" lengthAdjust="spacingAndGlyphs">CAR</text>
<line x1="276.9" y1="342.8" x2="276.9" y2="456.9" stroke="#1a1a1a" stroke-width="1.5"/>
<line x1="273.5" y1="456.3" x2="276.9" y2="456.3" stroke="#1a1a1a" stroke-width="1.2"/>
<text x="270.4" y="459.4" font-size="8.6" stroke="#1c1c1c" stroke-width="0.1" text-anchor="end">0</text>
<line x1="273.5" y1="434.2" x2="276.9" y2="434.2" stroke="#1a1a1a" stroke-width="1.2"/>
<text x="270.4" y="437.3" font-size="8.6" stroke="#1c1c1c" stroke-width="0.1" text-anchor="end">20</text>
<line x1="273.5" y1="412.1" x2="276.9" y2="412.1" stroke="#1a1a1a" stroke-width="1.2"/>
<text x="270.4" y="415.2" font-size="8.6" stroke="#1c1c1c" stroke-width="0.1" text-anchor="end">40</text>
<line x1="273.5" y1="390" x2="276.9" y2="390" stroke="#1a1a1a" stroke-width="1.2"/>
<text x="270.4" y="393.1" font-size="8.6" stroke="#1c1c1c" stroke-width="0.1" text-anchor="end">60</text>
<line x1="273.5" y1="367.9" x2="276.9" y2="367.9" stroke="#1a1a1a" stroke-width="1.2"/>
<text x="270.4" y="371" font-size="8.6" stroke="#1c1c1c" stroke-width="0.1" text-anchor="end">80</text>
<line x1="273.5" y1="345.8" x2="276.9" y2="345.8" stroke="#1a1a1a" stroke-width="1.2"/>
<text x="270.4" y="348.9" font-size="8.6" stroke="#1c1c1c" stroke-width="0.1" text-anchor="end">100</text>
<line x1="273.7" y1="456.3" x2="441.6" y2="456.3" stroke="#111" stroke-width="1.5"/>
<line x1="288.75" y1="455.8" x2="288.75" y2="453" stroke="#1e1e1e" stroke-width="1"/>
<path d="M287.25 452.6h3l-1.5 1.65z" fill="#1e1e1e"/>
<rect x="278.85" y="455.85" width="5.3" height="0.45" fill="#a00028" stroke="#82001e" stroke-width="0.5"/>
<rect x="286.15" y="456.05" width="5.2" height="0.25" fill="#2e4878" stroke="#1b3263" stroke-width="0.5"/>
<line x1="285.15" y1="456.3" x2="285.15" y2="459.3" stroke="#222" stroke-width="1.1"/>
<line x1="300.07" y1="451.7" x2="300.07" y2="448.7" stroke="#1e1e1e" stroke-width="1"/>
<path d="M298.57 448.3h3l-1.5 1.65z" fill="#1e1e1e"/>
<line x1="307.32" y1="450.6" x2="307.32" y2="446.7" stroke="#1e1e1e" stroke-width="1"/>
<path d="M305.82 446.3h3l-1.5 1.65z" fill="#1e1e1e"/>
<rect x="297.42" y="451.95" width="5.3" height="4.35" fill="#a00028" stroke="#82001e" stroke-width="0.5"/>
<rect x="304.72" y="450.85" width="5.2" height="5.45" fill="#2e4878" stroke="#1b3263" stroke-width="0.5"/>
<line x1="303.72" y1="456.3" x2="303.72" y2="459.3" stroke="#222" stroke-width="1.1"/>
<line x1="318.64" y1="451.2" x2="318.64" y2="445.4" stroke="#1e1e1e" stroke-width="1"/>
<path d="M317.14 445h3l-1.5 1.65z" fill="#1e1e1e"/>
<line x1="325.89" y1="446.5" x2="325.89" y2="442" stroke="#1e1e1e" stroke-width="1"/>
<path d="M324.39 441.6h3l-1.5 1.65z" fill="#1e1e1e"/>
<rect x="315.99" y="451.45" width="5.3" height="4.85" fill="#a00028" stroke="#82001e" stroke-width="0.5"/>
<rect x="323.29" y="446.75" width="5.2" height="9.55" fill="#2e4878" stroke="#1b3263" stroke-width="0.5"/>
<line x1="322.29" y1="456.3" x2="322.29" y2="459.3" stroke="#222" stroke-width="1.1"/>
<line x1="337.21" y1="447.8" x2="337.21" y2="446.5" stroke="#1e1e1e" stroke-width="1"/>
<path d="M335.71 446.1h3l-1.5 1.65z" fill="#1e1e1e"/>
<line x1="344.46" y1="441.5" x2="344.46" y2="439.4" stroke="#1e1e1e" stroke-width="1"/>
<path d="M342.96 439h3l-1.5 1.65z" fill="#1e1e1e"/>
<rect x="334.56" y="448.05" width="5.3" height="8.25" fill="#a00028" stroke="#82001e" stroke-width="0.5"/>
<rect x="341.86" y="441.75" width="5.2" height="14.55" fill="#2e4878" stroke="#1b3263" stroke-width="0.5"/>
<line x1="340.86" y1="456.3" x2="340.86" y2="459.3" stroke="#222" stroke-width="1.1"/>
<line x1="355.78" y1="443.8" x2="355.78" y2="442" stroke="#1e1e1e" stroke-width="1"/>
<path d="M354.28 441.6h3l-1.5 1.65z" fill="#1e1e1e"/>
<line x1="363.03" y1="423.7" x2="363.03" y2="421.6" stroke="#1e1e1e" stroke-width="1"/>
<path d="M361.53 421.2h3l-1.5 1.65z" fill="#1e1e1e"/>
<rect x="353.13" y="444.05" width="5.3" height="12.25" fill="#a00028" stroke="#82001e" stroke-width="0.5"/>
<rect x="360.43" y="423.95" width="5.2" height="32.35" fill="#2e4878" stroke="#1b3263" stroke-width="0.5"/>
<line x1="359.43" y1="456.3" x2="359.43" y2="459.3" stroke="#222" stroke-width="1.1"/>
<line x1="374.35" y1="426.3" x2="374.35" y2="423.7" stroke="#1e1e1e" stroke-width="1"/>
<path d="M372.85 423.3h3l-1.5 1.65z" fill="#1e1e1e"/>
<line x1="381.6" y1="420.3" x2="381.6" y2="418" stroke="#1e1e1e" stroke-width="1"/>
<path d="M380.1 417.6h3l-1.5 1.65z" fill="#1e1e1e"/>
<rect x="371.7" y="426.55" width="5.3" height="29.75" fill="#a00028" stroke="#82001e" stroke-width="0.5"/>
<rect x="379" y="420.55" width="5.2" height="35.75" fill="#2e4878" stroke="#1b3263" stroke-width="0.5"/>
<line x1="378" y1="456.3" x2="378" y2="459.3" stroke="#222" stroke-width="1.1"/>
<line x1="392.92" y1="450.6" x2="392.92" y2="449.3" stroke="#1e1e1e" stroke-width="1"/>
<path d="M391.42 448.9h3l-1.5 1.65z" fill="#1e1e1e"/>
<line x1="400.17" y1="415.1" x2="400.17" y2="414.5" stroke="#1e1e1e" stroke-width="1"/>
<path d="M398.67 414.1h3l-1.5 1.65z" fill="#1e1e1e"/>
<rect x="390.27" y="450.85" width="5.3" height="5.45" fill="#a00028" stroke="#82001e" stroke-width="0.5"/>
<rect x="397.57" y="415.35" width="5.2" height="40.95" fill="#2e4878" stroke="#1b3263" stroke-width="0.5"/>
<line x1="396.57" y1="456.3" x2="396.57" y2="459.3" stroke="#222" stroke-width="1.1"/>
<line x1="411.49" y1="443.6" x2="411.49" y2="442.5" stroke="#1e1e1e" stroke-width="1"/>
<path d="M409.99 442.1h3l-1.5 1.65z" fill="#1e1e1e"/>
<line x1="418.74" y1="399.4" x2="418.74" y2="396.2" stroke="#1e1e1e" stroke-width="1"/>
<path d="M417.24 395.8h3l-1.5 1.65z" fill="#1e1e1e"/>
<rect x="408.84" y="443.85" width="5.3" height="12.45" fill="#a00028" stroke="#82001e" stroke-width="0.5"/>
<rect x="416.14" y="399.65" width="5.2" height="56.65" fill="#2e4878" stroke="#1b3263" stroke-width="0.5"/>
<line x1="415.14" y1="456.3" x2="415.14" y2="459.3" stroke="#222" stroke-width="1.1"/>
<line x1="430.06" y1="445.7" x2="430.06" y2="444.1" stroke="#1e1e1e" stroke-width="1"/>
<path d="M428.56 443.7h3l-1.5 1.65z" fill="#1e1e1e"/>
<line x1="437.31" y1="366.7" x2="437.31" y2="366.2" stroke="#1e1e1e" stroke-width="1"/>
<path d="M435.81 365.8h3l-1.5 1.65z" fill="#1e1e1e"/>
<rect x="427.41" y="445.95" width="5.3" height="10.35" fill="#a00028" stroke="#82001e" stroke-width="0.5"/>
<rect x="434.71" y="366.95" width="5.2" height="89.35" fill="#2e4878" stroke="#1b3263" stroke-width="0.5"/>
<line x1="433.71" y1="456.3" x2="433.71" y2="459.3" stroke="#222" stroke-width="1.1"/>
<text x="338.86" y="439.6" font-size="7.6" stroke="#111" stroke-width="0.3" text-anchor="middle" fill="#111">**</text>
<text x="357.43" y="421.8" font-size="7.6" stroke="#111" stroke-width="0.3" text-anchor="middle" fill="#111">***</text>
<text x="376" y="418.1" font-size="7.6" stroke="#111" stroke-width="0.3" text-anchor="middle" fill="#111">*</text>
<text x="394.57" y="414.7" font-size="7.6" stroke="#111" stroke-width="0.3" text-anchor="middle" fill="#111">****</text>
<text x="413.14" y="396.4" font-size="7.6" stroke="#111" stroke-width="0.3" text-anchor="middle" fill="#111">****</text>
<text x="431.71" y="366.3" font-size="7.6" stroke="#111" stroke-width="0.3" text-anchor="middle" fill="#111">****</text>
<text x="288.45" y="466.1" font-size="8.2" stroke="#1c1c1c" stroke-width="0.12" text-anchor="end" transform="rotate(-45 288.45 466.1)">0ug</text>
<text x="307.02" y="466.1" font-size="8.2" stroke="#1c1c1c" stroke-width="0.12" text-anchor="end" transform="rotate(-45 307.02 466.1)">0.001ug</text>
<text x="325.59" y="466.1" font-size="8.2" stroke="#1c1c1c" stroke-width="0.12" text-anchor="end" transform="rotate(-45 325.59 466.1)">0.005ug</text>
<text x="344.16" y="466.1" font-size="8.2" stroke="#1c1c1c" stroke-width="0.12" text-anchor="end" transform="rotate(-45 344.16 466.1)">0.02ug</text>
<text x="362.73" y="466.1" font-size="8.2" stroke="#1c1c1c" stroke-width="0.12" text-anchor="end" transform="rotate(-45 362.73 466.1)">0.1ug</text>
<text x="381.3" y="466.1" font-size="8.2" stroke="#1c1c1c" stroke-width="0.12" text-anchor="end" transform="rotate(-45 381.3 466.1)">0.5ug</text>
<text x="399.87" y="466.1" font-size="8.2" stroke="#1c1c1c" stroke-width="0.12" text-anchor="end" transform="rotate(-45 399.87 466.1)">2ug</text>
<text x="418.44" y="466.1" font-size="8.2" stroke="#1c1c1c" stroke-width="0.12" text-anchor="end" transform="rotate(-45 418.44 466.1)">10ug</text>
<text x="437.01" y="466.1" font-size="8.2" stroke="#1c1c1c" stroke-width="0.12" text-anchor="end" transform="rotate(-45 437.01 466.1)">Nalm6</text>
<text x="250" y="430.4" font-size="9.6" stroke="#1c1c1c" stroke-width="0.32" textLength="62.4" lengthAdjust="spacingAndGlyphs" transform="rotate(-90 250 430.4)">% normalized killing</text>
<rect x="283.6" y="349.8" width="12.8" height="7.2" fill="#2e4878" stroke="#1b3263" stroke-width="0.5"/>
<rect x="283.6" y="361.9" width="12.8" height="7.2" fill="#a00028" stroke="#82001e" stroke-width="0.5"/>
<text x="300" y="356" font-size="8.6" stroke="#1c1c1c" stroke-width="0.05" textLength="15.2" lengthAdjust="spacingAndGlyphs">NTD</text>
<text x="300" y="368.1" font-size="8.6" stroke="#1c1c1c" stroke-width="0.05" textLength="15.9" lengthAdjust="spacingAndGlyphs">CAR</text>
</svg></div></body></html>
